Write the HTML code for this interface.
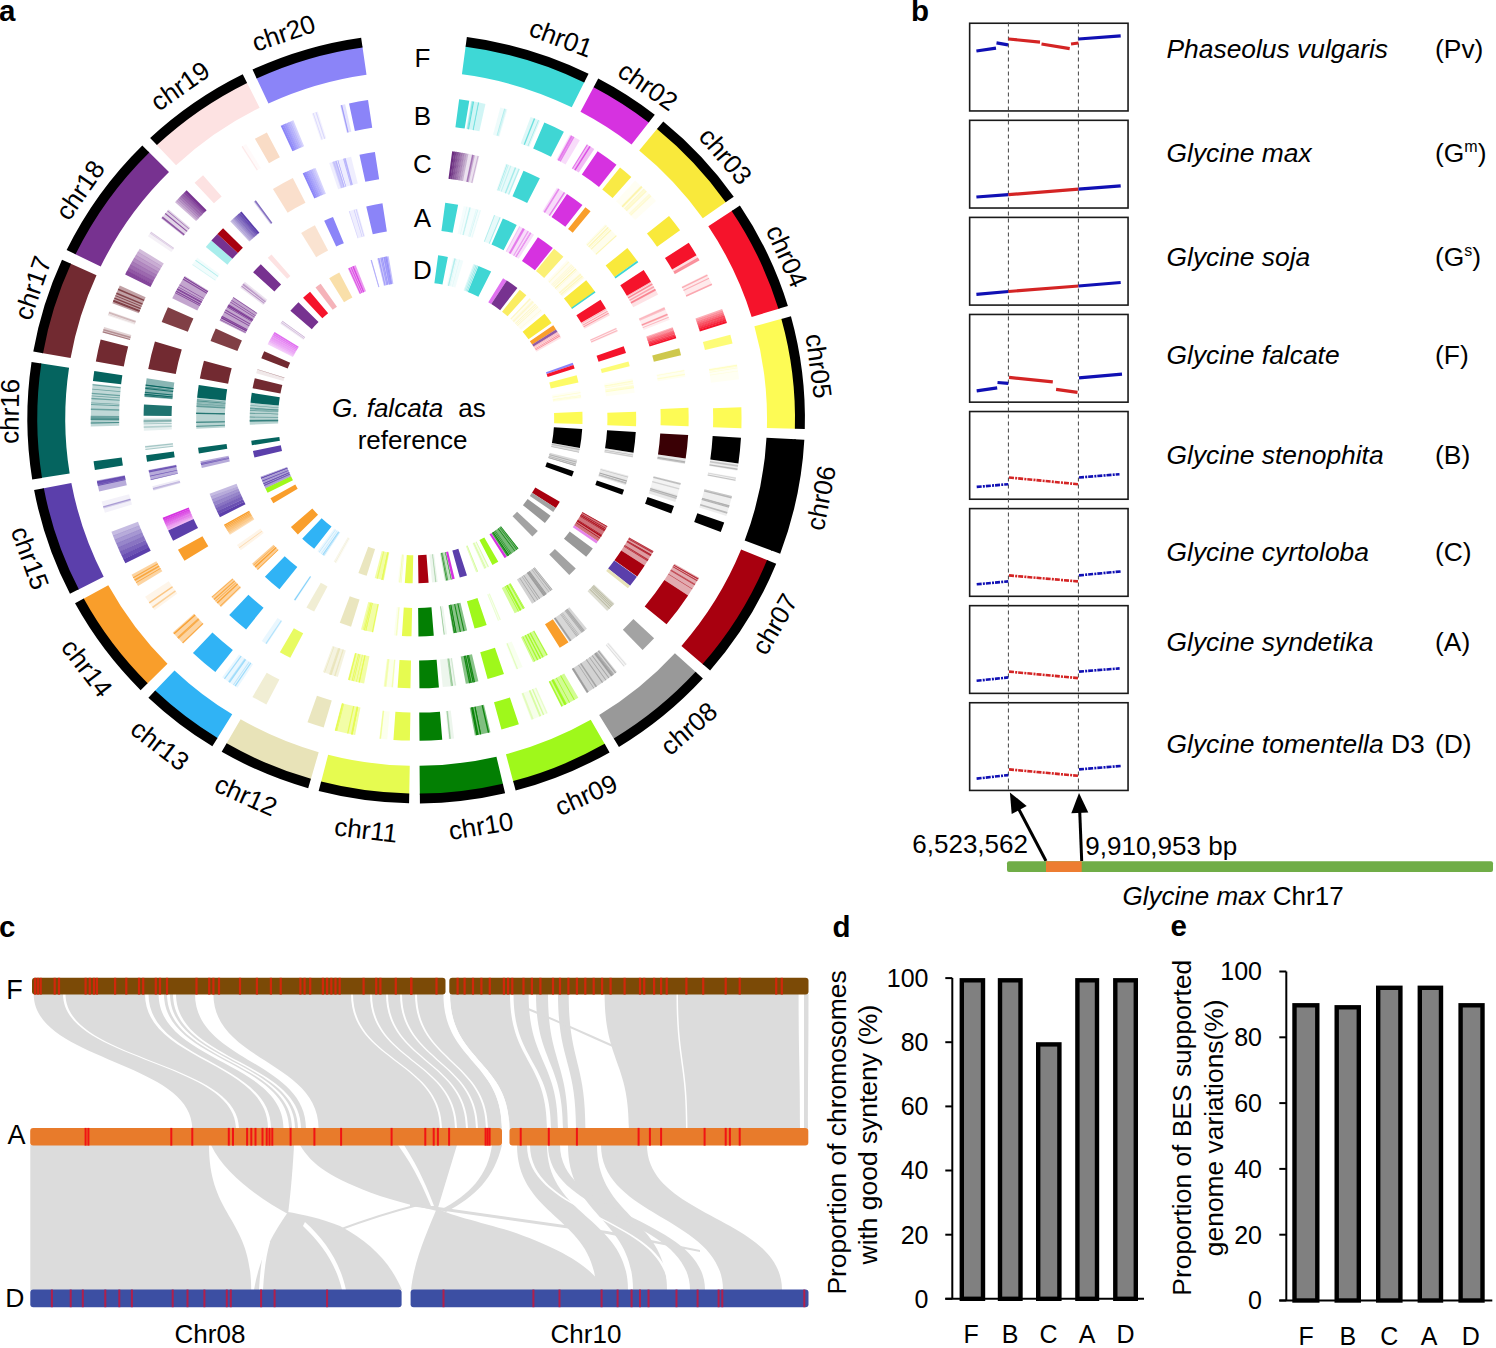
<!DOCTYPE html><html><head><meta charset="utf-8"><style>
html,body{margin:0;padding:0;background:#fff;width:1496px;height:1348px;overflow:hidden}
svg{display:block} text{font-family:"Liberation Sans",sans-serif;fill:#000}
</style></head><body>
<svg width="1496" height="1348" viewBox="0 0 1496 1348">
<rect width="1496" height="1348" fill="#fff"/>
<text x="-1" y="21" font-size="29.5" font-weight="bold">a</text>
<text x="911" y="21.4" font-size="29.5" font-weight="bold">b</text>
<text x="-1" y="936.5" font-size="29.5" font-weight="bold">c</text>
<text x="832.5" y="936.6" font-size="29.5" font-weight="bold">d</text>
<text x="1170.5" y="935.9" font-size="29.5" font-weight="bold">e</text>
<g transform="translate(416.13,418.6) scale(1.00465,0.99432)">
<path d="M49.40,-375.25A378.49,378.49 0 0 1 167.87,-339.22L154.91,-313.03A349.27,349.27 0 0 0 45.59,-346.28Z" fill="#3ed8d6"/>
<path d="M50.51,-383.69A387.00,387.00 0 0 1 171.65,-346.85L167.27,-338.01A377.13,377.13 0 0 0 49.23,-373.91Z" fill="#000"/>
<path d="M177.28,-334.40A378.49,378.49 0 0 1 232.34,-298.78L214.41,-275.71A349.27,349.27 0 0 0 163.59,-308.58Z" fill="#d632e0"/>
<path d="M181.27,-341.92A387.00,387.00 0 0 1 237.57,-305.50L231.51,-297.71A377.13,377.13 0 0 0 176.65,-333.20Z" fill="#000"/>
<path d="M240.59,-292.18A378.49,378.49 0 0 1 309.20,-218.28L285.33,-201.43A349.27,349.27 0 0 0 222.02,-269.62Z" fill="#f9e93b"/>
<path d="M246.01,-298.75A387.00,387.00 0 0 1 316.16,-223.19L308.10,-217.50A377.13,377.13 0 0 0 239.73,-291.13Z" fill="#000"/>
<path d="M315.18,-209.56A378.49,378.49 0 0 1 361.91,-110.78L333.97,-102.23A349.27,349.27 0 0 0 290.84,-193.38Z" fill="#f5132b"/>
<path d="M322.27,-214.28A387.00,387.00 0 0 1 370.05,-113.28L360.61,-110.39A377.13,377.13 0 0 0 314.05,-208.81Z" fill="#000"/>
<path d="M364.86,-100.64A378.49,378.49 0 0 1 378.35,10.30L349.14,9.51A349.27,349.27 0 0 0 336.69,-92.87Z" fill="#fdfb55"/>
<path d="M373.07,-102.90A387.00,387.00 0 0 1 386.86,10.54L376.99,10.27A377.13,377.13 0 0 0 363.56,-100.28Z" fill="#000"/>
<path d="M377.91,20.86A378.49,378.49 0 0 1 354.38,132.92L327.02,122.66A349.27,349.27 0 0 0 348.74,19.25Z" fill="#000000"/>
<path d="M386.41,21.33A387.00,387.00 0 0 1 362.35,135.91L353.11,132.44A377.13,377.13 0 0 0 376.56,20.79Z" fill="#000"/>
<path d="M350.53,142.76A378.49,378.49 0 0 1 286.17,247.71L264.07,228.59A349.27,349.27 0 0 0 323.47,131.74Z" fill="#a8000f"/>
<path d="M358.41,145.97A387.00,387.00 0 0 1 292.60,253.28L285.14,246.82A377.13,377.13 0 0 0 349.27,142.25Z" fill="#000"/>
<path d="M279.14,255.60A378.49,378.49 0 0 1 197.42,322.92L182.18,297.99A349.27,349.27 0 0 0 257.59,235.87Z" fill="#999999"/>
<path d="M285.42,261.35A387.00,387.00 0 0 1 201.86,330.18L196.71,321.76A377.13,377.13 0 0 0 278.14,254.69Z" fill="#000"/>
<path d="M188.33,328.31A378.49,378.49 0 0 1 96.87,365.88L89.40,337.63A349.27,349.27 0 0 0 173.79,302.96Z" fill="#9ff81b"/>
<path d="M192.56,335.69A387.00,387.00 0 0 1 99.05,374.11L96.53,364.57A377.13,377.13 0 0 0 187.65,327.13Z" fill="#000"/>
<path d="M86.62,368.44A378.49,378.49 0 0 1 3.70,378.47L3.41,349.25A349.27,349.27 0 0 0 79.93,340.00Z" fill="#037f03"/>
<path d="M88.57,376.73A387.00,387.00 0 0 1 3.78,386.98L3.69,377.11A377.13,377.13 0 0 0 86.31,367.12Z" fill="#000"/>
<path d="M-6.87,378.42A378.49,378.49 0 0 1 -94.89,366.40L-87.57,338.11A349.27,349.27 0 0 0 -6.34,349.21Z" fill="#e6fb50"/>
<path d="M-7.02,386.94A387.00,387.00 0 0 1 -97.03,374.64L-94.55,365.09A377.13,377.13 0 0 0 -6.85,377.07Z" fill="#000"/>
<path d="M-105.09,363.60A378.49,378.49 0 0 1 -189.30,327.75L-174.69,302.44A349.27,349.27 0 0 0 -96.97,335.54Z" fill="#e8e3b8"/>
<path d="M-107.45,371.78A387.00,387.00 0 0 1 -193.56,335.12L-188.62,326.57A377.13,377.13 0 0 0 -104.71,362.30Z" fill="#000"/>
<path d="M-198.38,322.33A378.49,378.49 0 0 1 -260.63,274.45L-240.51,253.27A349.27,349.27 0 0 0 -183.06,297.45Z" fill="#30b3f5"/>
<path d="M-202.84,329.58A387.00,387.00 0 0 1 -266.49,280.63L-259.70,273.47A377.13,377.13 0 0 0 -197.67,321.18Z" fill="#000"/>
<path d="M-268.19,267.07A378.49,378.49 0 0 1 -332.05,181.64L-306.42,167.62A349.27,349.27 0 0 0 -247.49,246.45Z" fill="#f99e2b"/>
<path d="M-274.22,273.08A387.00,387.00 0 0 1 -339.52,185.73L-330.86,180.99A377.13,377.13 0 0 0 -267.23,266.11Z" fill="#000"/>
<path d="M-336.99,172.30A378.49,378.49 0 0 1 -371.91,70.27L-343.19,64.85A349.27,349.27 0 0 0 -310.98,159.00Z" fill="#5b3fab"/>
<path d="M-344.57,176.18A387.00,387.00 0 0 1 -380.27,71.85L-370.57,70.02A377.13,377.13 0 0 0 -335.79,171.68Z" fill="#000"/>
<path d="M-373.72,59.86A378.49,378.49 0 0 1 -374.39,-55.55L-345.48,-51.26A349.27,349.27 0 0 0 -344.87,55.24Z" fill="#05645f"/>
<path d="M-382.13,61.21A387.00,387.00 0 0 1 -382.81,-56.80L-373.05,-55.35A377.13,377.13 0 0 0 -372.38,59.65Z" fill="#000"/>
<path d="M-372.69,-65.98A378.49,378.49 0 0 1 -344.74,-156.23L-318.12,-144.17A349.27,349.27 0 0 0 -343.92,-60.89Z" fill="#722a31"/>
<path d="M-381.07,-67.47A387.00,387.00 0 0 1 -352.49,-159.75L-343.50,-155.67A377.13,377.13 0 0 0 -371.36,-65.75Z" fill="#000"/>
<path d="M-340.24,-165.80A378.49,378.49 0 0 1 -266.55,-268.70L-245.98,-247.96A349.27,349.27 0 0 0 -313.97,-153.00Z" fill="#773290"/>
<path d="M-347.89,-169.53A387.00,387.00 0 0 1 -272.55,-274.75L-265.60,-267.74A377.13,377.13 0 0 0 -339.02,-165.21Z" fill="#000"/>
<path d="M-258.95,-276.04A378.49,378.49 0 0 1 -168.82,-338.75L-155.79,-312.60A349.27,349.27 0 0 0 -238.96,-254.73Z" fill="#fde2e2"/>
<path d="M-264.77,-282.25A387.00,387.00 0 0 1 -172.62,-346.37L-168.22,-337.54A377.13,377.13 0 0 0 -258.02,-275.05Z" fill="#000"/>
<path d="M-159.30,-343.33A378.49,378.49 0 0 1 -53.53,-374.68L-49.39,-345.76A349.27,349.27 0 0 0 -147.00,-316.83Z" fill="#8b84f8"/>
<path d="M-162.88,-351.05A387.00,387.00 0 0 1 -54.73,-383.11L-53.33,-373.34A377.13,377.13 0 0 0 -158.73,-342.10Z" fill="#000"/>
<path d="M42.84,-321.07A323.92,323.92 0 0 1 52.90,-319.57L48.29,-291.70A295.67,295.67 0 0 0 39.10,-293.07Z" fill="#3fd6d4" fill-opacity="1"/>
<path d="M54.58,-319.29A323.92,323.92 0 0 1 69.00,-316.48L62.99,-288.88A295.67,295.67 0 0 0 49.82,-291.44Z" fill="#3fd6d4" fill-opacity="0.24"/>
<path d="M56.60,-318.94A323.92,323.92 0 0 1 57.68,-318.74L52.65,-290.94A295.67,295.67 0 0 0 51.66,-291.12Z" fill="#3fd6d4" fill-opacity="0.78"/>
<path d="M61.92,-317.95A323.92,323.92 0 0 1 62.68,-317.80L57.21,-290.08A295.67,295.67 0 0 0 56.52,-290.22Z" fill="#3fd6d4" fill-opacity="0.62"/>
<path d="M61.54,-318.02A323.92,323.92 0 0 1 62.28,-317.88L56.85,-290.15A295.67,295.67 0 0 0 56.17,-290.28Z" fill="#3fd6d4" fill-opacity="0.44"/>
<path d="M55.50,-319.13A323.92,323.92 0 0 1 56.73,-318.91L51.78,-291.10A295.67,295.67 0 0 0 50.66,-291.30Z" fill="#3fd6d4" fill-opacity="0.47"/>
<path d="M83.84,-312.88A323.92,323.92 0 0 1 90.91,-310.90L82.98,-283.78A295.67,295.67 0 0 0 76.52,-285.59Z" fill="#3fd6d4" fill-opacity="0.09"/>
<path d="M88.71,-311.53A323.92,323.92 0 0 1 89.90,-311.19L82.06,-284.05A295.67,295.67 0 0 0 80.98,-284.36Z" fill="#3fd6d4" fill-opacity="0.17"/>
<path d="M87.70,-311.82A323.92,323.92 0 0 1 88.63,-311.56L80.90,-284.39A295.67,295.67 0 0 0 80.05,-284.63Z" fill="#3fd6d4" fill-opacity="0.34"/>
<path d="M113.97,-303.21A323.92,323.92 0 0 1 123.44,-299.48L112.67,-273.36A295.67,295.67 0 0 0 104.03,-276.76Z" fill="#3fd6d4" fill-opacity="0.17"/>
<path d="M117.21,-301.97A323.92,323.92 0 0 1 118.54,-301.45L108.20,-275.16A295.67,295.67 0 0 0 106.99,-275.63Z" fill="#3fd6d4" fill-opacity="0.69"/>
<path d="M121.52,-300.26A323.92,323.92 0 0 1 122.20,-299.98L111.54,-273.82A295.67,295.67 0 0 0 110.92,-274.07Z" fill="#3fd6d4" fill-opacity="0.42"/>
<path d="M127.61,-297.73A323.92,323.92 0 0 1 147.06,-288.61L134.23,-263.44A295.67,295.67 0 0 0 116.48,-271.76Z" fill="#3fd6d4" fill-opacity="1"/>
<path d="M153.07,-285.47A323.92,323.92 0 0 1 162.94,-279.96L148.73,-255.54A295.67,295.67 0 0 0 139.72,-260.57Z" fill="#d632e0" fill-opacity="0.17"/>
<path d="M154.15,-284.89A323.92,323.92 0 0 1 154.91,-284.47L141.40,-259.66A295.67,295.67 0 0 0 140.71,-260.04Z" fill="#d632e0" fill-opacity="0.42"/>
<path d="M154.59,-284.65A323.92,323.92 0 0 1 156.12,-283.82L142.50,-259.06A295.67,295.67 0 0 0 141.11,-259.82Z" fill="#d632e0" fill-opacity="0.53"/>
<path d="M156.27,-283.73A323.92,323.92 0 0 1 157.59,-283.00L143.85,-258.32A295.67,295.67 0 0 0 142.64,-258.98Z" fill="#d632e0" fill-opacity="0.52"/>
<path d="M169.73,-275.89A323.92,323.92 0 0 1 177.37,-271.04L161.90,-247.40A295.67,295.67 0 0 0 154.93,-251.83Z" fill="#d632e0" fill-opacity="0.32"/>
<path d="M170.15,-275.63A323.92,323.92 0 0 1 170.80,-275.23L155.90,-251.23A295.67,295.67 0 0 0 155.31,-251.59Z" fill="#d632e0" fill-opacity="0.69"/>
<path d="M172.45,-274.20A323.92,323.92 0 0 1 173.77,-273.37L158.61,-249.52A295.67,295.67 0 0 0 157.41,-250.29Z" fill="#d632e0" fill-opacity="0.77"/>
<path d="M180.66,-268.86A323.92,323.92 0 0 1 199.42,-255.25L182.03,-232.99A295.67,295.67 0 0 0 164.91,-245.41Z" fill="#d632e0" fill-opacity="1"/>
<path d="M202.97,-252.44A323.92,323.92 0 0 1 214.21,-242.98L195.53,-221.78A295.67,295.67 0 0 0 185.27,-230.43Z" fill="#f9e93b" fill-opacity="0.95"/>
<path d="M218.00,-239.58A323.92,323.92 0 0 1 238.82,-218.84L217.99,-199.75A295.67,295.67 0 0 0 198.99,-218.69Z" fill="#f9e93b" fill-opacity="0.06"/>
<path d="M227.20,-230.87A323.92,323.92 0 0 1 228.23,-229.86L208.32,-209.81A295.67,295.67 0 0 0 207.39,-210.74Z" fill="#f9e93b" fill-opacity="0.15"/>
<path d="M231.92,-226.14A323.92,323.92 0 0 1 233.11,-224.91L212.78,-205.29A295.67,295.67 0 0 0 211.69,-206.41Z" fill="#f9e93b" fill-opacity="0.14"/>
<path d="M228.64,-229.45A323.92,323.92 0 0 1 229.65,-228.44L209.62,-208.52A295.67,295.67 0 0 0 208.70,-209.44Z" fill="#f9e93b" fill-opacity="0.23"/>
<path d="M223.85,-234.13A323.92,323.92 0 0 1 225.02,-233.00L205.40,-212.68A295.67,295.67 0 0 0 204.33,-213.71Z" fill="#f9e93b" fill-opacity="0.25"/>
<path d="M226.69,-231.38A323.92,323.92 0 0 1 227.28,-230.80L207.46,-210.67A295.67,295.67 0 0 0 206.91,-211.20Z" fill="#f9e93b" fill-opacity="0.22"/>
<path d="M228.11,-229.98A323.92,323.92 0 0 1 228.73,-229.36L208.78,-209.35A295.67,295.67 0 0 0 208.22,-209.92Z" fill="#f9e93b" fill-opacity="0.11"/>
<path d="M233.27,-224.74A323.92,323.92 0 0 1 234.34,-223.63L213.90,-204.12A295.67,295.67 0 0 0 212.92,-205.14Z" fill="#f9e93b" fill-opacity="0.19"/>
<path d="M224.32,-233.67A323.92,323.92 0 0 1 225.63,-232.41L205.95,-212.14A295.67,295.67 0 0 0 204.76,-213.29Z" fill="#f9e93b" fill-opacity="0.21"/>
<path d="M251.73,-203.85A323.92,323.92 0 0 1 262.72,-189.48L239.81,-172.95A295.67,295.67 0 0 0 229.78,-186.07Z" fill="#f9e93b" fill-opacity="1"/>
<path d="M271.35,-176.89A323.92,323.92 0 0 1 279.10,-164.40L254.76,-150.06A295.67,295.67 0 0 0 247.69,-161.46Z" fill="#f5132b" fill-opacity="1"/>
<path d="M279.10,-164.40A323.92,323.92 0 0 1 282.20,-159.01L257.59,-145.14A295.67,295.67 0 0 0 254.76,-150.06Z" fill="#f5132b" fill-opacity="0.14"/>
<path d="M280.49,-162.01A323.92,323.92 0 0 1 281.21,-160.75L256.69,-146.73A295.67,295.67 0 0 0 256.03,-147.88Z" fill="#f5132b" fill-opacity="0.39"/>
<path d="M281.21,-160.77A323.92,323.92 0 0 1 282.08,-159.23L257.48,-145.34A295.67,295.67 0 0 0 256.68,-146.75Z" fill="#f5132b" fill-opacity="0.39"/>
<path d="M289.38,-145.54A323.92,323.92 0 0 1 294.75,-134.33L269.05,-122.61A295.67,295.67 0 0 0 264.14,-132.85Z" fill="#f5132b" fill-opacity="0.09"/>
<path d="M289.68,-144.95A323.92,323.92 0 0 1 290.36,-143.57L265.04,-131.05A295.67,295.67 0 0 0 264.41,-132.31Z" fill="#f5132b" fill-opacity="0.29"/>
<path d="M294.09,-135.78A323.92,323.92 0 0 1 294.72,-134.40L269.02,-122.67A295.67,295.67 0 0 0 268.44,-123.94Z" fill="#f5132b" fill-opacity="0.31"/>
<path d="M291.33,-141.60A323.92,323.92 0 0 1 291.78,-140.66L266.34,-128.39A295.67,295.67 0 0 0 265.92,-129.25Z" fill="#f5132b" fill-opacity="0.28"/>
<path d="M304.58,-110.26A323.92,323.92 0 0 1 305.29,-108.26L278.67,-98.82A295.67,295.67 0 0 0 278.01,-100.64Z" fill="#f5132b" fill-opacity="0.35"/>
<path d="M305.20,-108.53A323.92,323.92 0 0 1 305.90,-106.53L279.22,-97.24A295.67,295.67 0 0 0 278.58,-99.06Z" fill="#f5132b" fill-opacity="0.44"/>
<path d="M305.81,-106.79A323.92,323.92 0 0 1 306.50,-104.79L279.77,-95.65A295.67,295.67 0 0 0 279.14,-97.48Z" fill="#f5132b" fill-opacity="0.54"/>
<path d="M306.41,-105.06A323.92,323.92 0 0 1 307.09,-103.05L280.31,-94.06A295.67,295.67 0 0 0 279.69,-95.89Z" fill="#f5132b" fill-opacity="0.63"/>
<path d="M307.00,-103.32A323.92,323.92 0 0 1 307.67,-101.31L280.84,-92.47A295.67,295.67 0 0 0 280.22,-94.31Z" fill="#f5132b" fill-opacity="0.72"/>
<path d="M307.58,-101.57A323.92,323.92 0 0 1 308.24,-99.56L281.36,-90.88A295.67,295.67 0 0 0 280.76,-92.72Z" fill="#f5132b" fill-opacity="0.81"/>
<path d="M308.15,-99.83A323.92,323.92 0 0 1 308.80,-97.81L281.87,-89.28A295.67,295.67 0 0 0 281.28,-91.12Z" fill="#f5132b" fill-opacity="0.91"/>
<path d="M308.71,-98.08A323.92,323.92 0 0 1 309.35,-96.06L282.37,-87.68A295.67,295.67 0 0 0 281.79,-89.52Z" fill="#f5132b" fill-opacity="1.00"/>
<path d="M312.73,-84.38A323.92,323.92 0 0 1 314.97,-75.62L287.50,-69.02A295.67,295.67 0 0 0 285.46,-77.02Z" fill="#fdfb55" fill-opacity="0.8"/>
<path d="M319.19,-55.13A323.92,323.92 0 0 1 321.50,-39.48L293.46,-36.03A295.67,295.67 0 0 0 291.35,-50.33Z" fill="#fdfb55" fill-opacity="0.07"/>
<path d="M320.31,-48.24A323.92,323.92 0 0 1 320.41,-47.54L292.47,-43.40A295.67,295.67 0 0 0 292.37,-44.03Z" fill="#fdfb55" fill-opacity="0.15"/>
<path d="M319.34,-54.26A323.92,323.92 0 0 1 319.48,-53.44L291.62,-48.78A295.67,295.67 0 0 0 291.49,-49.53Z" fill="#fdfb55" fill-opacity="0.24"/>
<path d="M319.80,-51.47A323.92,323.92 0 0 1 319.94,-50.64L292.03,-46.22A295.67,295.67 0 0 0 291.91,-46.99Z" fill="#fdfb55" fill-opacity="0.18"/>
<path d="M319.38,-54.02A323.92,323.92 0 0 1 319.68,-52.23L291.80,-47.68A295.67,295.67 0 0 0 291.53,-49.31Z" fill="#fdfb55" fill-opacity="0.19"/>
<path d="M323.72,-11.30A323.92,323.92 0 0 1 323.78,9.61L295.54,8.77A295.67,295.67 0 0 0 295.49,-10.32Z" fill="#fdfb55" fill-opacity="1"/>
<path d="M323.35,19.21A323.92,323.92 0 0 1 320.77,45.08L292.79,41.15A295.67,295.67 0 0 0 295.15,17.53Z" fill="#000000" fill-opacity="1"/>
<path d="M320.77,45.08A323.92,323.92 0 0 1 319.66,52.35L291.78,47.78A295.67,295.67 0 0 0 292.79,41.15Z" fill="#999999" fill-opacity="0.17"/>
<path d="M319.99,50.29A323.92,323.92 0 0 1 319.77,51.66L291.88,47.16A295.67,295.67 0 0 0 292.08,45.90Z" fill="#999999" fill-opacity="0.63"/>
<path d="M320.55,46.61A323.92,323.92 0 0 1 320.28,48.39L292.35,44.17A295.67,295.67 0 0 0 292.59,42.54Z" fill="#999999" fill-opacity="0.47"/>
<path d="M318.49,59.03A323.92,323.92 0 0 1 317.75,62.92L290.04,57.43A295.67,295.67 0 0 0 290.72,53.88Z" fill="#999999" fill-opacity="0.14"/>
<path d="M318.03,61.47A323.92,323.92 0 0 1 317.81,62.60L290.09,57.14A295.67,295.67 0 0 0 290.29,56.11Z" fill="#999999" fill-opacity="0.55"/>
<path d="M318.40,59.56A323.92,323.92 0 0 1 318.23,60.42L290.48,55.15A295.67,295.67 0 0 0 290.63,54.37Z" fill="#999999" fill-opacity="0.31"/>
<path d="M314.43,77.81A323.92,323.92 0 0 1 308.76,97.94L281.83,89.40A295.67,295.67 0 0 0 287.01,71.03Z" fill="#999999" fill-opacity="0.17"/>
<path d="M311.97,87.16A323.92,323.92 0 0 1 311.71,88.11L284.52,80.42A295.67,295.67 0 0 0 284.76,79.56Z" fill="#999999" fill-opacity="0.54"/>
<path d="M314.41,77.89A323.92,323.92 0 0 1 314.17,78.88L286.77,72.00A295.67,295.67 0 0 0 286.99,71.10Z" fill="#999999" fill-opacity="0.47"/>
<path d="M311.56,88.63A323.92,323.92 0 0 1 311.24,89.74L284.09,81.92A295.67,295.67 0 0 0 284.39,80.90Z" fill="#999999" fill-opacity="0.68"/>
<path d="M311.89,87.45A323.92,323.92 0 0 1 311.46,88.97L284.30,81.21A295.67,295.67 0 0 0 284.69,79.83Z" fill="#999999" fill-opacity="0.55"/>
<path d="M314.18,78.83A323.92,323.92 0 0 1 313.80,80.34L286.43,73.33A295.67,295.67 0 0 0 286.78,71.95Z" fill="#999999" fill-opacity="0.66"/>
<path d="M309.97,94.02A323.92,323.92 0 0 1 309.48,95.64L282.49,87.30A295.67,295.67 0 0 0 282.94,85.82Z" fill="#999999" fill-opacity="0.62"/>
<path d="M306.64,104.39A323.92,323.92 0 0 1 303.21,113.97L276.76,104.03A295.67,295.67 0 0 0 279.89,95.28Z" fill="#000000" fill-opacity="1"/>
<path d="M281.65,160.00A323.92,323.92 0 0 1 270.73,177.84L247.12,162.33A295.67,295.67 0 0 0 257.08,146.04Z" fill="#a8000f" fill-opacity="0.33"/>
<path d="M277.64,166.85A323.92,323.92 0 0 1 277.12,167.72L252.95,153.09A295.67,295.67 0 0 0 253.42,152.30Z" fill="#a8000f" fill-opacity="0.60"/>
<path d="M275.09,171.03A323.92,323.92 0 0 1 274.73,171.61L250.77,156.64A295.67,295.67 0 0 0 251.09,156.11Z" fill="#a8000f" fill-opacity="0.60"/>
<path d="M280.97,161.18A323.92,323.92 0 0 1 280.65,161.73L256.17,147.63A295.67,295.67 0 0 0 256.46,147.13Z" fill="#a8000f" fill-opacity="0.60"/>
<path d="M280.02,162.83A323.92,323.92 0 0 1 279.62,163.52L255.23,149.26A295.67,295.67 0 0 0 255.60,148.63Z" fill="#a8000f" fill-opacity="0.60"/>
<path d="M281.13,160.91A323.92,323.92 0 0 1 280.65,161.73L256.18,147.63A295.67,295.67 0 0 0 256.61,146.88Z" fill="#a8000f" fill-opacity="0.60"/>
<path d="M280.11,162.67A323.92,323.92 0 0 1 279.83,163.16L255.42,148.93A295.67,295.67 0 0 0 255.68,148.48Z" fill="#a8000f" fill-opacity="0.60"/>
<path d="M277.94,166.35A323.92,323.92 0 0 1 277.59,166.94L253.38,152.38A295.67,295.67 0 0 0 253.70,151.84Z" fill="#a8000f" fill-opacity="0.60"/>
<path d="M270.73,177.84A323.92,323.92 0 0 1 249.22,206.91L227.49,188.86A295.67,295.67 0 0 0 247.12,162.33Z" fill="#a8000f" fill-opacity="1"/>
<path d="M236.90,220.91A323.92,323.92 0 0 1 225.42,232.61L205.76,212.33A295.67,295.67 0 0 0 216.24,201.65Z" fill="#999999" fill-opacity="0.9"/>
<path d="M209.94,246.68A323.92,323.92 0 0 1 206.47,249.58L188.47,227.82A295.67,295.67 0 0 0 191.63,225.16Z" fill="#999999" fill-opacity="0.10"/>
<path d="M207.39,248.82A323.92,323.92 0 0 1 206.84,249.28L188.80,227.54A295.67,295.67 0 0 0 189.30,227.12Z" fill="#999999" fill-opacity="0.33"/>
<path d="M209.24,247.27A323.92,323.92 0 0 1 208.57,247.83L190.38,226.22A295.67,295.67 0 0 0 190.99,225.71Z" fill="#999999" fill-opacity="0.26"/>
<path d="M199.87,254.90A323.92,323.92 0 0 1 169.73,275.89L154.93,251.83A295.67,295.67 0 0 0 182.44,232.67Z" fill="#999999" fill-opacity="0.44"/>
<path d="M196.39,257.59A323.92,323.92 0 0 1 195.62,258.18L178.55,235.66A295.67,295.67 0 0 0 179.26,235.12Z" fill="#999999" fill-opacity="0.80"/>
<path d="M171.23,274.96A323.92,323.92 0 0 1 169.94,275.76L155.11,251.71A295.67,295.67 0 0 0 156.30,250.98Z" fill="#999999" fill-opacity="0.80"/>
<path d="M186.02,265.18A323.92,323.92 0 0 1 185.12,265.81L168.98,242.62A295.67,295.67 0 0 0 169.79,242.05Z" fill="#999999" fill-opacity="0.80"/>
<path d="M196.95,257.16A323.92,323.92 0 0 1 196.43,257.56L179.30,235.10A295.67,295.67 0 0 0 179.78,234.73Z" fill="#999999" fill-opacity="0.80"/>
<path d="M192.33,260.64A323.92,323.92 0 0 1 191.56,261.21L174.85,238.42A295.67,295.67 0 0 0 175.55,237.91Z" fill="#999999" fill-opacity="0.80"/>
<path d="M195.36,258.37A323.92,323.92 0 0 1 194.16,259.28L177.23,236.66A295.67,295.67 0 0 0 178.32,235.84Z" fill="#999999" fill-opacity="0.80"/>
<path d="M171.74,274.64A323.92,323.92 0 0 1 171.24,274.96L156.30,250.98A295.67,295.67 0 0 0 156.76,250.69Z" fill="#999999" fill-opacity="0.80"/>
<path d="M195.74,258.09A323.92,323.92 0 0 1 194.81,258.79L177.82,236.22A295.67,295.67 0 0 0 178.67,235.58Z" fill="#999999" fill-opacity="0.80"/>
<path d="M199.11,255.50A323.92,323.92 0 0 1 198.18,256.22L180.90,233.87A295.67,295.67 0 0 0 181.75,233.21Z" fill="#999999" fill-opacity="0.80"/>
<path d="M171.37,274.88A323.92,323.92 0 0 1 170.38,275.49L155.52,251.46A295.67,295.67 0 0 0 156.42,250.90Z" fill="#999999" fill-opacity="0.80"/>
<path d="M180.03,269.28A323.92,323.92 0 0 1 178.74,270.14L163.16,246.58A295.67,295.67 0 0 0 164.33,245.80Z" fill="#999999" fill-opacity="0.80"/>
<path d="M189.35,262.81A323.92,323.92 0 0 1 188.65,263.31L172.20,240.35A295.67,295.67 0 0 0 172.84,239.89Z" fill="#999999" fill-opacity="0.80"/>
<path d="M177.30,271.09A323.92,323.92 0 0 1 176.67,271.50L161.26,247.82A295.67,295.67 0 0 0 161.83,247.45Z" fill="#999999" fill-opacity="0.80"/>
<path d="M161.47,280.80A323.92,323.92 0 0 1 144.53,289.89L131.93,264.60A295.67,295.67 0 0 0 147.39,256.31Z" fill="#9ff81b" fill-opacity="0.47"/>
<path d="M149.13,287.55A323.92,323.92 0 0 1 148.09,288.08L135.17,262.96A295.67,295.67 0 0 0 136.12,262.47Z" fill="#9ff81b" fill-opacity="0.85"/>
<path d="M157.92,282.81A323.92,323.92 0 0 1 157.10,283.27L143.40,258.57A295.67,295.67 0 0 0 144.15,258.15Z" fill="#9ff81b" fill-opacity="0.85"/>
<path d="M146.10,289.10A323.92,323.92 0 0 1 144.77,289.77L132.14,264.49A295.67,295.67 0 0 0 133.35,263.89Z" fill="#9ff81b" fill-opacity="0.85"/>
<path d="M148.95,287.64A323.92,323.92 0 0 1 147.59,288.34L134.72,263.19A295.67,295.67 0 0 0 135.96,262.55Z" fill="#9ff81b" fill-opacity="0.85"/>
<path d="M149.97,287.11A323.92,323.92 0 0 1 148.64,287.80L135.68,262.70A295.67,295.67 0 0 0 136.89,262.07Z" fill="#9ff81b" fill-opacity="0.85"/>
<path d="M153.14,285.43A323.92,323.92 0 0 1 152.42,285.82L139.13,260.89A295.67,295.67 0 0 0 139.79,260.54Z" fill="#9ff81b" fill-opacity="0.85"/>
<path d="M131.23,296.14A323.92,323.92 0 0 1 114.50,303.01L104.51,276.58A295.67,295.67 0 0 0 119.79,270.32Z" fill="#9ff81b" fill-opacity="0.09"/>
<path d="M130.78,296.34A323.92,323.92 0 0 1 129.74,296.80L118.42,270.92A295.67,295.67 0 0 0 119.38,270.50Z" fill="#9ff81b" fill-opacity="0.16"/>
<path d="M127.18,297.91A323.92,323.92 0 0 1 126.22,298.31L115.21,272.30A295.67,295.67 0 0 0 116.09,271.92Z" fill="#9ff81b" fill-opacity="0.29"/>
<path d="M124.59,299.00A323.92,323.92 0 0 1 122.81,299.73L112.10,273.59A295.67,295.67 0 0 0 113.72,272.92Z" fill="#9ff81b" fill-opacity="0.34"/>
<path d="M117.01,302.05A323.92,323.92 0 0 1 115.18,302.75L105.13,276.35A295.67,295.67 0 0 0 106.80,275.70Z" fill="#9ff81b" fill-opacity="0.22"/>
<path d="M127.67,297.70A323.92,323.92 0 0 1 126.78,298.08L115.73,272.08A295.67,295.67 0 0 0 116.54,271.73Z" fill="#9ff81b" fill-opacity="0.19"/>
<path d="M102.24,307.36A323.92,323.92 0 0 1 84.93,312.59L77.52,285.32A295.67,295.67 0 0 0 93.33,280.55Z" fill="#9ff81b" fill-opacity="1"/>
<path d="M73.97,315.36A323.92,323.92 0 0 1 58.47,318.60L53.37,290.81A295.67,295.67 0 0 0 67.52,287.86Z" fill="#037f03" fill-opacity="0.50"/>
<path d="M64.80,317.37A323.92,323.92 0 0 1 64.02,317.53L58.44,289.84A295.67,295.67 0 0 0 59.15,289.69Z" fill="#037f03" fill-opacity="0.90"/>
<path d="M62.26,317.88A323.92,323.92 0 0 1 60.71,318.18L55.41,290.43A295.67,295.67 0 0 0 56.83,290.15Z" fill="#037f03" fill-opacity="0.90"/>
<path d="M64.58,317.42A323.92,323.92 0 0 1 63.49,317.64L57.95,289.93A295.67,295.67 0 0 0 58.94,289.73Z" fill="#037f03" fill-opacity="0.90"/>
<path d="M72.78,315.64A323.92,323.92 0 0 1 71.35,315.96L65.13,288.41A295.67,295.67 0 0 0 66.43,288.11Z" fill="#037f03" fill-opacity="0.90"/>
<path d="M61.05,318.11A323.92,323.92 0 0 1 59.76,318.36L54.55,290.59A295.67,295.67 0 0 0 55.73,290.37Z" fill="#037f03" fill-opacity="0.90"/>
<path d="M37.79,321.71A323.92,323.92 0 0 1 32.17,322.32L29.37,294.21A295.67,295.67 0 0 0 34.50,293.65Z" fill="#037f03" fill-opacity="0.07"/>
<path d="M34.84,322.04A323.92,323.92 0 0 1 33.16,322.22L30.26,294.12A295.67,295.67 0 0 0 31.80,293.95Z" fill="#037f03" fill-opacity="0.20"/>
<path d="M34.07,322.12A323.92,323.92 0 0 1 33.17,322.22L30.27,294.11A295.67,295.67 0 0 0 31.10,294.03Z" fill="#037f03" fill-opacity="0.17"/>
<path d="M25.98,322.88A323.92,323.92 0 0 1 3.39,323.90L3.10,295.65A295.67,295.67 0 0 0 23.71,294.72Z" fill="#037f03" fill-opacity="1"/>
<path d="M-6.22,323.86A323.92,323.92 0 0 1 -22.60,323.13L-20.62,294.95A295.67,295.67 0 0 0 -5.68,295.61Z" fill="#e6fb50" fill-opacity="1"/>
<path d="M-28.79,322.64A323.92,323.92 0 0 1 -36.67,321.84L-33.47,293.77A295.67,295.67 0 0 0 -26.28,294.50Z" fill="#e6fb50" fill-opacity="0.10"/>
<path d="M-34.78,322.05A323.92,323.92 0 0 1 -36.49,321.86L-33.31,293.79A295.67,295.67 0 0 0 -31.75,293.96Z" fill="#e6fb50" fill-opacity="0.28"/>
<path d="M-35.12,322.01A323.92,323.92 0 0 1 -36.31,321.88L-33.15,293.80A295.67,295.67 0 0 0 -32.06,293.92Z" fill="#e6fb50" fill-opacity="0.35"/>
<path d="M-60.70,318.18A323.92,323.92 0 0 1 -81.10,313.60L-74.03,286.25A295.67,295.67 0 0 0 -55.40,290.43Z" fill="#e6fb50" fill-opacity="0.50"/>
<path d="M-63.21,317.69A323.92,323.92 0 0 1 -63.95,317.54L-58.38,289.85A295.67,295.67 0 0 0 -57.70,289.98Z" fill="#e6fb50" fill-opacity="0.90"/>
<path d="M-78.53,314.26A323.92,323.92 0 0 1 -79.24,314.08L-72.33,286.68A295.67,295.67 0 0 0 -71.68,286.85Z" fill="#e6fb50" fill-opacity="0.90"/>
<path d="M-63.49,317.64A323.92,323.92 0 0 1 -64.93,317.34L-59.27,289.67A295.67,295.67 0 0 0 -57.95,289.93Z" fill="#e6fb50" fill-opacity="0.90"/>
<path d="M-79.28,314.07A323.92,323.92 0 0 1 -80.73,313.70L-73.69,286.34A295.67,295.67 0 0 0 -72.36,286.68Z" fill="#e6fb50" fill-opacity="0.90"/>
<path d="M-67.43,316.82A323.92,323.92 0 0 1 -68.71,316.55L-62.72,288.94A295.67,295.67 0 0 0 -61.55,289.19Z" fill="#e6fb50" fill-opacity="0.90"/>
<path d="M-63.23,317.69A323.92,323.92 0 0 1 -64.40,317.45L-58.78,289.77A295.67,295.67 0 0 0 -57.72,289.98Z" fill="#e6fb50" fill-opacity="0.90"/>
<path d="M-79.97,313.89A323.92,323.92 0 0 1 -80.53,313.75L-73.51,286.39A295.67,295.67 0 0 0 -72.99,286.52Z" fill="#e6fb50" fill-opacity="0.90"/>
<path d="M-92.00,310.58A323.92,323.92 0 0 1 -108.13,305.34L-98.70,278.71A295.67,295.67 0 0 0 -83.97,283.49Z" fill="#e8e3b8" fill-opacity="0.9"/>
<path d="M-149.07,287.58A323.92,323.92 0 0 1 -162.94,279.96L-148.73,255.54A295.67,295.67 0 0 0 -136.07,262.50Z" fill="#e8e3b8" fill-opacity="0.6"/>
<path d="M-177.84,270.73A323.92,323.92 0 0 1 -193.13,260.05L-176.28,237.37A295.67,295.67 0 0 0 -162.33,247.12Z" fill="#30b3f5" fill-opacity="0.10"/>
<path d="M-185.31,265.68A323.92,323.92 0 0 1 -186.56,264.80L-170.29,241.71A295.67,295.67 0 0 0 -169.15,242.50Z" fill="#30b3f5" fill-opacity="0.40"/>
<path d="M-190.33,262.11A323.92,323.92 0 0 1 -191.33,261.37L-174.64,238.58A295.67,295.67 0 0 0 -173.73,239.25Z" fill="#30b3f5" fill-opacity="0.38"/>
<path d="M-181.55,268.26A323.92,323.92 0 0 1 -182.34,267.73L-166.43,244.38A295.67,295.67 0 0 0 -165.71,244.86Z" fill="#30b3f5" fill-opacity="0.25"/>
<path d="M-186.41,264.91A323.92,323.92 0 0 1 -187.21,264.34L-170.89,241.28A295.67,295.67 0 0 0 -170.15,241.80Z" fill="#30b3f5" fill-opacity="0.24"/>
<path d="M-179.74,269.47A323.92,323.92 0 0 1 -180.76,268.79L-165.00,245.35A295.67,295.67 0 0 0 -164.07,245.97Z" fill="#30b3f5" fill-opacity="0.40"/>
<path d="M-199.87,254.90A323.92,323.92 0 0 1 -222.15,235.74L-202.77,215.18A295.67,295.67 0 0 0 -182.44,232.67Z" fill="#30b3f5" fill-opacity="1"/>
<path d="M-231.83,226.23A323.92,323.92 0 0 1 -242.23,215.06L-221.10,196.30A295.67,295.67 0 0 0 -211.61,206.50Z" fill="#f99e2b" fill-opacity="0.44"/>
<path d="M-236.35,221.50A323.92,323.92 0 0 1 -237.01,220.79L-216.34,201.53A295.67,295.67 0 0 0 -215.74,202.18Z" fill="#f99e2b" fill-opacity="0.80"/>
<path d="M-240.51,216.97A323.92,323.92 0 0 1 -241.33,216.06L-220.28,197.22A295.67,295.67 0 0 0 -219.54,198.05Z" fill="#f99e2b" fill-opacity="0.80"/>
<path d="M-240.75,216.71A323.92,323.92 0 0 1 -241.45,215.93L-220.39,197.10A295.67,295.67 0 0 0 -219.75,197.81Z" fill="#f99e2b" fill-opacity="0.80"/>
<path d="M-237.01,220.79A323.92,323.92 0 0 1 -237.78,219.96L-217.04,200.78A295.67,295.67 0 0 0 -216.34,201.53Z" fill="#f99e2b" fill-opacity="0.80"/>
<path d="M-232.01,226.04A323.92,323.92 0 0 1 -232.82,225.21L-212.51,205.57A295.67,295.67 0 0 0 -211.78,206.33Z" fill="#f99e2b" fill-opacity="0.80"/>
<path d="M-260.38,192.67A323.92,323.92 0 0 1 -269.80,179.25L-246.27,163.62A295.67,295.67 0 0 0 -237.67,175.87Z" fill="#f99e2b" fill-opacity="0.10"/>
<path d="M-262.02,190.44A323.92,323.92 0 0 1 -262.76,189.43L-239.84,172.90A295.67,295.67 0 0 0 -239.17,173.83Z" fill="#f99e2b" fill-opacity="0.18"/>
<path d="M-261.88,190.64A323.92,323.92 0 0 1 -262.89,189.24L-239.96,172.74A295.67,295.67 0 0 0 -239.04,174.01Z" fill="#f99e2b" fill-opacity="0.29"/>
<path d="M-265.19,186.00A323.92,323.92 0 0 1 -266.12,184.67L-242.91,168.57A295.67,295.67 0 0 0 -242.06,169.78Z" fill="#f99e2b" fill-opacity="0.26"/>
<path d="M-265.27,185.89A323.92,323.92 0 0 1 -266.04,184.79L-242.84,168.67A295.67,295.67 0 0 0 -242.13,169.68Z" fill="#f99e2b" fill-opacity="0.37"/>
<path d="M-276.78,168.28A323.92,323.92 0 0 1 -283.31,157.04L-258.60,143.34A295.67,295.67 0 0 0 -252.64,153.61Z" fill="#f99e2b" fill-opacity="0.44"/>
<path d="M-280.30,162.35A323.92,323.92 0 0 1 -280.64,161.75L-256.16,147.65A295.67,295.67 0 0 0 -255.85,148.19Z" fill="#f99e2b" fill-opacity="0.80"/>
<path d="M-278.51,165.40A323.92,323.92 0 0 1 -278.94,164.67L-254.61,150.31A295.67,295.67 0 0 0 -254.22,150.97Z" fill="#f99e2b" fill-opacity="0.80"/>
<path d="M-279.78,163.24A323.92,323.92 0 0 1 -280.50,161.99L-256.04,147.87A295.67,295.67 0 0 0 -255.38,149.00Z" fill="#f99e2b" fill-opacity="0.80"/>
<path d="M-281.33,160.55A323.92,323.92 0 0 1 -281.92,159.51L-257.33,145.60A295.67,295.67 0 0 0 -256.79,146.55Z" fill="#f99e2b" fill-opacity="0.80"/>
<path d="M-289.38,145.54A323.92,323.92 0 0 1 -291.41,141.42L-266.00,129.09A295.67,295.67 0 0 0 -264.14,132.85Z" fill="#5b3fab" fill-opacity="1.00"/>
<path d="M-291.29,141.68A323.92,323.92 0 0 1 -293.27,137.53L-267.69,125.54A295.67,295.67 0 0 0 -265.89,129.32Z" fill="#5b3fab" fill-opacity="0.91"/>
<path d="M-293.15,137.79A323.92,323.92 0 0 1 -295.08,133.62L-269.34,121.97A295.67,295.67 0 0 0 -267.58,125.77Z" fill="#5b3fab" fill-opacity="0.81"/>
<path d="M-294.96,133.88A323.92,323.92 0 0 1 -296.83,129.68L-270.94,118.37A295.67,295.67 0 0 0 -269.23,122.20Z" fill="#5b3fab" fill-opacity="0.72"/>
<path d="M-296.71,129.94A323.92,323.92 0 0 1 -298.53,125.72L-272.49,114.75A295.67,295.67 0 0 0 -270.84,118.61Z" fill="#5b3fab" fill-opacity="0.63"/>
<path d="M-298.42,125.98A323.92,323.92 0 0 1 -300.17,121.74L-273.99,111.12A295.67,295.67 0 0 0 -272.39,114.99Z" fill="#5b3fab" fill-opacity="0.54"/>
<path d="M-300.07,122.00A323.92,323.92 0 0 1 -301.77,117.73L-275.45,107.46A295.67,295.67 0 0 0 -273.90,111.36Z" fill="#5b3fab" fill-opacity="0.44"/>
<path d="M-301.66,117.99A323.92,323.92 0 0 1 -303.31,113.70L-276.85,103.79A295.67,295.67 0 0 0 -275.35,107.70Z" fill="#5b3fab" fill-opacity="0.35"/>
<path d="M-309.77,94.70A323.92,323.92 0 0 1 -313.03,83.29L-285.73,76.03A295.67,295.67 0 0 0 -282.75,86.44Z" fill="#5b3fab" fill-opacity="0.07"/>
<path d="M-311.03,90.45A323.92,323.92 0 0 1 -311.55,88.66L-284.38,80.93A295.67,295.67 0 0 0 -283.91,82.57Z" fill="#5b3fab" fill-opacity="0.22"/>
<path d="M-311.30,89.53A323.92,323.92 0 0 1 -311.67,88.25L-284.48,80.55A295.67,295.67 0 0 0 -284.15,81.72Z" fill="#5b3fab" fill-opacity="0.23"/>
<path d="M-311.37,89.28A323.92,323.92 0 0 1 -311.72,88.06L-284.53,80.38A295.67,295.67 0 0 0 -284.21,81.50Z" fill="#5b3fab" fill-opacity="0.20"/>
<path d="M-315.49,73.42A323.92,323.92 0 0 1 -317.86,62.36L-290.14,56.92A295.67,295.67 0 0 0 -287.97,67.01Z" fill="#5b3fab" fill-opacity="0.44"/>
<path d="M-316.95,66.81A323.92,323.92 0 0 1 -317.29,65.22L-289.61,59.53A295.67,295.67 0 0 0 -289.31,60.98Z" fill="#5b3fab" fill-opacity="0.80"/>
<path d="M-317.44,64.44A323.92,323.92 0 0 1 -317.75,62.91L-290.04,57.43A295.67,295.67 0 0 0 -289.76,58.82Z" fill="#5b3fab" fill-opacity="0.80"/>
<path d="M-316.76,67.71A323.92,323.92 0 0 1 -316.94,66.87L-289.30,61.04A295.67,295.67 0 0 0 -289.14,61.81Z" fill="#5b3fab" fill-opacity="0.80"/>
<path d="M-317.23,65.48A323.92,323.92 0 0 1 -317.56,63.88L-289.86,58.31A295.67,295.67 0 0 0 -289.56,59.77Z" fill="#5b3fab" fill-opacity="0.80"/>
<path d="M-319.75,51.79A323.92,323.92 0 0 1 -321.07,42.84L-293.07,39.10A295.67,295.67 0 0 0 -291.86,47.27Z" fill="#05645f" fill-opacity="1"/>
<path d="M-323.82,7.91A323.92,323.92 0 0 1 -322.02,-34.98L-293.94,-31.93A295.67,295.67 0 0 0 -295.58,7.22Z" fill="#05645f" fill-opacity="0.25"/>
<path d="M-323.91,2.78A323.92,323.92 0 0 1 -323.91,2.06L-295.66,1.88A295.67,295.67 0 0 0 -295.66,2.53Z" fill="#05645f" fill-opacity="0.45"/>
<path d="M-323.88,4.87A323.92,323.92 0 0 1 -323.90,3.81L-295.65,3.48A295.67,295.67 0 0 0 -295.63,4.45Z" fill="#05645f" fill-opacity="0.45"/>
<path d="M-323.88,4.83A323.92,323.92 0 0 1 -323.89,4.00L-295.65,3.65A295.67,295.67 0 0 0 -295.64,4.41Z" fill="#05645f" fill-opacity="0.45"/>
<path d="M-322.98,-24.71A323.92,323.92 0 0 1 -322.87,-26.03L-294.71,-23.76A295.67,295.67 0 0 0 -294.81,-22.55Z" fill="#05645f" fill-opacity="0.45"/>
<path d="M-323.92,1.52A323.92,323.92 0 0 1 -323.92,-0.06L-295.67,-0.05A295.67,295.67 0 0 0 -295.66,1.39Z" fill="#05645f" fill-opacity="0.45"/>
<path d="M-323.33,-19.53A323.92,323.92 0 0 1 -323.24,-20.91L-295.05,-19.08A295.67,295.67 0 0 0 -295.13,-17.83Z" fill="#05645f" fill-opacity="0.45"/>
<path d="M-322.59,-29.34A323.92,323.92 0 0 1 -322.52,-30.06L-294.39,-27.44A295.67,295.67 0 0 0 -294.45,-26.78Z" fill="#05645f" fill-opacity="0.45"/>
<path d="M-323.92,-1.16A323.92,323.92 0 0 1 -323.91,-2.81L-295.66,-2.57A295.67,295.67 0 0 0 -295.67,-1.05Z" fill="#05645f" fill-opacity="0.45"/>
<path d="M-323.81,-8.54A323.92,323.92 0 0 1 -323.76,-10.18L-295.52,-9.30A295.67,295.67 0 0 0 -295.57,-7.80Z" fill="#05645f" fill-opacity="0.45"/>
<path d="M-322.19,-33.45A323.92,323.92 0 0 1 -322.07,-34.56L-293.98,-31.55A295.67,295.67 0 0 0 -294.09,-30.53Z" fill="#05645f" fill-opacity="0.45"/>
<path d="M-323.92,1.22A323.92,323.92 0 0 1 -323.92,-0.29L-295.67,-0.26A295.67,295.67 0 0 0 -295.67,1.11Z" fill="#05645f" fill-opacity="0.45"/>
<path d="M-323.63,-13.69A323.92,323.92 0 0 1 -323.58,-14.74L-295.36,-13.46A295.67,295.67 0 0 0 -295.40,-12.50Z" fill="#05645f" fill-opacity="0.45"/>
<path d="M-323.92,-0.31A323.92,323.92 0 0 1 -323.92,-1.26L-295.67,-1.15A295.67,295.67 0 0 0 -295.67,-0.28Z" fill="#05645f" fill-opacity="0.45"/>
<path d="M-323.14,-22.43A323.92,323.92 0 0 1 -323.08,-23.35L-294.90,-21.31A295.67,295.67 0 0 0 -294.96,-20.47Z" fill="#05645f" fill-opacity="0.45"/>
<path d="M-323.55,-15.56A323.92,323.92 0 0 1 -323.52,-16.15L-295.30,-14.74A295.67,295.67 0 0 0 -295.33,-14.20Z" fill="#05645f" fill-opacity="0.45"/>
<path d="M-321.71,-37.79A323.92,323.92 0 0 1 -320.36,-47.88L-292.42,-43.70A295.67,295.67 0 0 0 -293.65,-34.50Z" fill="#05645f" fill-opacity="1"/>
<path d="M-318.80,-57.36A323.92,323.92 0 0 1 -314.02,-79.46L-286.63,-72.53A295.67,295.67 0 0 0 -291.00,-52.36Z" fill="#722a31" fill-opacity="1"/>
<path d="M-312.14,-86.56A323.92,323.92 0 0 1 -310.58,-92.00L-283.49,-83.97A295.67,295.67 0 0 0 -284.91,-79.01Z" fill="#722a31" fill-opacity="0.21"/>
<path d="M-312.12,-86.64A323.92,323.92 0 0 1 -311.78,-87.85L-284.59,-80.18A295.67,295.67 0 0 0 -284.90,-79.08Z" fill="#722a31" fill-opacity="0.52"/>
<path d="M-311.56,-88.62A323.92,323.92 0 0 1 -311.15,-90.05L-284.01,-82.20A295.67,295.67 0 0 0 -284.39,-80.89Z" fill="#722a31" fill-opacity="0.39"/>
<path d="M-307.00,-103.32A323.92,323.92 0 0 1 -305.34,-108.13L-278.71,-98.70A295.67,295.67 0 0 0 -280.22,-94.31Z" fill="#722a31" fill-opacity="0.07"/>
<path d="M-306.20,-105.65A323.92,323.92 0 0 1 -305.56,-107.50L-278.91,-98.13A295.67,295.67 0 0 0 -279.50,-96.44Z" fill="#722a31" fill-opacity="0.28"/>
<path d="M-306.64,-104.39A323.92,323.92 0 0 1 -306.37,-105.16L-279.65,-95.99A295.67,295.67 0 0 0 -279.89,-95.29Z" fill="#722a31" fill-opacity="0.13"/>
<path d="M-302.40,-116.08A323.92,323.92 0 0 1 -294.99,-133.81L-269.26,-122.14A295.67,295.67 0 0 0 -276.03,-105.96Z" fill="#722a31" fill-opacity="0.44"/>
<path d="M-300.65,-120.56A323.92,323.92 0 0 1 -300.11,-121.90L-273.93,-111.27A295.67,295.67 0 0 0 -274.43,-110.04Z" fill="#722a31" fill-opacity="0.80"/>
<path d="M-299.52,-123.34A323.92,323.92 0 0 1 -299.24,-124.00L-273.15,-113.19A295.67,295.67 0 0 0 -273.39,-112.59Z" fill="#722a31" fill-opacity="0.80"/>
<path d="M-296.93,-129.44A323.92,323.92 0 0 1 -296.29,-130.90L-270.45,-119.48A295.67,295.67 0 0 0 -271.04,-118.15Z" fill="#722a31" fill-opacity="0.80"/>
<path d="M-301.41,-118.64A323.92,323.92 0 0 1 -301.10,-119.44L-274.83,-109.02A295.67,295.67 0 0 0 -275.12,-108.29Z" fill="#722a31" fill-opacity="0.80"/>
<path d="M-298.66,-125.41A323.92,323.92 0 0 1 -298.03,-126.89L-272.04,-115.82A295.67,295.67 0 0 0 -272.61,-114.47Z" fill="#722a31" fill-opacity="0.80"/>
<path d="M-301.83,-117.57A323.92,323.92 0 0 1 -301.33,-118.84L-275.05,-108.47A295.67,295.67 0 0 0 -275.50,-107.32Z" fill="#722a31" fill-opacity="0.80"/>
<path d="M-289.63,-145.04A323.92,323.92 0 0 1 -287.84,-148.57L-262.74,-135.61A295.67,295.67 0 0 0 -264.37,-132.39Z" fill="#773290" fill-opacity="0.90"/>
<path d="M-287.97,-148.31A323.92,323.92 0 0 1 -286.14,-151.82L-261.18,-138.58A295.67,295.67 0 0 0 -262.85,-135.38Z" fill="#773290" fill-opacity="0.82"/>
<path d="M-286.27,-151.57A323.92,323.92 0 0 1 -284.40,-155.06L-259.59,-141.53A295.67,295.67 0 0 0 -261.30,-138.35Z" fill="#773290" fill-opacity="0.73"/>
<path d="M-284.53,-154.81A323.92,323.92 0 0 1 -282.62,-158.27L-257.97,-144.47A295.67,295.67 0 0 0 -259.71,-141.31Z" fill="#773290" fill-opacity="0.65"/>
<path d="M-282.76,-158.03A323.92,323.92 0 0 1 -280.80,-161.47L-256.31,-147.39A295.67,295.67 0 0 0 -258.10,-144.24Z" fill="#773290" fill-opacity="0.57"/>
<path d="M-280.95,-161.22A323.92,323.92 0 0 1 -278.95,-164.64L-254.63,-150.29A295.67,295.67 0 0 0 -256.44,-147.16Z" fill="#773290" fill-opacity="0.48"/>
<path d="M-279.10,-164.40A323.92,323.92 0 0 1 -277.07,-167.80L-252.90,-153.16A295.67,295.67 0 0 0 -254.76,-150.06Z" fill="#773290" fill-opacity="0.40"/>
<path d="M-277.22,-167.56A323.92,323.92 0 0 1 -275.15,-170.93L-251.15,-156.02A295.67,295.67 0 0 0 -253.04,-152.94Z" fill="#773290" fill-opacity="0.32"/>
<path d="M-266.95,-183.47A323.92,323.92 0 0 1 -263.71,-188.10L-240.71,-171.70A295.67,295.67 0 0 0 -243.67,-167.47Z" fill="#773290" fill-opacity="0.07"/>
<path d="M-265.03,-186.24A323.92,323.92 0 0 1 -264.59,-186.85L-241.52,-170.56A295.67,295.67 0 0 0 -241.91,-170.00Z" fill="#773290" fill-opacity="0.19"/>
<path d="M-264.33,-187.23A323.92,323.92 0 0 1 -263.88,-187.86L-240.87,-171.47A295.67,295.67 0 0 0 -241.28,-170.90Z" fill="#773290" fill-opacity="0.22"/>
<path d="M-253.85,-201.20A323.92,323.92 0 0 1 -246.31,-210.37L-224.83,-192.02A295.67,295.67 0 0 0 -231.71,-183.65Z" fill="#773290" fill-opacity="0.21"/>
<path d="M-253.32,-201.87A323.92,323.92 0 0 1 -252.25,-203.21L-230.25,-185.49A295.67,295.67 0 0 0 -231.23,-184.26Z" fill="#773290" fill-opacity="0.77"/>
<path d="M-247.79,-208.62A323.92,323.92 0 0 1 -247.30,-209.21L-225.73,-190.96A295.67,295.67 0 0 0 -226.18,-190.43Z" fill="#773290" fill-opacity="0.58"/>
<path d="M-250.12,-205.83A323.92,323.92 0 0 1 -249.40,-206.69L-227.65,-188.66A295.67,295.67 0 0 0 -228.30,-187.88Z" fill="#773290" fill-opacity="0.80"/>
<path d="M-239.96,-217.58A323.92,323.92 0 0 1 -238.39,-219.31L-217.60,-200.18A295.67,295.67 0 0 0 -219.03,-198.61Z" fill="#773290" fill-opacity="0.35"/>
<path d="M-238.58,-219.10A323.92,323.92 0 0 1 -237.00,-220.81L-216.33,-201.55A295.67,295.67 0 0 0 -217.77,-199.99Z" fill="#773290" fill-opacity="0.44"/>
<path d="M-237.19,-220.60A323.92,323.92 0 0 1 -235.59,-222.30L-215.05,-202.92A295.67,295.67 0 0 0 -216.50,-201.36Z" fill="#773290" fill-opacity="0.54"/>
<path d="M-235.79,-222.10A323.92,323.92 0 0 1 -234.18,-223.79L-213.76,-204.27A295.67,295.67 0 0 0 -215.22,-202.73Z" fill="#773290" fill-opacity="0.63"/>
<path d="M-234.38,-223.59A323.92,323.92 0 0 1 -232.76,-225.27L-212.46,-205.62A295.67,295.67 0 0 0 -213.94,-204.09Z" fill="#773290" fill-opacity="0.72"/>
<path d="M-232.96,-225.06A323.92,323.92 0 0 1 -231.33,-226.74L-211.16,-206.96A295.67,295.67 0 0 0 -212.64,-205.43Z" fill="#773290" fill-opacity="0.81"/>
<path d="M-231.53,-226.53A323.92,323.92 0 0 1 -229.89,-228.19L-209.84,-208.29A295.67,295.67 0 0 0 -211.34,-206.78Z" fill="#773290" fill-opacity="0.91"/>
<path d="M-230.09,-227.99A323.92,323.92 0 0 1 -228.44,-229.64L-208.52,-209.62A295.67,295.67 0 0 0 -210.02,-208.11Z" fill="#773290" fill-opacity="1.00"/>
<path d="M-220.50,-237.28A323.92,323.92 0 0 1 -212.08,-244.84L-193.59,-223.48A295.67,295.67 0 0 0 -201.27,-216.59Z" fill="#fde2e2" fill-opacity="1"/>
<path d="M-174.04,-273.19A323.92,323.92 0 0 1 -169.25,-276.19L-154.49,-252.10A295.67,295.67 0 0 0 -158.86,-249.36Z" fill="#fde2e2" fill-opacity="0.17"/>
<path d="M-173.54,-273.51A323.92,323.92 0 0 1 -172.67,-274.06L-157.61,-250.16A295.67,295.67 0 0 0 -158.40,-249.66Z" fill="#fde2e2" fill-opacity="0.51"/>
<path d="M-173.61,-273.46A323.92,323.92 0 0 1 -172.78,-273.99L-157.71,-250.10A295.67,295.67 0 0 0 -158.47,-249.61Z" fill="#fde2e2" fill-opacity="0.36"/>
<path d="M-160.49,-281.37A323.92,323.92 0 0 1 -148.57,-287.84L-135.61,-262.74A295.67,295.67 0 0 0 -146.49,-256.83Z" fill="#f9dcc6" fill-opacity="1"/>
<path d="M-134.84,-294.52A323.92,323.92 0 0 1 -133.04,-295.34L-121.44,-269.58A295.67,295.67 0 0 0 -123.08,-268.83Z" fill="#8b84f8" fill-opacity="1.00"/>
<path d="M-133.30,-295.22A323.92,323.92 0 0 1 -131.49,-296.03L-120.02,-270.21A295.67,295.67 0 0 0 -121.67,-269.47Z" fill="#8b84f8" fill-opacity="0.91"/>
<path d="M-131.75,-295.91A323.92,323.92 0 0 1 -129.94,-296.71L-118.61,-270.84A295.67,295.67 0 0 0 -120.26,-270.11Z" fill="#8b84f8" fill-opacity="0.81"/>
<path d="M-130.20,-296.60A323.92,323.92 0 0 1 -128.38,-297.39L-117.19,-271.45A295.67,295.67 0 0 0 -118.84,-270.73Z" fill="#8b84f8" fill-opacity="0.72"/>
<path d="M-128.64,-297.28A323.92,323.92 0 0 1 -126.83,-298.06L-115.76,-272.06A295.67,295.67 0 0 0 -117.42,-271.35Z" fill="#8b84f8" fill-opacity="0.63"/>
<path d="M-127.09,-297.95A323.92,323.92 0 0 1 -125.26,-298.72L-114.34,-272.67A295.67,295.67 0 0 0 -116.00,-271.96Z" fill="#8b84f8" fill-opacity="0.54"/>
<path d="M-125.52,-298.61A323.92,323.92 0 0 1 -123.70,-299.37L-112.91,-273.26A295.67,295.67 0 0 0 -114.58,-272.57Z" fill="#8b84f8" fill-opacity="0.44"/>
<path d="M-123.96,-299.26A323.92,323.92 0 0 1 -122.13,-300.01L-111.48,-273.85A295.67,295.67 0 0 0 -113.15,-273.16Z" fill="#8b84f8" fill-opacity="0.35"/>
<path d="M-103.85,-306.82A323.92,323.92 0 0 1 -97.94,-308.76L-89.40,-281.83A295.67,295.67 0 0 0 -94.80,-280.06Z" fill="#8b84f8" fill-opacity="0.10"/>
<path d="M-102.81,-307.17A323.92,323.92 0 0 1 -102.10,-307.41L-93.20,-280.60A295.67,295.67 0 0 0 -93.84,-280.38Z" fill="#8b84f8" fill-opacity="0.25"/>
<path d="M-100.14,-308.05A323.92,323.92 0 0 1 -99.12,-308.38L-90.48,-281.48A295.67,295.67 0 0 0 -91.41,-281.18Z" fill="#8b84f8" fill-opacity="0.25"/>
<path d="M-75.62,-314.97A323.92,323.92 0 0 1 -70.66,-316.12L-64.50,-288.55A295.67,295.67 0 0 0 -69.02,-287.50Z" fill="#8b84f8" fill-opacity="0.24"/>
<path d="M-74.97,-315.12A323.92,323.92 0 0 1 -73.67,-315.43L-67.25,-287.92A295.67,295.67 0 0 0 -68.43,-287.64Z" fill="#8b84f8" fill-opacity="0.61"/>
<path d="M-74.55,-315.22A323.92,323.92 0 0 1 -73.87,-315.38L-67.42,-287.88A295.67,295.67 0 0 0 -68.05,-287.73Z" fill="#8b84f8" fill-opacity="0.43"/>
<path d="M-66.79,-316.96A323.92,323.92 0 0 1 -47.88,-320.36L-43.70,-292.42A295.67,295.67 0 0 0 -60.97,-289.31Z" fill="#8b84f8" fill-opacity="1"/>
<path d="M35.88,-268.90A271.29,271.29 0 0 1 38.11,-268.60L34.19,-241.01A243.42,243.42 0 0 0 32.19,-241.28Z" fill="#6b2d80" fill-opacity="1.00"/>
<path d="M37.87,-268.63A271.29,271.29 0 0 1 40.10,-268.31L35.98,-240.75A243.42,243.42 0 0 0 33.98,-241.04Z" fill="#6b2d80" fill-opacity="0.91"/>
<path d="M39.86,-268.34A271.29,271.29 0 0 1 42.09,-268.00L37.76,-240.48A243.42,243.42 0 0 0 35.77,-240.78Z" fill="#6b2d80" fill-opacity="0.81"/>
<path d="M41.85,-268.04A271.29,271.29 0 0 1 44.07,-267.68L39.55,-240.19A243.42,243.42 0 0 0 37.56,-240.51Z" fill="#6b2d80" fill-opacity="0.72"/>
<path d="M43.84,-267.72A271.29,271.29 0 0 1 46.06,-267.35L41.33,-239.89A243.42,243.42 0 0 0 39.34,-240.22Z" fill="#6b2d80" fill-opacity="0.63"/>
<path d="M45.83,-267.39A271.29,271.29 0 0 1 48.04,-267.00L43.11,-239.58A243.42,243.42 0 0 0 41.12,-239.92Z" fill="#6b2d80" fill-opacity="0.54"/>
<path d="M47.81,-267.04A271.29,271.29 0 0 1 50.02,-266.64L44.88,-239.25A243.42,243.42 0 0 0 42.90,-239.61Z" fill="#6b2d80" fill-opacity="0.44"/>
<path d="M49.79,-266.68A271.29,271.29 0 0 1 52.00,-266.26L46.66,-238.91A243.42,243.42 0 0 0 44.67,-239.29Z" fill="#6b2d80" fill-opacity="0.35"/>
<path d="M51.76,-266.30A271.29,271.29 0 0 1 62.87,-263.90L56.41,-236.80A243.42,243.42 0 0 0 46.45,-238.95Z" fill="#773290" fill-opacity="0.14"/>
<path d="M57.16,-265.20A271.29,271.29 0 0 1 58.50,-264.91L52.49,-237.70A243.42,243.42 0 0 0 51.29,-237.96Z" fill="#773290" fill-opacity="0.30"/>
<path d="M61.16,-264.30A271.29,271.29 0 0 1 62.22,-264.06L55.83,-236.93A243.42,243.42 0 0 0 54.88,-237.16Z" fill="#773290" fill-opacity="0.27"/>
<path d="M55.96,-265.45A271.29,271.29 0 0 1 57.39,-265.15L51.49,-237.91A243.42,243.42 0 0 0 50.21,-238.19Z" fill="#773290" fill-opacity="0.40"/>
<path d="M55.57,-265.53A271.29,271.29 0 0 1 57.02,-265.23L51.16,-237.99A243.42,243.42 0 0 0 49.87,-238.26Z" fill="#773290" fill-opacity="0.40"/>
<path d="M89.22,-256.20A271.29,271.29 0 0 1 103.38,-250.82L92.76,-225.06A243.42,243.42 0 0 0 80.05,-229.88Z" fill="#3fd6d4" fill-opacity="0.12"/>
<path d="M101.94,-251.41A271.29,271.29 0 0 1 103.15,-250.91L92.56,-225.14A243.42,243.42 0 0 0 91.47,-225.59Z" fill="#3fd6d4" fill-opacity="0.31"/>
<path d="M98.29,-252.86A271.29,271.29 0 0 1 99.66,-252.32L89.42,-226.40A243.42,243.42 0 0 0 88.19,-226.89Z" fill="#3fd6d4" fill-opacity="0.39"/>
<path d="M93.84,-254.54A271.29,271.29 0 0 1 94.79,-254.19L85.05,-228.08A243.42,243.42 0 0 0 84.21,-228.39Z" fill="#3fd6d4" fill-opacity="0.23"/>
<path d="M90.18,-255.86A271.29,271.29 0 0 1 90.85,-255.62L81.52,-229.37A243.42,243.42 0 0 0 80.92,-229.58Z" fill="#3fd6d4" fill-opacity="0.42"/>
<path d="M91.42,-255.42A271.29,271.29 0 0 1 92.22,-255.13L82.74,-228.93A243.42,243.42 0 0 0 82.03,-229.19Z" fill="#3fd6d4" fill-opacity="0.23"/>
<path d="M106.87,-249.35A271.29,271.29 0 0 1 123.16,-241.72L110.51,-216.89A243.42,243.42 0 0 0 95.89,-223.74Z" fill="#3fd6d4" fill-opacity="1"/>
<path d="M140.13,-232.29A271.29,271.29 0 0 1 149.34,-226.48L134.00,-203.22A243.42,243.42 0 0 0 125.74,-208.44Z" fill="#d632e0" fill-opacity="0.17"/>
<path d="M147.08,-227.96A271.29,271.29 0 0 1 148.32,-227.15L133.09,-203.82A243.42,243.42 0 0 0 131.97,-204.55Z" fill="#d632e0" fill-opacity="0.57"/>
<path d="M142.20,-231.03A271.29,271.29 0 0 1 142.94,-230.57L128.26,-206.89A243.42,243.42 0 0 0 127.59,-207.30Z" fill="#d632e0" fill-opacity="0.42"/>
<path d="M141.45,-231.49A271.29,271.29 0 0 1 142.36,-230.93L127.74,-207.21A243.42,243.42 0 0 0 126.92,-207.71Z" fill="#d632e0" fill-opacity="0.48"/>
<path d="M150.13,-225.96A271.29,271.29 0 0 1 165.52,-214.94L148.52,-192.86A243.42,243.42 0 0 0 134.71,-202.75Z" fill="#d632e0" fill-opacity="1"/>
<path d="M168.51,-212.61A271.29,271.29 0 0 1 173.65,-208.43L155.82,-187.02A243.42,243.42 0 0 0 151.20,-190.77Z" fill="#f99e2b" fill-opacity="1"/>
<path d="M188.11,-195.48A271.29,271.29 0 0 1 200.01,-183.28L179.47,-164.45A243.42,243.42 0 0 0 168.79,-175.40Z" fill="#f9e93b" fill-opacity="0.09"/>
<path d="M199.02,-184.36A271.29,271.29 0 0 1 199.60,-183.73L179.09,-164.86A243.42,243.42 0 0 0 178.57,-165.43Z" fill="#f9e93b" fill-opacity="0.34"/>
<path d="M190.89,-192.76A271.29,271.29 0 0 1 191.71,-191.94L172.02,-172.23A243.42,243.42 0 0 0 171.28,-172.97Z" fill="#f9e93b" fill-opacity="0.34"/>
<path d="M192.22,-191.44A271.29,271.29 0 0 1 192.85,-190.80L173.05,-171.20A243.42,243.42 0 0 0 172.47,-171.78Z" fill="#f9e93b" fill-opacity="0.15"/>
<path d="M193.53,-190.11A271.29,271.29 0 0 1 194.22,-189.41L174.27,-169.96A243.42,243.42 0 0 0 173.65,-170.59Z" fill="#f9e93b" fill-opacity="0.25"/>
<path d="M193.94,-189.70A271.29,271.29 0 0 1 194.49,-189.13L174.51,-169.71A243.42,243.42 0 0 0 174.02,-170.21Z" fill="#f9e93b" fill-opacity="0.15"/>
<path d="M189.16,-194.47A271.29,271.29 0 0 1 189.77,-193.87L170.28,-173.96A243.42,243.42 0 0 0 169.73,-174.49Z" fill="#f9e93b" fill-opacity="0.23"/>
<path d="M210.23,-171.46A271.29,271.29 0 0 1 220.03,-158.69L197.43,-142.39A243.42,243.42 0 0 0 188.64,-153.85Z" fill="#f9e93b" fill-opacity="1"/>
<path d="M220.03,-158.69A271.29,271.29 0 0 1 221.13,-157.15L198.42,-141.01A243.42,243.42 0 0 0 197.43,-142.39Z" fill="#3fd6d4" fill-opacity="1"/>
<path d="M226.48,-149.34A271.29,271.29 0 0 1 233.75,-137.69L209.74,-123.55A243.42,243.42 0 0 0 203.22,-134.00Z" fill="#f5132b" fill-opacity="1"/>
<path d="M233.75,-137.69A271.29,271.29 0 0 1 240.85,-124.85L216.11,-112.02A243.42,243.42 0 0 0 209.74,-123.55Z" fill="#f5132b" fill-opacity="0.12"/>
<path d="M233.91,-137.42A271.29,271.29 0 0 1 234.22,-136.89L210.16,-122.83A243.42,243.42 0 0 0 209.88,-123.30Z" fill="#f5132b" fill-opacity="0.30"/>
<path d="M237.76,-130.64A271.29,271.29 0 0 1 238.16,-129.92L213.70,-116.57A243.42,243.42 0 0 0 213.34,-117.22Z" fill="#f5132b" fill-opacity="0.36"/>
<path d="M238.06,-130.09A271.29,271.29 0 0 1 238.72,-128.87L214.20,-115.63A243.42,243.42 0 0 0 213.61,-116.73Z" fill="#f5132b" fill-opacity="0.41"/>
<path d="M236.31,-133.25A271.29,271.29 0 0 1 237.05,-131.92L212.70,-118.37A243.42,243.42 0 0 0 212.04,-119.56Z" fill="#f5132b" fill-opacity="0.30"/>
<path d="M234.73,-136.01A271.29,271.29 0 0 1 235.55,-134.58L211.36,-120.76A243.42,243.42 0 0 0 210.62,-122.04Z" fill="#f5132b" fill-opacity="0.41"/>
<path d="M246.86,-112.50A271.29,271.29 0 0 1 252.41,-99.43L226.49,-89.21A243.42,243.42 0 0 0 221.51,-100.95Z" fill="#f5132b" fill-opacity="0.07"/>
<path d="M247.10,-111.99A271.29,271.29 0 0 1 247.62,-110.83L222.18,-99.45A243.42,243.42 0 0 0 221.72,-100.48Z" fill="#f5132b" fill-opacity="0.25"/>
<path d="M250.05,-105.22A271.29,271.29 0 0 1 250.64,-103.80L224.90,-93.14A243.42,243.42 0 0 0 224.37,-94.42Z" fill="#f5132b" fill-opacity="0.24"/>
<path d="M247.59,-110.88A271.29,271.29 0 0 1 248.18,-109.55L222.69,-98.30A243.42,243.42 0 0 0 222.16,-99.49Z" fill="#f5132b" fill-opacity="0.20"/>
<path d="M251.19,-102.47A271.29,271.29 0 0 1 251.61,-101.43L225.77,-91.02A243.42,243.42 0 0 0 225.39,-91.94Z" fill="#f5132b" fill-opacity="0.25"/>
<path d="M249.85,-105.69A271.29,271.29 0 0 1 250.42,-104.34L224.70,-93.62A243.42,243.42 0 0 0 224.19,-94.83Z" fill="#f5132b" fill-opacity="0.26"/>
<path d="M255.25,-91.90A271.29,271.29 0 0 1 255.81,-90.33L229.53,-81.06A243.42,243.42 0 0 0 229.03,-82.46Z" fill="#f5132b" fill-opacity="0.35"/>
<path d="M255.73,-90.56A271.29,271.29 0 0 1 256.27,-88.99L229.95,-79.85A243.42,243.42 0 0 0 229.46,-81.26Z" fill="#f5132b" fill-opacity="0.44"/>
<path d="M256.20,-89.22A271.29,271.29 0 0 1 256.74,-87.65L230.37,-78.65A243.42,243.42 0 0 0 229.88,-80.05Z" fill="#f5132b" fill-opacity="0.54"/>
<path d="M256.66,-87.87A271.29,271.29 0 0 1 257.19,-86.31L230.78,-77.44A243.42,243.42 0 0 0 230.30,-78.85Z" fill="#f5132b" fill-opacity="0.63"/>
<path d="M257.12,-86.53A271.29,271.29 0 0 1 257.64,-84.96L231.18,-76.23A243.42,243.42 0 0 0 230.71,-77.64Z" fill="#f5132b" fill-opacity="0.72"/>
<path d="M257.57,-85.18A271.29,271.29 0 0 1 258.08,-83.61L231.57,-75.02A243.42,243.42 0 0 0 231.11,-76.43Z" fill="#f5132b" fill-opacity="0.81"/>
<path d="M258.01,-83.83A271.29,271.29 0 0 1 258.52,-82.25L231.96,-73.81A243.42,243.42 0 0 0 231.51,-75.22Z" fill="#f5132b" fill-opacity="0.91"/>
<path d="M258.44,-82.48A271.29,271.29 0 0 1 258.94,-80.90L232.35,-72.59A243.42,243.42 0 0 0 231.90,-74.01Z" fill="#f5132b" fill-opacity="1.00"/>
<path d="M261.92,-70.67A271.29,271.29 0 0 1 263.68,-63.79L236.60,-57.24A243.42,243.42 0 0 0 235.02,-63.41Z" fill="#c9c23a" fill-opacity="0.9"/>
<path d="M266.74,-49.44A271.29,271.29 0 0 1 268.02,-41.97L240.49,-37.66A243.42,243.42 0 0 0 239.35,-44.36Z" fill="#fdfb55" fill-opacity="0.09"/>
<path d="M267.50,-45.16A271.29,271.29 0 0 1 267.72,-43.87L240.22,-39.36A243.42,243.42 0 0 0 240.03,-40.52Z" fill="#fdfb55" fill-opacity="0.20"/>
<path d="M266.91,-48.53A271.29,271.29 0 0 1 267.02,-47.93L239.59,-43.01A243.42,243.42 0 0 0 239.50,-43.54Z" fill="#fdfb55" fill-opacity="0.22"/>
<path d="M271.07,-10.89A271.29,271.29 0 0 1 271.18,7.57L243.33,6.80A243.42,243.42 0 0 0 243.23,-9.77Z" fill="#fdfb55" fill-opacity="1"/>
<path d="M270.78,16.56A271.29,271.29 0 0 1 268.31,40.10L240.75,35.98A243.42,243.42 0 0 0 242.97,14.86Z" fill="#3a0005" fill-opacity="1"/>
<path d="M268.31,40.10A271.29,271.29 0 0 1 267.41,45.71L239.94,41.01A243.42,243.42 0 0 0 240.75,35.98Z" fill="#999999" fill-opacity="0.21"/>
<path d="M267.66,44.23A271.29,271.29 0 0 1 267.55,44.90L240.07,40.29A243.42,243.42 0 0 0 240.17,39.68Z" fill="#999999" fill-opacity="0.63"/>
<path d="M267.88,42.84A271.29,271.29 0 0 1 267.68,44.08L240.19,39.55A243.42,243.42 0 0 0 240.37,38.44Z" fill="#999999" fill-opacity="0.69"/>
<path d="M263.46,64.71A271.29,271.29 0 0 1 260.25,76.60L233.52,68.73A243.42,243.42 0 0 0 236.40,58.06Z" fill="#999999" fill-opacity="0.12"/>
<path d="M263.45,64.75A271.29,271.29 0 0 1 263.18,65.82L236.15,59.06A243.42,243.42 0 0 0 236.39,58.10Z" fill="#999999" fill-opacity="0.43"/>
<path d="M262.09,70.03A271.29,271.29 0 0 1 261.73,71.37L234.85,64.04A243.42,243.42 0 0 0 235.17,62.84Z" fill="#999999" fill-opacity="0.36"/>
<path d="M263.28,65.42A271.29,271.29 0 0 1 262.97,66.67L235.96,59.82A243.42,243.42 0 0 0 236.24,58.70Z" fill="#999999" fill-opacity="0.42"/>
<path d="M263.25,65.54A271.29,271.29 0 0 1 263.05,66.36L236.03,59.54A243.42,243.42 0 0 0 236.21,58.81Z" fill="#999999" fill-opacity="0.28"/>
<path d="M260.25,76.60A271.29,271.29 0 0 1 258.01,83.83L231.51,75.22A243.42,243.42 0 0 0 233.52,68.73Z" fill="#999999" fill-opacity="0.21"/>
<path d="M259.89,77.82A271.29,271.29 0 0 1 259.49,79.12L232.84,71.00A243.42,243.42 0 0 0 233.19,69.83Z" fill="#999999" fill-opacity="0.72"/>
<path d="M259.41,79.41A271.29,271.29 0 0 1 258.92,80.97L232.33,72.65A243.42,243.42 0 0 0 232.76,71.25Z" fill="#999999" fill-opacity="0.54"/>
<path d="M256.66,87.87A271.29,271.29 0 0 1 253.94,95.45L227.86,85.65A243.42,243.42 0 0 0 230.30,78.85Z" fill="#000000" fill-opacity="1"/>
<path d="M236.35,133.18A271.29,271.29 0 0 1 227.52,147.75L204.15,132.58A243.42,243.42 0 0 0 212.07,119.50Z" fill="#a8000f" fill-opacity="0.39"/>
<path d="M230.75,142.66A271.29,271.29 0 0 1 230.26,143.45L206.61,128.72A243.42,243.42 0 0 0 207.05,128.01Z" fill="#a8000f" fill-opacity="0.70"/>
<path d="M231.40,141.60A271.29,271.29 0 0 1 230.77,142.63L207.07,127.98A243.42,243.42 0 0 0 207.63,127.06Z" fill="#a8000f" fill-opacity="0.70"/>
<path d="M235.74,134.25A271.29,271.29 0 0 1 235.20,135.19L211.04,121.31A243.42,243.42 0 0 0 211.53,120.46Z" fill="#a8000f" fill-opacity="0.70"/>
<path d="M234.27,136.80A271.29,271.29 0 0 1 233.96,137.32L209.93,123.22A243.42,243.42 0 0 0 210.21,122.75Z" fill="#a8000f" fill-opacity="0.70"/>
<path d="M233.94,137.36A271.29,271.29 0 0 1 233.34,138.38L209.38,124.16A243.42,243.42 0 0 0 209.91,123.25Z" fill="#a8000f" fill-opacity="0.70"/>
<path d="M236.25,133.35A271.29,271.29 0 0 1 235.75,134.23L211.54,120.44A243.42,243.42 0 0 0 211.99,119.65Z" fill="#a8000f" fill-opacity="0.70"/>
<path d="M234.14,137.02A271.29,271.29 0 0 1 233.87,137.48L209.85,123.36A243.42,243.42 0 0 0 210.09,122.95Z" fill="#a8000f" fill-opacity="0.70"/>
<path d="M227.52,147.75A271.29,271.29 0 0 1 220.03,158.69L197.43,142.39A243.42,243.42 0 0 0 204.15,132.58Z" fill="#a8000f" fill-opacity="1"/>
<path d="M219.75,159.08A271.29,271.29 0 0 1 212.90,168.14L191.03,150.87A243.42,243.42 0 0 0 197.18,142.74Z" fill="#5b3fab" fill-opacity="1"/>
<path d="M212.90,168.14A271.29,271.29 0 0 1 210.83,170.73L189.18,153.19A243.42,243.42 0 0 0 191.03,150.87Z" fill="#e8e3b8" fill-opacity="1"/>
<path d="M197.44,186.05A271.29,271.29 0 0 1 190.15,193.50L170.62,173.62A243.42,243.42 0 0 0 177.16,166.94Z" fill="#b4b49a" fill-opacity="0.44"/>
<path d="M192.96,190.69A271.29,271.29 0 0 1 192.18,191.48L172.44,171.81A243.42,243.42 0 0 0 173.14,171.10Z" fill="#b4b49a" fill-opacity="0.80"/>
<path d="M195.57,188.01A271.29,271.29 0 0 1 194.80,188.81L174.79,169.42A243.42,243.42 0 0 0 175.48,168.70Z" fill="#b4b49a" fill-opacity="0.80"/>
<path d="M194.40,189.23A271.29,271.29 0 0 1 193.72,189.91L173.83,170.41A243.42,243.42 0 0 0 174.43,169.79Z" fill="#b4b49a" fill-opacity="0.80"/>
<path d="M196.66,186.87A271.29,271.29 0 0 1 196.03,187.53L175.90,168.27A243.42,243.42 0 0 0 176.46,167.68Z" fill="#b4b49a" fill-opacity="0.80"/>
<path d="M169.99,211.42A271.29,271.29 0 0 1 152.49,224.38L136.82,201.33A243.42,243.42 0 0 0 152.53,189.71Z" fill="#999999" fill-opacity="0.39"/>
<path d="M166.79,213.95A271.29,271.29 0 0 1 165.75,214.76L148.73,192.71A243.42,243.42 0 0 0 149.66,191.98Z" fill="#999999" fill-opacity="0.70"/>
<path d="M154.71,222.85A271.29,271.29 0 0 1 153.56,223.64L137.79,200.67A243.42,243.42 0 0 0 138.82,199.96Z" fill="#999999" fill-opacity="0.70"/>
<path d="M162.27,217.41A271.29,271.29 0 0 1 161.87,217.70L145.25,195.34A243.42,243.42 0 0 0 145.60,195.08Z" fill="#999999" fill-opacity="0.70"/>
<path d="M154.06,223.30A271.29,271.29 0 0 1 153.03,224.01L137.31,201.00A243.42,243.42 0 0 0 138.23,200.36Z" fill="#999999" fill-opacity="0.70"/>
<path d="M165.58,214.89A271.29,271.29 0 0 1 164.87,215.44L147.93,193.31A243.42,243.42 0 0 0 148.57,192.82Z" fill="#999999" fill-opacity="0.70"/>
<path d="M153.99,223.35A271.29,271.29 0 0 1 153.43,223.73L137.68,200.75A243.42,243.42 0 0 0 138.17,200.41Z" fill="#999999" fill-opacity="0.70"/>
<path d="M160.25,218.90A271.29,271.29 0 0 1 159.71,219.29L143.31,196.77A243.42,243.42 0 0 0 143.79,196.41Z" fill="#999999" fill-opacity="0.70"/>
<path d="M161.20,218.20A271.29,271.29 0 0 1 160.71,218.56L144.21,196.11A243.42,243.42 0 0 0 144.65,195.79Z" fill="#999999" fill-opacity="0.70"/>
<path d="M167.87,213.11A271.29,271.29 0 0 1 166.79,213.96L149.66,191.98A243.42,243.42 0 0 0 150.63,191.22Z" fill="#999999" fill-opacity="0.70"/>
<path d="M151.70,224.91A271.29,271.29 0 0 1 142.96,230.56L128.27,206.88A243.42,243.42 0 0 0 136.12,201.81Z" fill="#f99e2b" fill-opacity="1"/>
<path d="M131.11,237.50A271.29,271.29 0 0 1 116.36,245.06L104.41,219.89A243.42,243.42 0 0 0 117.64,213.11Z" fill="#9ff81b" fill-opacity="0.47"/>
<path d="M124.23,241.17A271.29,271.29 0 0 1 123.12,241.74L110.47,216.91A243.42,243.42 0 0 0 111.47,216.40Z" fill="#9ff81b" fill-opacity="0.85"/>
<path d="M121.61,242.50A271.29,271.29 0 0 1 120.44,243.09L108.07,218.12A243.42,243.42 0 0 0 109.12,217.59Z" fill="#9ff81b" fill-opacity="0.85"/>
<path d="M118.45,244.06A271.29,271.29 0 0 1 117.83,244.36L105.73,219.26A243.42,243.42 0 0 0 106.29,218.99Z" fill="#9ff81b" fill-opacity="0.85"/>
<path d="M130.77,237.69A271.29,271.29 0 0 1 129.95,238.14L116.60,213.68A243.42,243.42 0 0 0 117.34,213.28Z" fill="#9ff81b" fill-opacity="0.85"/>
<path d="M124.13,241.23A271.29,271.29 0 0 1 123.70,241.44L111.00,216.64A243.42,243.42 0 0 0 111.38,216.45Z" fill="#9ff81b" fill-opacity="0.85"/>
<path d="M126.95,239.75A271.29,271.29 0 0 1 126.15,240.17L113.19,215.50A243.42,243.42 0 0 0 113.91,215.13Z" fill="#9ff81b" fill-opacity="0.85"/>
<path d="M126.27,240.11A271.29,271.29 0 0 1 125.74,240.39L112.82,215.70A243.42,243.42 0 0 0 113.30,215.45Z" fill="#9ff81b" fill-opacity="0.85"/>
<path d="M106.00,249.72A271.29,271.29 0 0 1 99.43,252.41L89.21,226.49A243.42,243.42 0 0 0 95.11,224.07Z" fill="#9ff81b" fill-opacity="0.07"/>
<path d="M101.19,251.71A271.29,271.29 0 0 1 100.35,252.05L90.04,226.16A243.42,243.42 0 0 0 90.80,225.85Z" fill="#9ff81b" fill-opacity="0.12"/>
<path d="M101.57,251.56A271.29,271.29 0 0 1 100.28,252.07L89.98,226.18A243.42,243.42 0 0 0 91.14,225.72Z" fill="#9ff81b" fill-opacity="0.14"/>
<path d="M87.43,256.81A271.29,271.29 0 0 1 71.13,261.80L63.82,234.91A243.42,243.42 0 0 0 78.45,230.44Z" fill="#9ff81b" fill-opacity="1"/>
<path d="M61.95,264.12A271.29,271.29 0 0 1 49.44,266.74L44.36,239.35A243.42,243.42 0 0 0 55.59,236.99Z" fill="#037f03" fill-opacity="0.47"/>
<path d="M53.98,265.86A271.29,271.29 0 0 1 52.66,266.13L47.25,238.79A243.42,243.42 0 0 0 48.44,238.55Z" fill="#037f03" fill-opacity="0.85"/>
<path d="M58.71,264.86A271.29,271.29 0 0 1 57.41,265.14L51.52,237.91A243.42,243.42 0 0 0 52.68,237.65Z" fill="#037f03" fill-opacity="0.85"/>
<path d="M57.37,265.15A271.29,271.29 0 0 1 56.56,265.33L50.75,238.07A243.42,243.42 0 0 0 51.47,237.92Z" fill="#037f03" fill-opacity="0.85"/>
<path d="M55.41,265.57A271.29,271.29 0 0 1 54.02,265.85L48.47,238.55A243.42,243.42 0 0 0 49.72,238.29Z" fill="#037f03" fill-opacity="0.85"/>
<path d="M56.95,265.24A271.29,271.29 0 0 1 56.15,265.41L50.39,238.15A243.42,243.42 0 0 0 51.10,238.00Z" fill="#037f03" fill-opacity="0.85"/>
<path d="M40.10,268.31A271.29,271.29 0 0 1 26.47,269.99L23.75,242.26A243.42,243.42 0 0 0 35.98,240.75Z" fill="#037f03" fill-opacity="0.07"/>
<path d="M39.48,268.40A271.29,271.29 0 0 1 38.63,268.52L34.66,240.94A243.42,243.42 0 0 0 35.43,240.83Z" fill="#037f03" fill-opacity="0.14"/>
<path d="M36.63,268.80A271.29,271.29 0 0 1 35.17,269.00L31.56,241.37A243.42,243.42 0 0 0 32.87,241.19Z" fill="#037f03" fill-opacity="0.27"/>
<path d="M36.71,268.79A271.29,271.29 0 0 1 35.88,268.90L32.19,241.29A243.42,243.42 0 0 0 32.94,241.18Z" fill="#037f03" fill-opacity="0.20"/>
<path d="M35.31,268.98A271.29,271.29 0 0 1 34.54,269.08L30.99,241.44A243.42,243.42 0 0 0 31.68,241.35Z" fill="#037f03" fill-opacity="0.27"/>
<path d="M22.70,270.34A271.29,271.29 0 0 1 3.31,271.27L2.97,243.40A243.42,243.42 0 0 0 20.37,242.57Z" fill="#037f03" fill-opacity="1"/>
<path d="M-5.68,271.23A271.29,271.29 0 0 1 -18.45,270.66L-16.56,242.86A243.42,243.42 0 0 0 -5.10,243.37Z" fill="#e6fb50" fill-opacity="1"/>
<path d="M-22.70,270.34A271.29,271.29 0 0 1 -32.59,269.32L-29.24,241.66A243.42,243.42 0 0 0 -20.37,242.57Z" fill="#e6fb50" fill-opacity="0.10"/>
<path d="M-29.50,269.68A271.29,271.29 0 0 1 -31.02,269.51L-27.83,241.83A243.42,243.42 0 0 0 -26.47,241.98Z" fill="#e6fb50" fill-opacity="0.33"/>
<path d="M-30.55,269.56A271.29,271.29 0 0 1 -32.10,269.38L-28.80,241.71A243.42,243.42 0 0 0 -27.41,241.88Z" fill="#e6fb50" fill-opacity="0.31"/>
<path d="M-23.12,270.30A271.29,271.29 0 0 1 -24.47,270.18L-21.96,242.43A243.42,243.42 0 0 0 -20.75,242.54Z" fill="#e6fb50" fill-opacity="0.36"/>
<path d="M-51.76,266.30A271.29,271.29 0 0 1 -67.92,262.65L-60.95,235.67A243.42,243.42 0 0 0 -46.45,238.95Z" fill="#e6fb50" fill-opacity="0.50"/>
<path d="M-63.29,263.80A271.29,271.29 0 0 1 -64.17,263.59L-57.57,236.52A243.42,243.42 0 0 0 -56.79,236.71Z" fill="#e6fb50" fill-opacity="0.90"/>
<path d="M-56.11,265.42A271.29,271.29 0 0 1 -57.17,265.20L-51.30,237.96A243.42,243.42 0 0 0 -50.35,238.16Z" fill="#e6fb50" fill-opacity="0.90"/>
<path d="M-66.28,263.07A271.29,271.29 0 0 1 -66.79,262.94L-59.93,235.93A243.42,243.42 0 0 0 -59.47,236.05Z" fill="#e6fb50" fill-opacity="0.90"/>
<path d="M-59.15,264.76A271.29,271.29 0 0 1 -59.73,264.63L-53.59,237.45A243.42,243.42 0 0 0 -53.07,237.57Z" fill="#e6fb50" fill-opacity="0.90"/>
<path d="M-56.37,265.37A271.29,271.29 0 0 1 -57.15,265.20L-51.28,237.96A243.42,243.42 0 0 0 -50.58,238.11Z" fill="#e6fb50" fill-opacity="0.90"/>
<path d="M-66.43,263.03A271.29,271.29 0 0 1 -67.57,262.74L-60.63,235.75A243.42,243.42 0 0 0 -59.61,236.01Z" fill="#e6fb50" fill-opacity="0.90"/>
<path d="M-61.93,264.12A271.29,271.29 0 0 1 -62.63,263.96L-56.20,236.85A243.42,243.42 0 0 0 -55.57,237.00Z" fill="#e6fb50" fill-opacity="0.90"/>
<path d="M-77.96,259.84A271.29,271.29 0 0 1 -92.79,254.93L-83.26,228.74A243.42,243.42 0 0 0 -69.95,233.16Z" fill="#e8e3b8" fill-opacity="0.44"/>
<path d="M-85.86,257.34A271.29,271.29 0 0 1 -86.57,257.10L-77.68,230.69A243.42,243.42 0 0 0 -77.04,230.91Z" fill="#e8e3b8" fill-opacity="0.80"/>
<path d="M-80.32,259.12A271.29,271.29 0 0 1 -81.13,258.87L-72.80,232.28A243.42,243.42 0 0 0 -72.07,232.51Z" fill="#e8e3b8" fill-opacity="0.80"/>
<path d="M-80.94,258.93A271.29,271.29 0 0 1 -81.54,258.74L-73.16,232.17A243.42,243.42 0 0 0 -72.63,232.34Z" fill="#e8e3b8" fill-opacity="0.80"/>
<path d="M-84.73,257.71A271.29,271.29 0 0 1 -86.00,257.30L-77.17,230.87A243.42,243.42 0 0 0 -76.03,231.24Z" fill="#e8e3b8" fill-opacity="0.80"/>
<path d="M-90.83,255.63A271.29,271.29 0 0 1 -91.47,255.40L-82.07,229.17A243.42,243.42 0 0 0 -81.50,229.38Z" fill="#e8e3b8" fill-opacity="0.80"/>
<path d="M-84.06,257.94A271.29,271.29 0 0 1 -85.40,257.49L-76.63,231.05A243.42,243.42 0 0 0 -75.42,231.44Z" fill="#e8e3b8" fill-opacity="0.80"/>
<path d="M-125.27,240.63A271.29,271.29 0 0 1 -135.64,234.94L-121.71,210.81A243.42,243.42 0 0 0 -112.40,215.92Z" fill="#e6fb50" fill-opacity="0.9"/>
<path d="M-148.55,227.00A271.29,271.29 0 0 1 -153.66,223.57L-137.88,200.61A243.42,243.42 0 0 0 -133.29,203.69Z" fill="#30b3f5" fill-opacity="0.10"/>
<path d="M-149.42,226.43A271.29,271.29 0 0 1 -150.02,226.03L-134.61,202.82A243.42,243.42 0 0 0 -134.07,203.17Z" fill="#30b3f5" fill-opacity="0.20"/>
<path d="M-148.94,226.74A271.29,271.29 0 0 1 -149.73,226.23L-134.35,202.99A243.42,243.42 0 0 0 -133.65,203.45Z" fill="#30b3f5" fill-opacity="0.24"/>
<path d="M-169.25,212.02A271.29,271.29 0 0 1 -186.05,197.44L-166.94,177.16A243.42,243.42 0 0 0 -151.87,190.24Z" fill="#30b3f5" fill-opacity="1"/>
<path d="M-194.16,189.47A271.29,271.29 0 0 1 -203.81,179.05L-182.87,160.66A243.42,243.42 0 0 0 -174.22,170.01Z" fill="#f99e2b" fill-opacity="0.44"/>
<path d="M-199.44,183.90A271.29,271.29 0 0 1 -199.93,183.37L-179.40,164.54A243.42,243.42 0 0 0 -178.96,165.01Z" fill="#f99e2b" fill-opacity="0.80"/>
<path d="M-200.78,182.44A271.29,271.29 0 0 1 -201.66,181.46L-180.95,162.82A243.42,243.42 0 0 0 -180.16,163.70Z" fill="#f99e2b" fill-opacity="0.80"/>
<path d="M-197.97,185.48A271.29,271.29 0 0 1 -198.56,184.85L-178.17,165.86A243.42,243.42 0 0 0 -177.64,166.43Z" fill="#f99e2b" fill-opacity="0.80"/>
<path d="M-197.61,185.87A271.29,271.29 0 0 1 -198.27,185.16L-177.91,166.14A243.42,243.42 0 0 0 -177.31,166.78Z" fill="#f99e2b" fill-opacity="0.80"/>
<path d="M-194.74,188.87A271.29,271.29 0 0 1 -195.29,188.30L-175.23,168.96A243.42,243.42 0 0 0 -174.74,169.48Z" fill="#f99e2b" fill-opacity="0.80"/>
<path d="M-203.03,179.93A271.29,271.29 0 0 1 -203.52,179.38L-182.62,160.95A243.42,243.42 0 0 0 -182.18,161.45Z" fill="#f99e2b" fill-opacity="0.80"/>
<path d="M-230.56,142.96A271.29,271.29 0 0 1 -237.04,131.94L-212.70,118.39A243.42,243.42 0 0 0 -206.88,128.27Z" fill="#f99e2b" fill-opacity="1"/>
<path d="M-241.93,122.74A271.29,271.29 0 0 1 -246.86,112.50L-221.51,100.95A243.42,243.42 0 0 0 -217.08,110.13Z" fill="#5b3fab" fill-opacity="1"/>
<path d="M-246.86,112.50A271.29,271.29 0 0 1 -247.66,110.72L-222.23,99.35A243.42,243.42 0 0 0 -221.51,100.95Z" fill="#d632e0" fill-opacity="0.35"/>
<path d="M-247.57,110.94A271.29,271.29 0 0 1 -248.36,109.15L-222.85,97.94A243.42,243.42 0 0 0 -222.14,99.54Z" fill="#d632e0" fill-opacity="0.44"/>
<path d="M-248.26,109.37A271.29,271.29 0 0 1 -249.05,107.58L-223.47,96.53A243.42,243.42 0 0 0 -222.77,98.14Z" fill="#d632e0" fill-opacity="0.54"/>
<path d="M-248.95,107.80A271.29,271.29 0 0 1 -249.72,106.00L-224.07,95.11A243.42,243.42 0 0 0 -223.38,96.72Z" fill="#d632e0" fill-opacity="0.63"/>
<path d="M-249.63,106.22A271.29,271.29 0 0 1 -250.39,104.42L-224.67,93.69A243.42,243.42 0 0 0 -223.99,95.31Z" fill="#d632e0" fill-opacity="0.72"/>
<path d="M-250.30,104.64A271.29,271.29 0 0 1 -251.04,102.83L-225.26,92.27A243.42,243.42 0 0 0 -224.59,93.89Z" fill="#d632e0" fill-opacity="0.81"/>
<path d="M-250.95,103.05A271.29,271.29 0 0 1 -251.69,101.24L-225.84,90.84A243.42,243.42 0 0 0 -225.18,92.47Z" fill="#d632e0" fill-opacity="0.91"/>
<path d="M-251.60,101.46A271.29,271.29 0 0 1 -252.32,99.65L-226.41,89.41A243.42,243.42 0 0 0 -225.76,91.04Z" fill="#d632e0" fill-opacity="1.00"/>
<path d="M-261.42,72.50A271.29,271.29 0 0 1 -262.65,67.92L-235.67,60.95A243.42,243.42 0 0 0 -234.57,65.05Z" fill="#5b3fab" fill-opacity="0.10"/>
<path d="M-261.96,70.54A271.29,271.29 0 0 1 -262.14,69.86L-235.21,62.68A243.42,243.42 0 0 0 -235.05,63.30Z" fill="#5b3fab" fill-opacity="0.33"/>
<path d="M-261.61,71.83A271.29,271.29 0 0 1 -262.00,70.37L-235.09,63.14A243.42,243.42 0 0 0 -234.74,64.45Z" fill="#5b3fab" fill-opacity="0.25"/>
<path d="M-264.12,61.95A271.29,271.29 0 0 1 -266.30,51.76L-238.95,46.45A243.42,243.42 0 0 0 -236.99,55.59Z" fill="#5b3fab" fill-opacity="0.44"/>
<path d="M-264.98,58.16A271.29,271.29 0 0 1 -265.13,57.47L-237.90,51.57A243.42,243.42 0 0 0 -237.76,52.19Z" fill="#5b3fab" fill-opacity="0.80"/>
<path d="M-266.04,53.07A271.29,271.29 0 0 1 -266.22,52.19L-238.88,46.83A243.42,243.42 0 0 0 -238.72,47.62Z" fill="#5b3fab" fill-opacity="0.80"/>
<path d="M-265.83,54.16A271.29,271.29 0 0 1 -266.08,52.90L-238.75,47.47A243.42,243.42 0 0 0 -238.52,48.59Z" fill="#5b3fab" fill-opacity="0.80"/>
<path d="M-264.19,61.64A271.29,271.29 0 0 1 -264.30,61.16L-237.16,54.87A243.42,243.42 0 0 0 -237.06,55.31Z" fill="#5b3fab" fill-opacity="0.80"/>
<path d="M-267.80,43.37A271.29,271.29 0 0 1 -268.78,36.82L-241.17,33.04A243.42,243.42 0 0 0 -240.29,38.92Z" fill="#05645f" fill-opacity="1"/>
<path d="M-269.43,31.65A271.29,271.29 0 0 1 -269.90,27.42L-242.18,24.60A243.42,243.42 0 0 0 -241.76,28.40Z" fill="#05645f" fill-opacity="0.10"/>
<path d="M-269.73,29.05A271.29,271.29 0 0 1 -269.87,27.72L-242.15,24.87A243.42,243.42 0 0 0 -242.02,26.07Z" fill="#05645f" fill-opacity="0.29"/>
<path d="M-269.43,31.65A271.29,271.29 0 0 1 -269.57,30.45L-241.88,27.32A243.42,243.42 0 0 0 -241.76,28.40Z" fill="#05645f" fill-opacity="0.27"/>
<path d="M-271.01,12.31A271.29,271.29 0 0 1 -271.29,-0.95L-243.42,-0.85A243.42,243.42 0 0 0 -243.17,11.04Z" fill="#05645f" fill-opacity="0.10"/>
<path d="M-271.27,2.67A271.29,271.29 0 0 1 -271.28,1.09L-243.42,0.98A243.42,243.42 0 0 0 -243.41,2.39Z" fill="#05645f" fill-opacity="0.39"/>
<path d="M-271.12,9.42A271.29,271.29 0 0 1 -271.18,7.79L-243.32,6.99A243.42,243.42 0 0 0 -243.28,8.45Z" fill="#05645f" fill-opacity="0.21"/>
<path d="M-271.23,5.77A271.29,271.29 0 0 1 -271.24,5.03L-243.38,4.52A243.42,243.42 0 0 0 -243.37,5.18Z" fill="#05645f" fill-opacity="0.34"/>
<path d="M-271.26,3.89A271.29,271.29 0 0 1 -271.28,2.30L-243.41,2.06A243.42,243.42 0 0 0 -243.40,3.49Z" fill="#05645f" fill-opacity="0.34"/>
<path d="M-271.27,-2.84A271.29,271.29 0 0 1 -270.92,-14.20L-243.09,-12.74A243.42,243.42 0 0 0 -243.41,-2.55Z" fill="#05645f" fill-opacity="0.9"/>
<path d="M-270.41,-21.76A271.29,271.29 0 0 1 -268.24,-40.57L-240.69,-36.40A243.42,243.42 0 0 0 -242.64,-19.52Z" fill="#05645f" fill-opacity="0.47"/>
<path d="M-269.64,-29.83A271.29,271.29 0 0 1 -269.51,-31.02L-241.83,-27.84A243.42,243.42 0 0 0 -241.95,-26.77Z" fill="#05645f" fill-opacity="0.85"/>
<path d="M-270.36,-22.46A271.29,271.29 0 0 1 -270.27,-23.46L-242.51,-21.05A243.42,243.42 0 0 0 -242.59,-20.16Z" fill="#05645f" fill-opacity="0.85"/>
<path d="M-270.05,-25.86A271.29,271.29 0 0 1 -269.93,-27.07L-242.21,-24.29A243.42,243.42 0 0 0 -242.31,-23.21Z" fill="#05645f" fill-opacity="0.85"/>
<path d="M-269.27,-33.06A271.29,271.29 0 0 1 -269.10,-34.39L-241.46,-30.86A243.42,243.42 0 0 0 -241.61,-29.66Z" fill="#05645f" fill-opacity="0.85"/>
<path d="M-270.22,-24.07A271.29,271.29 0 0 1 -270.15,-24.83L-242.40,-22.28A243.42,243.42 0 0 0 -242.46,-21.60Z" fill="#05645f" fill-opacity="0.85"/>
<path d="M-269.24,-33.29A271.29,271.29 0 0 1 -269.15,-34.00L-241.50,-30.51A243.42,243.42 0 0 0 -241.58,-29.87Z" fill="#05645f" fill-opacity="0.85"/>
<path d="M-270.25,-23.75A271.29,271.29 0 0 1 -270.14,-24.88L-242.40,-22.32A243.42,243.42 0 0 0 -242.49,-21.31Z" fill="#05645f" fill-opacity="0.85"/>
<path d="M-269.47,-31.36A271.29,271.29 0 0 1 -269.41,-31.90L-241.73,-28.62A243.42,243.42 0 0 0 -241.79,-28.14Z" fill="#05645f" fill-opacity="0.85"/>
<path d="M-266.66,-49.90A271.29,271.29 0 0 1 -259.98,-77.50L-233.28,-69.54A243.42,243.42 0 0 0 -239.27,-44.78Z" fill="#722a31" fill-opacity="1"/>
<path d="M-253.27,-97.22A271.29,271.29 0 0 1 -247.06,-112.07L-221.68,-100.56A243.42,243.42 0 0 0 -227.25,-87.24Z" fill="#722a31" fill-opacity="0.9"/>
<path d="M-242.78,-121.05A271.29,271.29 0 0 1 -230.31,-143.36L-206.66,-128.63A243.42,243.42 0 0 0 -217.85,-108.61Z" fill="#773290" fill-opacity="0.44"/>
<path d="M-238.39,-129.50A271.29,271.29 0 0 1 -237.89,-130.40L-213.46,-117.00A243.42,243.42 0 0 0 -213.90,-116.19Z" fill="#773290" fill-opacity="0.80"/>
<path d="M-235.75,-134.24A271.29,271.29 0 0 1 -235.41,-134.84L-211.23,-120.99A243.42,243.42 0 0 0 -211.53,-120.45Z" fill="#773290" fill-opacity="0.80"/>
<path d="M-239.32,-127.77A271.29,271.29 0 0 1 -239.09,-128.19L-214.53,-115.03A243.42,243.42 0 0 0 -214.74,-114.65Z" fill="#773290" fill-opacity="0.80"/>
<path d="M-231.32,-141.72A271.29,271.29 0 0 1 -230.85,-142.50L-207.14,-127.86A243.42,243.42 0 0 0 -207.57,-127.17Z" fill="#773290" fill-opacity="0.80"/>
<path d="M-232.37,-140.01A271.29,271.29 0 0 1 -231.81,-140.93L-208.00,-126.46A243.42,243.42 0 0 0 -208.50,-125.63Z" fill="#773290" fill-opacity="0.80"/>
<path d="M-240.15,-126.20A271.29,271.29 0 0 1 -239.72,-127.01L-215.10,-113.97A243.42,243.42 0 0 0 -215.48,-113.24Z" fill="#773290" fill-opacity="0.80"/>
<path d="M-231.20,-141.92A271.29,271.29 0 0 1 -230.83,-142.53L-207.12,-127.89A243.42,243.42 0 0 0 -207.45,-127.35Z" fill="#773290" fill-opacity="0.80"/>
<path d="M-239.34,-127.72A271.29,271.29 0 0 1 -238.80,-128.73L-214.27,-115.50A243.42,243.42 0 0 0 -214.76,-114.60Z" fill="#773290" fill-opacity="0.80"/>
<path d="M-236.95,-132.10A271.29,271.29 0 0 1 -236.71,-132.53L-212.40,-118.92A243.42,243.42 0 0 0 -212.62,-118.53Z" fill="#773290" fill-opacity="0.80"/>
<path d="M-238.03,-130.15A271.29,271.29 0 0 1 -237.49,-131.13L-213.10,-117.66A243.42,243.42 0 0 0 -213.58,-116.78Z" fill="#773290" fill-opacity="0.80"/>
<path d="M-223.04,-154.44A271.29,271.29 0 0 1 -217.79,-161.75L-195.42,-145.13A243.42,243.42 0 0 0 -200.13,-138.58Z" fill="#3fd6d4" fill-opacity="0.07"/>
<path d="M-219.90,-158.88A271.29,271.29 0 0 1 -219.40,-159.56L-196.86,-143.18A243.42,243.42 0 0 0 -197.31,-142.56Z" fill="#3fd6d4" fill-opacity="0.27"/>
<path d="M-222.88,-154.67A271.29,271.29 0 0 1 -222.41,-155.34L-199.57,-139.38A243.42,243.42 0 0 0 -199.99,-138.78Z" fill="#3fd6d4" fill-opacity="0.17"/>
<path d="M-219.90,-158.88A271.29,271.29 0 0 1 -219.29,-159.71L-196.77,-143.31A243.42,243.42 0 0 0 -197.31,-142.56Z" fill="#3fd6d4" fill-opacity="0.15"/>
<path d="M-209.33,-172.56A271.29,271.29 0 0 1 -203.81,-179.05L-182.87,-160.66A243.42,243.42 0 0 0 -187.83,-154.84Z" fill="#3fd6d4" fill-opacity="0.45"/>
<path d="M-203.81,-179.05A271.29,271.29 0 0 1 -197.76,-185.71L-177.45,-166.63A243.42,243.42 0 0 0 -182.87,-160.66Z" fill="#773290" fill-opacity="1"/>
<path d="M-197.76,-185.71A271.29,271.29 0 0 1 -192.16,-191.49L-172.43,-171.83A243.42,243.42 0 0 0 -177.45,-166.63Z" fill="#a8000f" fill-opacity="1"/>
<path d="M-185.02,-198.41A271.29,271.29 0 0 1 -183.50,-199.81L-164.65,-179.29A243.42,243.42 0 0 0 -166.01,-178.03Z" fill="#5b3fab" fill-opacity="0.35"/>
<path d="M-183.67,-199.65A271.29,271.29 0 0 1 -182.14,-201.05L-163.43,-180.40A243.42,243.42 0 0 0 -164.81,-179.15Z" fill="#5b3fab" fill-opacity="0.44"/>
<path d="M-182.32,-200.89A271.29,271.29 0 0 1 -180.78,-202.28L-162.21,-181.50A243.42,243.42 0 0 0 -163.59,-180.26Z" fill="#5b3fab" fill-opacity="0.54"/>
<path d="M-180.95,-202.12A271.29,271.29 0 0 1 -179.41,-203.50L-160.98,-182.59A243.42,243.42 0 0 0 -162.37,-181.36Z" fill="#5b3fab" fill-opacity="0.63"/>
<path d="M-179.58,-203.34A271.29,271.29 0 0 1 -178.02,-204.70L-159.74,-183.68A243.42,243.42 0 0 0 -161.14,-182.45Z" fill="#5b3fab" fill-opacity="0.72"/>
<path d="M-178.20,-204.55A271.29,271.29 0 0 1 -176.64,-205.90L-158.49,-184.75A243.42,243.42 0 0 0 -159.90,-183.54Z" fill="#5b3fab" fill-opacity="0.81"/>
<path d="M-176.82,-205.75A271.29,271.29 0 0 1 -175.24,-207.09L-157.24,-185.82A243.42,243.42 0 0 0 -158.66,-184.62Z" fill="#5b3fab" fill-opacity="0.91"/>
<path d="M-175.42,-206.94A271.29,271.29 0 0 1 -173.84,-208.27L-155.98,-186.88A243.42,243.42 0 0 0 -157.40,-185.69Z" fill="#5b3fab" fill-opacity="1.00"/>
<path d="M-161.75,-217.79A271.29,271.29 0 0 1 -159.46,-219.48L-143.08,-196.93A243.42,243.42 0 0 0 -145.13,-195.42Z" fill="#5b3fab" fill-opacity="0.21"/>
<path d="M-160.91,-218.41A271.29,271.29 0 0 1 -159.75,-219.26L-143.35,-196.74A243.42,243.42 0 0 0 -144.39,-195.98Z" fill="#5b3fab" fill-opacity="0.60"/>
<path d="M-160.15,-218.97A271.29,271.29 0 0 1 -159.51,-219.44L-143.13,-196.90A243.42,243.42 0 0 0 -143.70,-196.48Z" fill="#5b3fab" fill-opacity="0.51"/>
<path d="M-142.55,-230.81A271.29,271.29 0 0 1 -122.74,-241.93L-110.13,-217.08A243.42,243.42 0 0 0 -127.91,-207.11Z" fill="#f9dcc6" fill-opacity="0.9"/>
<path d="M-112.93,-246.66A271.29,271.29 0 0 1 -111.15,-247.47L-99.74,-222.05A243.42,243.42 0 0 0 -101.33,-221.33Z" fill="#8b84f8" fill-opacity="1.00"/>
<path d="M-111.37,-247.37A271.29,271.29 0 0 1 -109.58,-248.17L-98.33,-222.68A243.42,243.42 0 0 0 -99.93,-221.97Z" fill="#8b84f8" fill-opacity="0.91"/>
<path d="M-109.80,-248.07A271.29,271.29 0 0 1 -108.01,-248.86L-96.92,-223.30A243.42,243.42 0 0 0 -98.52,-222.59Z" fill="#8b84f8" fill-opacity="0.81"/>
<path d="M-108.23,-248.76A271.29,271.29 0 0 1 -106.44,-249.54L-95.50,-223.91A243.42,243.42 0 0 0 -97.11,-223.21Z" fill="#8b84f8" fill-opacity="0.72"/>
<path d="M-106.65,-249.44A271.29,271.29 0 0 1 -104.86,-250.20L-94.09,-224.51A243.42,243.42 0 0 0 -95.70,-223.82Z" fill="#8b84f8" fill-opacity="0.63"/>
<path d="M-105.07,-250.11A271.29,271.29 0 0 1 -103.27,-250.86L-92.66,-225.10A243.42,243.42 0 0 0 -94.28,-224.42Z" fill="#8b84f8" fill-opacity="0.54"/>
<path d="M-103.49,-250.77A271.29,271.29 0 0 1 -101.68,-251.51L-91.24,-225.68A243.42,243.42 0 0 0 -92.86,-225.02Z" fill="#8b84f8" fill-opacity="0.44"/>
<path d="M-101.90,-251.42A271.29,271.29 0 0 1 -100.09,-252.15L-89.81,-226.25A243.42,243.42 0 0 0 -91.43,-225.60Z" fill="#8b84f8" fill-opacity="0.35"/>
<path d="M-86.53,-257.12A271.29,271.29 0 0 1 -64.71,-263.46L-58.06,-236.40A243.42,243.42 0 0 0 -77.64,-230.71Z" fill="#8b84f8" fill-opacity="0.14"/>
<path d="M-81.86,-258.64A271.29,271.29 0 0 1 -80.47,-259.08L-72.20,-232.47A243.42,243.42 0 0 0 -73.46,-232.08Z" fill="#8b84f8" fill-opacity="0.31"/>
<path d="M-80.54,-259.05A271.29,271.29 0 0 1 -79.21,-259.47L-71.07,-232.82A243.42,243.42 0 0 0 -72.27,-232.45Z" fill="#8b84f8" fill-opacity="0.54"/>
<path d="M-82.68,-258.38A271.29,271.29 0 0 1 -81.63,-258.72L-73.24,-232.14A243.42,243.42 0 0 0 -74.19,-231.84Z" fill="#8b84f8" fill-opacity="0.31"/>
<path d="M-72.73,-261.36A271.29,271.29 0 0 1 -71.74,-261.63L-64.37,-234.76A243.42,243.42 0 0 0 -65.26,-234.51Z" fill="#8b84f8" fill-opacity="0.54"/>
<path d="M-78.28,-259.75A271.29,271.29 0 0 1 -77.59,-259.96L-69.62,-233.26A243.42,243.42 0 0 0 -70.24,-233.07Z" fill="#8b84f8" fill-opacity="0.31"/>
<path d="M-83.69,-258.06A271.29,271.29 0 0 1 -82.14,-258.55L-73.70,-232.00A243.42,243.42 0 0 0 -75.09,-231.55Z" fill="#8b84f8" fill-opacity="0.26"/>
<path d="M-78.25,-259.76A271.29,271.29 0 0 1 -77.64,-259.94L-69.67,-233.24A243.42,243.42 0 0 0 -70.21,-233.08Z" fill="#8b84f8" fill-opacity="0.53"/>
<path d="M-71.68,-261.65A271.29,271.29 0 0 1 -70.20,-262.05L-62.99,-235.13A243.42,243.42 0 0 0 -64.31,-234.77Z" fill="#8b84f8" fill-opacity="0.56"/>
<path d="M-56.40,-265.36A271.29,271.29 0 0 1 -41.04,-268.17L-36.82,-240.62A243.42,243.42 0 0 0 -50.61,-238.10Z" fill="#8b84f8" fill-opacity="1"/>
<path d="M28.97,-217.12A219.04,219.04 0 0 1 41.80,-215.02L36.33,-186.91A190.40,190.40 0 0 0 25.18,-188.73Z" fill="#3fd6d4" fill-opacity="1"/>
<path d="M47.41,-213.85A219.04,219.04 0 0 1 64.77,-209.25L56.30,-181.89A190.40,190.40 0 0 0 41.21,-185.89Z" fill="#3fd6d4" fill-opacity="0.05"/>
<path d="M52.76,-212.59A219.04,219.04 0 0 1 54.00,-212.28L46.94,-184.53A190.40,190.40 0 0 0 45.86,-184.80Z" fill="#3fd6d4" fill-opacity="0.11"/>
<path d="M59.48,-210.81A219.04,219.04 0 0 1 60.72,-210.46L52.78,-182.94A190.40,190.40 0 0 0 51.71,-183.25Z" fill="#3fd6d4" fill-opacity="0.09"/>
<path d="M53.64,-212.37A219.04,219.04 0 0 1 54.66,-212.11L47.51,-184.38A190.40,190.40 0 0 0 46.63,-184.61Z" fill="#3fd6d4" fill-opacity="0.13"/>
<path d="M50.25,-213.20A219.04,219.04 0 0 1 50.98,-213.03L44.32,-185.18A190.40,190.40 0 0 0 43.68,-185.33Z" fill="#3fd6d4" fill-opacity="0.09"/>
<path d="M53.31,-212.45A219.04,219.04 0 0 1 54.00,-212.28L46.94,-184.53A190.40,190.40 0 0 0 46.34,-184.68Z" fill="#3fd6d4" fill-opacity="0.20"/>
<path d="M63.64,-209.59A219.04,219.04 0 0 1 64.18,-209.43L55.79,-182.05A190.40,190.40 0 0 0 55.32,-182.19Z" fill="#3fd6d4" fill-opacity="0.11"/>
<path d="M61.09,-210.35A219.04,219.04 0 0 1 61.84,-210.13L53.75,-182.66A190.40,190.40 0 0 0 53.11,-182.85Z" fill="#3fd6d4" fill-opacity="0.19"/>
<path d="M77.43,-204.90A219.04,219.04 0 0 1 84.53,-202.07L73.48,-175.65A190.40,190.40 0 0 0 67.30,-178.11Z" fill="#3fd6d4" fill-opacity="0.12"/>
<path d="M77.74,-204.78A219.04,219.04 0 0 1 78.52,-204.48L68.26,-177.75A190.40,190.40 0 0 0 67.58,-178.01Z" fill="#3fd6d4" fill-opacity="0.34"/>
<path d="M83.29,-202.59A219.04,219.04 0 0 1 84.02,-202.29L73.04,-175.84A190.40,190.40 0 0 0 72.40,-176.10Z" fill="#3fd6d4" fill-opacity="0.26"/>
<path d="M83.16,-202.64A219.04,219.04 0 0 1 83.88,-202.35L72.91,-175.89A190.40,190.40 0 0 0 72.28,-176.15Z" fill="#3fd6d4" fill-opacity="0.22"/>
<path d="M86.29,-201.33A219.04,219.04 0 0 1 100.12,-194.82L87.03,-169.35A190.40,190.40 0 0 0 75.01,-175.01Z" fill="#3fd6d4" fill-opacity="1"/>
<path d="M102.50,-193.58A219.04,219.04 0 0 1 117.37,-184.94L102.02,-160.76A190.40,190.40 0 0 0 89.10,-168.27Z" fill="#d632e0" fill-opacity="0.16"/>
<path d="M114.05,-187.01A219.04,219.04 0 0 1 114.75,-186.58L99.75,-162.18A190.40,190.40 0 0 0 99.14,-162.56Z" fill="#d632e0" fill-opacity="0.55"/>
<path d="M103.01,-193.31A219.04,219.04 0 0 1 103.45,-193.08L89.92,-167.83A190.40,190.40 0 0 0 89.54,-168.04Z" fill="#d632e0" fill-opacity="0.29"/>
<path d="M106.10,-191.63A219.04,219.04 0 0 1 107.21,-191.01L93.19,-166.04A190.40,190.40 0 0 0 92.23,-166.58Z" fill="#d632e0" fill-opacity="0.54"/>
<path d="M107.25,-190.99A219.04,219.04 0 0 1 108.33,-190.38L94.17,-165.49A190.40,190.40 0 0 0 93.22,-166.02Z" fill="#d632e0" fill-opacity="0.37"/>
<path d="M111.06,-188.80A219.04,219.04 0 0 1 112.18,-188.14L97.51,-163.54A190.40,190.40 0 0 0 96.54,-164.11Z" fill="#d632e0" fill-opacity="0.36"/>
<path d="M106.98,-191.14A219.04,219.04 0 0 1 107.92,-190.61L93.81,-165.69A190.40,190.40 0 0 0 92.99,-166.15Z" fill="#d632e0" fill-opacity="0.37"/>
<path d="M113.50,-187.34A219.04,219.04 0 0 1 113.89,-187.10L99.00,-162.64A190.40,190.40 0 0 0 98.66,-162.85Z" fill="#d632e0" fill-opacity="0.60"/>
<path d="M121.22,-182.44A219.04,219.04 0 0 1 136.06,-171.66L118.27,-149.22A190.40,190.40 0 0 0 105.37,-158.59Z" fill="#d632e0" fill-opacity="1"/>
<path d="M137.25,-170.71A219.04,219.04 0 0 1 146.57,-162.78L127.41,-141.50A190.40,190.40 0 0 0 119.31,-148.39Z" fill="#f9e93b" fill-opacity="0.7"/>
<path d="M150.22,-159.41A219.04,219.04 0 0 1 167.80,-140.80L145.86,-122.39A190.40,190.40 0 0 0 130.58,-138.57Z" fill="#f9e93b" fill-opacity="0.07"/>
<path d="M166.24,-142.64A219.04,219.04 0 0 1 166.90,-141.86L145.07,-123.32A190.40,190.40 0 0 0 144.50,-123.99Z" fill="#f9e93b" fill-opacity="0.12"/>
<path d="M158.63,-151.05A219.04,219.04 0 0 1 159.08,-150.57L138.29,-130.88A190.40,190.40 0 0 0 137.89,-131.30Z" fill="#f9e93b" fill-opacity="0.27"/>
<path d="M156.92,-152.82A219.04,219.04 0 0 1 157.83,-151.89L137.19,-132.03A190.40,190.40 0 0 0 136.41,-132.84Z" fill="#f9e93b" fill-opacity="0.16"/>
<path d="M158.88,-150.78A219.04,219.04 0 0 1 159.46,-150.18L138.61,-130.54A190.40,190.40 0 0 0 138.11,-131.07Z" fill="#f9e93b" fill-opacity="0.27"/>
<path d="M164.17,-145.01A219.04,219.04 0 0 1 164.58,-144.54L143.06,-125.64A190.40,190.40 0 0 0 142.71,-126.05Z" fill="#f9e93b" fill-opacity="0.24"/>
<path d="M163.39,-145.89A219.04,219.04 0 0 1 164.17,-145.00L142.71,-126.05A190.40,190.40 0 0 0 142.03,-126.81Z" fill="#f9e93b" fill-opacity="0.22"/>
<path d="M155.91,-153.86A219.04,219.04 0 0 1 156.43,-153.33L135.98,-133.28A190.40,190.40 0 0 0 135.52,-133.74Z" fill="#f9e93b" fill-opacity="0.18"/>
<path d="M151.62,-158.08A219.04,219.04 0 0 1 152.45,-157.28L132.52,-136.72A190.40,190.40 0 0 0 131.80,-137.41Z" fill="#f9e93b" fill-opacity="0.15"/>
<path d="M154.57,-155.20A219.04,219.04 0 0 1 155.37,-154.41L135.05,-134.22A190.40,190.40 0 0 0 134.36,-134.91Z" fill="#f9e93b" fill-opacity="0.13"/>
<path d="M160.02,-149.58A219.04,219.04 0 0 1 160.35,-149.22L139.39,-129.71A190.40,190.40 0 0 0 139.10,-130.02Z" fill="#f9e93b" fill-opacity="0.17"/>
<path d="M165.10,-143.95A219.04,219.04 0 0 1 165.96,-142.95L144.26,-124.26A190.40,190.40 0 0 0 143.51,-125.13Z" fill="#f9e93b" fill-opacity="0.28"/>
<path d="M169.26,-139.03A219.04,219.04 0 0 1 178.10,-127.51L154.82,-110.84A190.40,190.40 0 0 0 147.13,-120.86Z" fill="#f9e93b" fill-opacity="1"/>
<path d="M177.66,-128.13A219.04,219.04 0 0 1 178.55,-126.89L155.20,-110.30A190.40,190.40 0 0 0 154.43,-111.38Z" fill="#3fd6d4" fill-opacity="1"/>
<path d="M183.50,-119.62A219.04,219.04 0 0 1 188.93,-110.84L164.23,-96.35A190.40,190.40 0 0 0 159.50,-103.98Z" fill="#f5132b" fill-opacity="1"/>
<path d="M188.93,-110.84A219.04,219.04 0 0 1 192.86,-103.85L167.65,-90.27A190.40,190.40 0 0 0 164.23,-96.35Z" fill="#f5132b" fill-opacity="0.14"/>
<path d="M189.24,-110.31A219.04,219.04 0 0 1 189.59,-109.71L164.80,-95.37A190.40,190.40 0 0 0 164.50,-95.89Z" fill="#f5132b" fill-opacity="0.27"/>
<path d="M191.44,-106.45A219.04,219.04 0 0 1 191.87,-105.66L166.79,-91.85A190.40,190.40 0 0 0 166.41,-92.53Z" fill="#f5132b" fill-opacity="0.38"/>
<path d="M190.46,-108.18A219.04,219.04 0 0 1 190.79,-107.61L165.84,-93.54A190.40,190.40 0 0 0 165.56,-94.04Z" fill="#f5132b" fill-opacity="0.44"/>
<path d="M199.00,-91.53A219.04,219.04 0 0 1 200.87,-87.34L174.61,-75.92A190.40,190.40 0 0 0 172.98,-79.56Z" fill="#f5132b" fill-opacity="0.07"/>
<path d="M200.09,-89.12A219.04,219.04 0 0 1 200.52,-88.16L174.30,-76.63A190.40,190.40 0 0 0 173.93,-77.47Z" fill="#f5132b" fill-opacity="0.26"/>
<path d="M199.18,-91.14A219.04,219.04 0 0 1 199.61,-90.19L173.51,-78.40A190.40,190.40 0 0 0 173.14,-79.22Z" fill="#f5132b" fill-opacity="0.25"/>
<path d="M206.61,-72.76A219.04,219.04 0 0 1 208.90,-65.87L181.59,-57.26A190.40,190.40 0 0 0 179.59,-63.24Z" fill="#f5132b" fill-opacity="1"/>
<path d="M211.38,-57.43A219.04,219.04 0 0 1 212.63,-52.62L184.83,-45.74A190.40,190.40 0 0 0 183.74,-49.92Z" fill="#fdfb55" fill-opacity="0.8"/>
<path d="M215.30,-40.29A219.04,219.04 0 0 1 217.50,-25.94L189.06,-22.54A190.40,190.40 0 0 0 187.15,-35.03Z" fill="#fdfb55" fill-opacity="0.07"/>
<path d="M216.61,-32.57A219.04,219.04 0 0 1 216.71,-31.86L188.38,-27.70A190.40,190.40 0 0 0 188.29,-28.31Z" fill="#fdfb55" fill-opacity="0.18"/>
<path d="M215.78,-37.66A219.04,219.04 0 0 1 215.97,-36.57L187.73,-31.79A190.40,190.40 0 0 0 187.57,-32.74Z" fill="#fdfb55" fill-opacity="0.16"/>
<path d="M215.68,-38.20A219.04,219.04 0 0 1 215.80,-37.54L187.59,-32.63A190.40,190.40 0 0 0 187.49,-33.21Z" fill="#fdfb55" fill-opacity="0.26"/>
<path d="M216.07,-35.94A219.04,219.04 0 0 1 216.23,-34.98L187.96,-30.41A190.40,190.40 0 0 0 187.82,-31.24Z" fill="#fdfb55" fill-opacity="0.18"/>
<path d="M216.43,-33.69A219.04,219.04 0 0 1 216.64,-32.38L188.31,-28.15A190.40,190.40 0 0 0 188.14,-29.29Z" fill="#fdfb55" fill-opacity="0.16"/>
<path d="M216.74,-31.69A219.04,219.04 0 0 1 216.90,-30.53L188.55,-26.54A190.40,190.40 0 0 0 188.40,-27.54Z" fill="#fdfb55" fill-opacity="0.28"/>
<path d="M218.93,-6.88A219.04,219.04 0 0 1 218.91,7.64L190.29,6.65A190.40,190.40 0 0 0 190.31,-5.98Z" fill="#fdfb55" fill-opacity="1"/>
<path d="M218.63,13.37A219.04,219.04 0 0 1 216.35,34.27L188.06,29.79A190.40,190.40 0 0 0 190.05,11.62Z" fill="#000000" fill-opacity="1"/>
<path d="M216.35,34.27A219.04,219.04 0 0 1 215.51,39.17L187.34,34.04A190.40,190.40 0 0 0 188.06,29.79Z" fill="#999999" fill-opacity="0.21"/>
<path d="M216.01,36.34A219.04,219.04 0 0 1 215.92,36.88L187.69,32.06A190.40,190.40 0 0 0 187.77,31.59Z" fill="#999999" fill-opacity="0.75"/>
<path d="M215.78,37.67A219.04,219.04 0 0 1 215.57,38.85L187.39,33.77A190.40,190.40 0 0 0 187.57,32.74Z" fill="#999999" fill-opacity="0.38"/>
<path d="M211.38,57.43A219.04,219.04 0 0 1 208.56,66.96L181.29,58.21A190.40,190.40 0 0 0 183.74,49.92Z" fill="#999999" fill-opacity="0.21"/>
<path d="M211.09,58.49A219.04,219.04 0 0 1 210.90,59.18L183.32,51.44A190.40,190.40 0 0 0 183.49,50.84Z" fill="#999999" fill-opacity="0.45"/>
<path d="M210.00,62.27A219.04,219.04 0 0 1 209.63,63.53L182.22,55.22A190.40,190.40 0 0 0 182.55,54.13Z" fill="#999999" fill-opacity="0.81"/>
<path d="M209.16,65.04A219.04,219.04 0 0 1 208.93,65.79L181.61,57.19A190.40,190.40 0 0 0 181.82,56.54Z" fill="#999999" fill-opacity="0.58"/>
<path d="M209.38,64.34A219.04,219.04 0 0 1 209.18,65.00L181.83,56.50A190.40,190.40 0 0 0 182.00,55.93Z" fill="#999999" fill-opacity="0.81"/>
<path d="M206.98,71.67A219.04,219.04 0 0 1 205.17,76.71L178.35,66.68A190.40,190.40 0 0 0 179.92,62.30Z" fill="#000000" fill-opacity="1"/>
<path d="M190.46,108.19A219.04,219.04 0 0 1 180.95,123.44L157.29,107.30A190.40,190.40 0 0 0 165.56,94.05Z" fill="#a8000f" fill-opacity="0.55"/>
<path d="M185.09,117.14A219.04,219.04 0 0 1 184.84,117.53L160.67,102.17A190.40,190.40 0 0 0 160.89,101.83Z" fill="#a8000f" fill-opacity="1.00"/>
<path d="M188.59,111.42A219.04,219.04 0 0 1 188.15,112.15L163.55,97.49A190.40,190.40 0 0 0 163.93,96.85Z" fill="#a8000f" fill-opacity="1.00"/>
<path d="M189.24,110.31A219.04,219.04 0 0 1 188.90,110.89L164.20,96.39A190.40,190.40 0 0 0 164.49,95.89Z" fill="#a8000f" fill-opacity="1.00"/>
<path d="M188.22,112.03A219.04,219.04 0 0 1 187.95,112.50L163.37,97.79A190.40,190.40 0 0 0 163.61,97.39Z" fill="#a8000f" fill-opacity="1.00"/>
<path d="M184.70,117.75A219.04,219.04 0 0 1 184.24,118.46L160.16,102.97A190.40,190.40 0 0 0 160.55,102.36Z" fill="#a8000f" fill-opacity="1.00"/>
<path d="M190.36,108.37A219.04,219.04 0 0 1 190.09,108.83L165.24,94.60A190.40,190.40 0 0 0 165.47,94.20Z" fill="#a8000f" fill-opacity="1.00"/>
<path d="M184.38,118.26A219.04,219.04 0 0 1 184.03,118.79L159.97,103.26A190.40,190.40 0 0 0 160.27,102.80Z" fill="#a8000f" fill-opacity="1.00"/>
<path d="M187.71,112.90A219.04,219.04 0 0 1 187.44,113.34L162.93,98.53A190.40,190.40 0 0 0 163.17,98.14Z" fill="#a8000f" fill-opacity="1.00"/>
<path d="M183.23,120.02A219.04,219.04 0 0 1 182.94,120.47L159.02,104.72A190.40,190.40 0 0 0 159.28,104.33Z" fill="#a8000f" fill-opacity="1.00"/>
<path d="M180.95,123.44A219.04,219.04 0 0 1 179.43,125.64L155.97,109.21A190.40,190.40 0 0 0 157.29,107.30Z" fill="#d632e0" fill-opacity="0.6"/>
<path d="M175.85,130.60A219.04,219.04 0 0 1 169.26,139.03L147.13,120.86A190.40,190.40 0 0 0 152.86,113.52Z" fill="#999999" fill-opacity="1"/>
<path d="M158.89,150.78A219.04,219.04 0 0 1 152.43,157.30L132.50,136.73A190.40,190.40 0 0 0 138.11,131.07Z" fill="#999999" fill-opacity="0.9"/>
<path d="M135.76,171.90A219.04,219.04 0 0 1 115.43,186.16L100.33,161.82A190.40,190.40 0 0 0 118.01,149.42Z" fill="#999999" fill-opacity="0.44"/>
<path d="M134.56,172.84A219.04,219.04 0 0 1 133.93,173.33L116.42,150.67A190.40,190.40 0 0 0 116.97,150.24Z" fill="#999999" fill-opacity="0.80"/>
<path d="M128.06,177.71A219.04,219.04 0 0 1 127.69,177.97L110.99,154.71A190.40,190.40 0 0 0 111.32,154.47Z" fill="#999999" fill-opacity="0.80"/>
<path d="M123.37,180.99A219.04,219.04 0 0 1 122.71,181.45L106.66,157.72A190.40,190.40 0 0 0 107.24,157.33Z" fill="#999999" fill-opacity="0.80"/>
<path d="M132.60,174.35A219.04,219.04 0 0 1 132.24,174.62L114.95,151.79A190.40,190.40 0 0 0 115.26,151.55Z" fill="#999999" fill-opacity="0.80"/>
<path d="M127.93,177.80A219.04,219.04 0 0 1 127.18,178.34L110.56,155.02A190.40,190.40 0 0 0 111.20,154.56Z" fill="#999999" fill-opacity="0.80"/>
<path d="M129.83,176.42A219.04,219.04 0 0 1 129.34,176.78L112.43,153.66A190.40,190.40 0 0 0 112.85,153.36Z" fill="#999999" fill-opacity="0.80"/>
<path d="M129.86,176.40A219.04,219.04 0 0 1 128.97,177.05L112.10,153.90A190.40,190.40 0 0 0 112.88,153.33Z" fill="#999999" fill-opacity="0.80"/>
<path d="M128.92,177.09A219.04,219.04 0 0 1 128.26,177.56L111.49,154.35A190.40,190.40 0 0 0 112.06,153.93Z" fill="#999999" fill-opacity="0.80"/>
<path d="M118.79,184.03A219.04,219.04 0 0 1 118.20,184.41L102.75,160.30A190.40,190.40 0 0 0 103.26,159.97Z" fill="#999999" fill-opacity="0.80"/>
<path d="M128.89,177.11A219.04,219.04 0 0 1 127.96,177.78L111.23,154.54A190.40,190.40 0 0 0 112.04,153.95Z" fill="#999999" fill-opacity="0.80"/>
<path d="M121.44,182.30A219.04,219.04 0 0 1 120.99,182.59L105.17,158.72A190.40,190.40 0 0 0 105.56,158.46Z" fill="#999999" fill-opacity="0.80"/>
<path d="M135.65,171.99A219.04,219.04 0 0 1 135.22,172.32L117.54,149.79A190.40,190.40 0 0 0 117.91,149.50Z" fill="#999999" fill-opacity="0.80"/>
<path d="M127.71,177.96A219.04,219.04 0 0 1 126.84,178.58L110.25,155.23A190.40,190.40 0 0 0 111.01,154.69Z" fill="#999999" fill-opacity="0.80"/>
<path d="M108.19,190.46A219.04,219.04 0 0 1 98.08,195.86L85.26,170.25A190.40,190.40 0 0 0 94.05,165.56Z" fill="#9ff81b" fill-opacity="0.47"/>
<path d="M104.48,192.52A219.04,219.04 0 0 1 103.59,193.00L90.05,167.77A190.40,190.40 0 0 0 90.82,167.35Z" fill="#9ff81b" fill-opacity="0.85"/>
<path d="M104.00,192.78A219.04,219.04 0 0 1 103.06,193.28L89.59,168.01A190.40,190.40 0 0 0 90.40,167.58Z" fill="#9ff81b" fill-opacity="0.85"/>
<path d="M108.05,190.54A219.04,219.04 0 0 1 107.61,190.79L93.54,165.84A190.40,190.40 0 0 0 93.93,165.63Z" fill="#9ff81b" fill-opacity="0.85"/>
<path d="M102.20,193.74A219.04,219.04 0 0 1 101.49,194.11L88.22,168.73A190.40,190.40 0 0 0 88.84,168.41Z" fill="#9ff81b" fill-opacity="0.85"/>
<path d="M107.39,190.91A219.04,219.04 0 0 1 106.45,191.44L92.53,166.41A190.40,190.40 0 0 0 93.35,165.95Z" fill="#9ff81b" fill-opacity="0.85"/>
<path d="M104.76,192.37A219.04,219.04 0 0 1 104.00,192.78L90.40,167.57A190.40,190.40 0 0 0 91.06,167.22Z" fill="#9ff81b" fill-opacity="0.85"/>
<path d="M84.53,202.07A219.04,219.04 0 0 1 81.35,203.38L70.71,176.79A190.40,190.40 0 0 0 73.48,175.65Z" fill="#9ff81b" fill-opacity="0.07"/>
<path d="M84.19,202.22A219.04,219.04 0 0 1 83.35,202.56L72.46,176.08A190.40,190.40 0 0 0 73.18,175.78Z" fill="#9ff81b" fill-opacity="0.17"/>
<path d="M82.37,202.96A219.04,219.04 0 0 1 81.52,203.31L70.86,176.73A190.40,190.40 0 0 0 71.60,176.43Z" fill="#9ff81b" fill-opacity="0.14"/>
<path d="M70.23,207.48A219.04,219.04 0 0 1 58.17,211.18L50.56,183.57A190.40,190.40 0 0 0 61.05,180.35Z" fill="#9ff81b" fill-opacity="1"/>
<path d="M50.76,213.08A219.04,219.04 0 0 1 36.91,215.91L32.08,187.68A190.40,190.40 0 0 0 44.13,185.22Z" fill="#037f03" fill-opacity="0.47"/>
<path d="M40.22,215.32A219.04,219.04 0 0 1 39.48,215.45L34.32,187.29A190.40,190.40 0 0 0 34.97,187.17Z" fill="#037f03" fill-opacity="0.85"/>
<path d="M48.26,213.66A219.04,219.04 0 0 1 47.16,213.90L41.00,185.94A190.40,190.40 0 0 0 41.95,185.73Z" fill="#037f03" fill-opacity="0.85"/>
<path d="M38.14,215.70A219.04,219.04 0 0 1 37.67,215.78L32.75,187.57A190.40,190.40 0 0 0 33.16,187.49Z" fill="#037f03" fill-opacity="0.85"/>
<path d="M44.63,214.45A219.04,219.04 0 0 1 43.52,214.67L37.83,186.61A190.40,190.40 0 0 0 38.79,186.41Z" fill="#037f03" fill-opacity="0.85"/>
<path d="M38.32,215.66A219.04,219.04 0 0 1 37.90,215.74L32.95,187.53A190.40,190.40 0 0 0 33.31,187.47Z" fill="#037f03" fill-opacity="0.85"/>
<path d="M38.85,215.57A219.04,219.04 0 0 1 38.18,215.69L33.19,187.49A190.40,190.40 0 0 0 33.77,187.39Z" fill="#037f03" fill-opacity="0.85"/>
<path d="M40.04,215.35A219.04,219.04 0 0 1 39.20,215.51L34.08,187.33A190.40,190.40 0 0 0 34.81,187.20Z" fill="#037f03" fill-opacity="0.85"/>
<path d="M30.86,216.86A219.04,219.04 0 0 1 27.07,217.36L23.53,188.94A190.40,190.40 0 0 0 26.83,188.50Z" fill="#037f03" fill-opacity="0.07"/>
<path d="M28.35,217.20A219.04,219.04 0 0 1 27.76,217.28L24.13,188.87A190.40,190.40 0 0 0 24.65,188.80Z" fill="#037f03" fill-opacity="0.16"/>
<path d="M28.34,217.20A219.04,219.04 0 0 1 27.53,217.30L23.93,188.89A190.40,190.40 0 0 0 24.64,188.80Z" fill="#037f03" fill-opacity="0.25"/>
<path d="M17.57,218.34A219.04,219.04 0 0 1 2.29,219.03L1.99,190.39A190.40,190.40 0 0 0 15.27,189.79Z" fill="#037f03" fill-opacity="1"/>
<path d="M-4.59,218.99A219.04,219.04 0 0 1 -14.14,218.59L-12.29,190.01A190.40,190.40 0 0 0 -3.99,190.36Z" fill="#e6fb50" fill-opacity="1"/>
<path d="M-18.33,218.27A219.04,219.04 0 0 1 -22.14,217.92L-19.24,189.43A190.40,190.40 0 0 0 -15.93,189.74Z" fill="#e6fb50" fill-opacity="0.10"/>
<path d="M-19.03,218.21A219.04,219.04 0 0 1 -19.64,218.16L-17.07,189.64A190.40,190.40 0 0 0 -16.54,189.68Z" fill="#e6fb50" fill-opacity="0.28"/>
<path d="M-19.44,218.18A219.04,219.04 0 0 1 -20.35,218.09L-17.69,189.58A190.40,190.40 0 0 0 -16.90,189.65Z" fill="#e6fb50" fill-opacity="0.21"/>
<path d="M-42.55,214.87A219.04,219.04 0 0 1 -54.84,212.06L-47.67,184.34A190.40,190.40 0 0 0 -36.98,186.78Z" fill="#e6fb50" fill-opacity="0.50"/>
<path d="M-51.07,213.00A219.04,219.04 0 0 1 -51.63,212.87L-44.88,185.04A190.40,190.40 0 0 0 -44.40,185.16Z" fill="#e6fb50" fill-opacity="0.90"/>
<path d="M-43.01,214.78A219.04,219.04 0 0 1 -44.06,214.57L-38.30,186.51A190.40,190.40 0 0 0 -37.39,186.70Z" fill="#e6fb50" fill-opacity="0.90"/>
<path d="M-51.28,212.96A219.04,219.04 0 0 1 -52.07,212.76L-45.26,184.95A190.40,190.40 0 0 0 -44.57,185.11Z" fill="#e6fb50" fill-opacity="0.90"/>
<path d="M-52.53,212.65A219.04,219.04 0 0 1 -52.93,212.55L-46.01,184.76A190.40,190.40 0 0 0 -45.66,184.85Z" fill="#e6fb50" fill-opacity="0.90"/>
<path d="M-49.66,213.34A219.04,219.04 0 0 1 -50.12,213.23L-43.57,185.35A190.40,190.40 0 0 0 -43.17,185.45Z" fill="#e6fb50" fill-opacity="0.90"/>
<path d="M-49.79,213.31A219.04,219.04 0 0 1 -50.57,213.13L-43.96,185.26A190.40,190.40 0 0 0 -43.28,185.42Z" fill="#e6fb50" fill-opacity="0.90"/>
<path d="M-64.77,209.25A219.04,219.04 0 0 1 -75.99,205.44L-66.06,178.58A190.40,190.40 0 0 0 -56.30,181.89Z" fill="#e8e3b8" fill-opacity="0.9"/>
<path d="M-101.48,194.12A219.04,219.04 0 0 1 -109.19,189.89L-94.91,165.06A190.40,190.40 0 0 0 -88.21,168.74Z" fill="#e8e3b8" fill-opacity="0.6"/>
<path d="M-119.94,183.29A219.04,219.04 0 0 1 -121.85,182.02L-105.92,158.22A190.40,190.40 0 0 0 -104.26,159.32Z" fill="#30b3f5" fill-opacity="0.14"/>
<path d="M-120.49,182.93A219.04,219.04 0 0 1 -121.10,182.52L-105.26,158.66A190.40,190.40 0 0 0 -104.74,159.01Z" fill="#30b3f5" fill-opacity="0.43"/>
<path d="M-120.74,182.76A219.04,219.04 0 0 1 -121.44,182.30L-105.56,158.46A190.40,190.40 0 0 0 -104.96,158.86Z" fill="#30b3f5" fill-opacity="0.38"/>
<path d="M-136.06,171.66A219.04,219.04 0 0 1 -150.50,159.15L-130.82,138.34A190.40,190.40 0 0 0 -118.27,149.22Z" fill="#30b3f5" fill-opacity="1"/>
<path d="M-157.57,152.16A219.04,219.04 0 0 1 -163.29,146.00L-141.94,126.91A190.40,190.40 0 0 0 -136.97,132.27Z" fill="#f99e2b" fill-opacity="0.50"/>
<path d="M-157.69,152.03A219.04,219.04 0 0 1 -158.19,151.51L-137.51,131.70A190.40,190.40 0 0 0 -137.07,132.15Z" fill="#f99e2b" fill-opacity="0.90"/>
<path d="M-160.11,149.48A219.04,219.04 0 0 1 -160.69,148.85L-139.69,129.39A190.40,190.40 0 0 0 -139.18,129.93Z" fill="#f99e2b" fill-opacity="0.90"/>
<path d="M-161.67,147.79A219.04,219.04 0 0 1 -162.05,147.38L-140.86,128.11A190.40,190.40 0 0 0 -140.53,128.47Z" fill="#f99e2b" fill-opacity="0.90"/>
<path d="M-159.91,149.69A219.04,219.04 0 0 1 -160.58,148.98L-139.59,129.50A190.40,190.40 0 0 0 -139.01,130.12Z" fill="#f99e2b" fill-opacity="0.90"/>
<path d="M-174.47,132.43A219.04,219.04 0 0 1 -178.33,127.20L-155.01,110.57A190.40,190.40 0 0 0 -151.66,115.12Z" fill="#f99e2b" fill-opacity="0.10"/>
<path d="M-176.14,130.20A219.04,219.04 0 0 1 -176.51,129.71L-153.43,112.75A190.40,190.40 0 0 0 -153.11,113.18Z" fill="#f99e2b" fill-opacity="0.21"/>
<path d="M-176.00,130.39A219.04,219.04 0 0 1 -176.34,129.93L-153.29,112.94A190.40,190.40 0 0 0 -152.99,113.34Z" fill="#f99e2b" fill-opacity="0.20"/>
<path d="M-185.35,116.72A219.04,219.04 0 0 1 -186.21,115.34L-161.87,100.26A190.40,190.40 0 0 0 -161.12,101.46Z" fill="#f99e2b" fill-opacity="0.35"/>
<path d="M-186.11,115.51A219.04,219.04 0 0 1 -186.96,114.12L-162.52,99.20A190.40,190.40 0 0 0 -161.78,100.41Z" fill="#f99e2b" fill-opacity="0.44"/>
<path d="M-186.86,114.29A219.04,219.04 0 0 1 -187.71,112.90L-163.17,98.14A190.40,190.40 0 0 0 -162.43,99.34Z" fill="#f99e2b" fill-opacity="0.54"/>
<path d="M-187.61,113.06A219.04,219.04 0 0 1 -188.44,111.67L-163.80,97.07A190.40,190.40 0 0 0 -163.08,98.28Z" fill="#f99e2b" fill-opacity="0.63"/>
<path d="M-188.34,111.83A219.04,219.04 0 0 1 -189.17,110.43L-164.44,95.99A190.40,190.40 0 0 0 -163.72,97.21Z" fill="#f99e2b" fill-opacity="0.72"/>
<path d="M-189.07,110.60A219.04,219.04 0 0 1 -189.89,109.19L-165.06,94.91A190.40,190.40 0 0 0 -164.35,96.14Z" fill="#f99e2b" fill-opacity="0.81"/>
<path d="M-189.79,109.36A219.04,219.04 0 0 1 -190.60,107.94L-165.68,93.83A190.40,190.40 0 0 0 -164.98,95.06Z" fill="#f99e2b" fill-opacity="0.91"/>
<path d="M-190.50,108.11A219.04,219.04 0 0 1 -191.30,106.69L-166.29,92.75A190.40,190.40 0 0 0 -165.60,93.98Z" fill="#f99e2b" fill-opacity="1.00"/>
<path d="M-195.34,99.10A219.04,219.04 0 0 1 -196.85,96.06L-171.12,83.50A190.40,190.40 0 0 0 -169.80,86.15Z" fill="#5b3fab" fill-opacity="1.00"/>
<path d="M-196.77,96.24A219.04,219.04 0 0 1 -198.24,93.18L-172.32,80.99A190.40,190.40 0 0 0 -171.04,83.65Z" fill="#5b3fab" fill-opacity="0.91"/>
<path d="M-198.15,93.35A219.04,219.04 0 0 1 -199.58,90.27L-173.48,78.47A190.40,190.40 0 0 0 -172.25,81.15Z" fill="#5b3fab" fill-opacity="0.81"/>
<path d="M-199.50,90.44A219.04,219.04 0 0 1 -200.87,87.34L-174.61,75.92A190.40,190.40 0 0 0 -173.41,78.62Z" fill="#5b3fab" fill-opacity="0.72"/>
<path d="M-200.80,87.52A219.04,219.04 0 0 1 -202.13,84.40L-175.70,73.36A190.40,190.40 0 0 0 -174.55,76.08Z" fill="#5b3fab" fill-opacity="0.63"/>
<path d="M-202.06,84.57A219.04,219.04 0 0 1 -203.34,81.43L-176.76,70.79A190.40,190.40 0 0 0 -175.64,73.52Z" fill="#5b3fab" fill-opacity="0.54"/>
<path d="M-203.27,81.61A219.04,219.04 0 0 1 -204.51,78.45L-177.77,68.20A190.40,190.40 0 0 0 -176.69,70.94Z" fill="#5b3fab" fill-opacity="0.44"/>
<path d="M-204.44,78.63A219.04,219.04 0 0 1 -205.64,75.46L-178.75,65.59A190.40,190.40 0 0 0 -177.71,68.35Z" fill="#5b3fab" fill-opacity="0.35"/>
<path d="M-213.34,49.65A219.04,219.04 0 0 1 -214.80,42.92L-186.71,37.31A190.40,190.40 0 0 0 -185.45,43.16Z" fill="#5b3fab" fill-opacity="0.44"/>
<path d="M-214.03,46.58A219.04,219.04 0 0 1 -214.18,45.88L-186.18,39.88A190.40,190.40 0 0 0 -186.05,40.49Z" fill="#5b3fab" fill-opacity="0.80"/>
<path d="M-214.24,45.63A219.04,219.04 0 0 1 -214.32,45.22L-186.30,39.31A190.40,190.40 0 0 0 -186.23,39.66Z" fill="#5b3fab" fill-opacity="0.80"/>
<path d="M-214.36,45.04A219.04,219.04 0 0 1 -214.45,44.60L-186.42,38.77A190.40,190.40 0 0 0 -186.34,39.15Z" fill="#5b3fab" fill-opacity="0.80"/>
<path d="M-216.22,35.02A219.04,219.04 0 0 1 -217.07,29.35L-188.69,25.51A190.40,190.40 0 0 0 -187.95,30.44Z" fill="#05645f" fill-opacity="1"/>
<path d="M-218.80,10.32A219.04,219.04 0 0 1 -218.03,-20.99L-189.53,-18.25A190.40,190.40 0 0 0 -190.19,8.97Z" fill="#05645f" fill-opacity="0.28"/>
<path d="M-218.98,-5.21A219.04,219.04 0 0 1 -218.95,-6.19L-190.33,-5.38A190.40,190.40 0 0 0 -190.35,-4.53Z" fill="#05645f" fill-opacity="0.50"/>
<path d="M-218.98,-5.26A219.04,219.04 0 0 1 -218.97,-5.68L-190.34,-4.94A190.40,190.40 0 0 0 -190.35,-4.57Z" fill="#05645f" fill-opacity="0.50"/>
<path d="M-218.23,-18.82A219.04,219.04 0 0 1 -218.17,-19.49L-189.65,-16.94A190.40,190.40 0 0 0 -189.70,-16.36Z" fill="#05645f" fill-opacity="0.50"/>
<path d="M-218.45,-16.11A219.04,219.04 0 0 1 -218.41,-16.60L-189.86,-14.43A190.40,190.40 0 0 0 -189.89,-14.01Z" fill="#05645f" fill-opacity="0.50"/>
<path d="M-218.72,-11.78A219.04,219.04 0 0 1 -218.66,-12.93L-190.07,-11.24A190.40,190.40 0 0 0 -190.13,-10.24Z" fill="#05645f" fill-opacity="0.50"/>
<path d="M-219.00,4.44A219.04,219.04 0 0 1 -219.02,3.44L-190.38,2.99A190.40,190.40 0 0 0 -190.36,3.86Z" fill="#05645f" fill-opacity="0.50"/>
<path d="M-218.99,-4.54A219.04,219.04 0 0 1 -218.97,-5.67L-190.34,-4.93A190.40,190.40 0 0 0 -190.36,-3.95Z" fill="#05645f" fill-opacity="0.50"/>
<path d="M-218.35,-17.36A219.04,219.04 0 0 1 -218.26,-18.47L-189.73,-16.05A190.40,190.40 0 0 0 -189.81,-15.09Z" fill="#05645f" fill-opacity="0.50"/>
<path d="M-218.60,-13.98A219.04,219.04 0 0 1 -218.56,-14.49L-189.99,-12.60A190.40,190.40 0 0 0 -190.02,-12.15Z" fill="#05645f" fill-opacity="0.50"/>
<path d="M-218.88,8.34A219.04,219.04 0 0 1 -218.92,7.24L-190.30,6.30A190.40,190.40 0 0 0 -190.27,7.25Z" fill="#05645f" fill-opacity="0.50"/>
<path d="M-218.66,-12.88A219.04,219.04 0 0 1 -218.62,-13.53L-190.04,-11.76A190.40,190.40 0 0 0 -190.07,-11.20Z" fill="#05645f" fill-opacity="0.50"/>
<path d="M-218.36,-17.31A219.04,219.04 0 0 1 -218.32,-17.82L-189.77,-15.49A190.40,190.40 0 0 0 -189.81,-15.05Z" fill="#05645f" fill-opacity="0.50"/>
<path d="M-218.54,-14.75A219.04,219.04 0 0 1 -218.50,-15.34L-189.94,-13.34A190.40,190.40 0 0 0 -189.97,-12.82Z" fill="#05645f" fill-opacity="0.50"/>
<path d="M-218.98,-5.17A219.04,219.04 0 0 1 -218.97,-5.67L-190.34,-4.93A190.40,190.40 0 0 0 -190.35,-4.50Z" fill="#05645f" fill-opacity="0.50"/>
<path d="M-219.01,4.02A219.04,219.04 0 0 1 -219.02,2.93L-190.39,2.55A190.40,190.40 0 0 0 -190.37,3.49Z" fill="#05645f" fill-opacity="0.50"/>
<path d="M-218.98,-5.24A219.04,219.04 0 0 1 -218.96,-5.83L-190.34,-5.07A190.40,190.40 0 0 0 -190.35,-4.56Z" fill="#05645f" fill-opacity="0.50"/>
<path d="M-218.03,-20.99A219.04,219.04 0 0 1 -216.40,-33.89L-188.11,-29.46A190.40,190.40 0 0 0 -189.53,-18.25Z" fill="#05645f" fill-opacity="1"/>
<path d="M-215.30,-40.29A219.04,219.04 0 0 1 -211.18,-58.17L-183.57,-50.56A190.40,190.40 0 0 0 -187.15,-35.03Z" fill="#722a31" fill-opacity="1"/>
<path d="M-204.63,-78.14A219.04,219.04 0 0 1 -199.48,-90.49L-173.40,-78.66A190.40,190.40 0 0 0 -177.88,-67.92Z" fill="#722a31" fill-opacity="0.9"/>
<path d="M-195.69,-98.42A219.04,219.04 0 0 1 -181.81,-122.17L-158.04,-106.20A190.40,190.40 0 0 0 -170.10,-85.55Z" fill="#773290" fill-opacity="0.44"/>
<path d="M-195.24,-99.30A219.04,219.04 0 0 1 -194.95,-99.86L-169.47,-86.81A190.40,190.40 0 0 0 -169.71,-86.32Z" fill="#773290" fill-opacity="0.80"/>
<path d="M-193.69,-102.29A219.04,219.04 0 0 1 -193.45,-102.75L-168.16,-89.32A190.40,190.40 0 0 0 -168.37,-88.92Z" fill="#773290" fill-opacity="0.80"/>
<path d="M-186.97,-114.12A219.04,219.04 0 0 1 -186.39,-115.05L-162.02,-100.01A190.40,190.40 0 0 0 -162.52,-99.20Z" fill="#773290" fill-opacity="0.80"/>
<path d="M-193.64,-102.39A219.04,219.04 0 0 1 -193.14,-103.33L-167.89,-89.82A190.40,190.40 0 0 0 -168.32,-89.00Z" fill="#773290" fill-opacity="0.80"/>
<path d="M-194.29,-101.14A219.04,219.04 0 0 1 -193.84,-102.01L-168.50,-88.67A190.40,190.40 0 0 0 -168.89,-87.92Z" fill="#773290" fill-opacity="0.80"/>
<path d="M-187.46,-113.31A219.04,219.04 0 0 1 -187.05,-113.98L-162.59,-99.08A190.40,190.40 0 0 0 -162.95,-98.49Z" fill="#773290" fill-opacity="0.80"/>
<path d="M-184.05,-118.77A219.04,219.04 0 0 1 -183.69,-119.32L-159.67,-103.72A190.40,190.40 0 0 0 -159.98,-103.24Z" fill="#773290" fill-opacity="0.80"/>
<path d="M-188.24,-112.01A219.04,219.04 0 0 1 -187.82,-112.70L-163.27,-97.97A190.40,190.40 0 0 0 -163.63,-97.36Z" fill="#773290" fill-opacity="0.80"/>
<path d="M-194.43,-100.89A219.04,219.04 0 0 1 -193.94,-101.82L-168.58,-88.51A190.40,190.40 0 0 0 -169.01,-87.70Z" fill="#773290" fill-opacity="0.80"/>
<path d="M-187.66,-112.97A219.04,219.04 0 0 1 -187.07,-113.94L-162.61,-99.05A190.40,190.40 0 0 0 -163.13,-98.20Z" fill="#773290" fill-opacity="0.80"/>
<path d="M-185.15,-117.05A219.04,219.04 0 0 1 -184.78,-117.62L-160.62,-102.25A190.40,190.40 0 0 0 -160.94,-101.74Z" fill="#773290" fill-opacity="0.80"/>
<path d="M-182.28,-121.47A219.04,219.04 0 0 1 -181.95,-121.96L-158.16,-106.01A190.40,190.40 0 0 0 -158.44,-105.59Z" fill="#773290" fill-opacity="0.80"/>
<path d="M-191.18,-106.92A219.04,219.04 0 0 1 -190.77,-107.63L-165.83,-93.56A190.40,190.40 0 0 0 -166.18,-92.94Z" fill="#773290" fill-opacity="0.80"/>
<path d="M-190.13,-108.77A219.04,219.04 0 0 1 -189.65,-109.61L-164.85,-95.28A190.40,190.40 0 0 0 -165.27,-94.55Z" fill="#773290" fill-opacity="0.80"/>
<path d="M-175.16,-131.52A219.04,219.04 0 0 1 -170.47,-137.55L-148.18,-119.57A190.40,190.40 0 0 0 -152.26,-114.32Z" fill="#773290" fill-opacity="0.14"/>
<path d="M-171.98,-135.66A219.04,219.04 0 0 1 -171.59,-136.14L-149.16,-118.34A190.40,190.40 0 0 0 -149.49,-117.92Z" fill="#773290" fill-opacity="0.26"/>
<path d="M-174.17,-132.83A219.04,219.04 0 0 1 -173.46,-133.76L-150.78,-116.27A190.40,190.40 0 0 0 -151.40,-115.46Z" fill="#773290" fill-opacity="0.44"/>
<path d="M-172.92,-134.46A219.04,219.04 0 0 1 -172.10,-135.50L-149.60,-117.79A190.40,190.40 0 0 0 -150.31,-116.88Z" fill="#773290" fill-opacity="0.45"/>
<path d="M-162.27,-147.14A219.04,219.04 0 0 1 -154.62,-155.16L-134.40,-134.87A190.40,190.40 0 0 0 -141.05,-127.90Z" fill="#773290" fill-opacity="1"/>
<path d="M-147.70,-161.75A219.04,219.04 0 0 1 -143.99,-165.06L-125.17,-143.48A190.40,190.40 0 0 0 -128.39,-140.60Z" fill="#fde2e2" fill-opacity="1"/>
<path d="M-114.45,-186.76A219.04,219.04 0 0 1 -100.80,-194.47L-87.62,-169.04A190.40,190.40 0 0 0 -99.49,-162.35Z" fill="#f9dcc6" fill-opacity="0.8"/>
<path d="M-91.53,-199.00A219.04,219.04 0 0 1 -82.76,-202.80L-71.94,-176.29A190.40,190.40 0 0 0 -79.56,-172.98Z" fill="#8b84f8" fill-opacity="1"/>
<path d="M-66.96,-208.56A219.04,219.04 0 0 1 -58.54,-211.08L-50.88,-183.48A190.40,190.40 0 0 0 -58.21,-181.29Z" fill="#8b84f8" fill-opacity="0.14"/>
<path d="M-66.95,-208.56A219.04,219.04 0 0 1 -66.25,-208.78L-57.59,-181.49A190.40,190.40 0 0 0 -58.19,-181.29Z" fill="#8b84f8" fill-opacity="0.25"/>
<path d="M-62.13,-210.05A219.04,219.04 0 0 1 -61.57,-210.21L-53.52,-182.73A190.40,190.40 0 0 0 -54.01,-182.58Z" fill="#8b84f8" fill-opacity="0.38"/>
<path d="M-60.20,-210.61A219.04,219.04 0 0 1 -59.33,-210.85L-51.57,-183.29A190.40,190.40 0 0 0 -52.33,-183.07Z" fill="#8b84f8" fill-opacity="0.28"/>
<path d="M-49.65,-213.34A219.04,219.04 0 0 1 -33.51,-216.46L-29.13,-188.16A190.40,190.40 0 0 0 -43.16,-185.45Z" fill="#8b84f8" fill-opacity="1"/>
<path d="M21.91,-164.18A165.64,165.64 0 0 1 31.60,-162.59L26.21,-134.86A137.38,137.38 0 0 0 18.17,-136.18Z" fill="#3fd6d4" fill-opacity="1"/>
<path d="M36.70,-161.52A165.64,165.64 0 0 1 47.04,-158.82L39.02,-131.73A137.38,137.38 0 0 0 30.44,-133.97Z" fill="#3fd6d4" fill-opacity="0.07"/>
<path d="M43.16,-159.91A165.64,165.64 0 0 1 43.64,-159.78L36.20,-132.53A137.38,137.38 0 0 0 35.80,-132.64Z" fill="#3fd6d4" fill-opacity="0.12"/>
<path d="M40.27,-160.67A165.64,165.64 0 0 1 40.61,-160.58L33.68,-133.19A137.38,137.38 0 0 0 33.40,-133.26Z" fill="#3fd6d4" fill-opacity="0.14"/>
<path d="M38.90,-161.00A165.64,165.64 0 0 1 39.47,-160.86L32.74,-133.43A137.38,137.38 0 0 0 32.27,-133.54Z" fill="#3fd6d4" fill-opacity="0.21"/>
<path d="M38.68,-161.06A165.64,165.64 0 0 1 39.39,-160.88L32.67,-133.44A137.38,137.38 0 0 0 32.08,-133.59Z" fill="#3fd6d4" fill-opacity="0.22"/>
<path d="M38.01,-161.21A165.64,165.64 0 0 1 38.66,-161.06L32.06,-133.59A137.38,137.38 0 0 0 31.53,-133.72Z" fill="#3fd6d4" fill-opacity="0.27"/>
<path d="M38.18,-161.18A165.64,165.64 0 0 1 38.67,-161.06L32.08,-133.59A137.38,137.38 0 0 0 31.67,-133.69Z" fill="#3fd6d4" fill-opacity="0.14"/>
<path d="M56.92,-155.55A165.64,165.64 0 0 1 62.05,-153.58L51.47,-127.38A137.38,137.38 0 0 0 47.21,-129.02Z" fill="#3fd6d4" fill-opacity="0.17"/>
<path d="M60.77,-154.09A165.64,165.64 0 0 1 61.48,-153.80L51.00,-127.57A137.38,137.38 0 0 0 50.40,-127.81Z" fill="#3fd6d4" fill-opacity="0.61"/>
<path d="M58.13,-155.10A165.64,165.64 0 0 1 58.71,-154.88L48.69,-128.47A137.38,137.38 0 0 0 48.22,-128.65Z" fill="#3fd6d4" fill-opacity="0.30"/>
<path d="M59.41,-154.62A165.64,165.64 0 0 1 60.13,-154.34L49.87,-128.01A137.38,137.38 0 0 0 49.27,-128.24Z" fill="#3fd6d4" fill-opacity="0.44"/>
<path d="M62.05,-153.58A165.64,165.64 0 0 1 74.68,-147.84L61.94,-122.63A137.38,137.38 0 0 0 51.47,-127.38Z" fill="#3fd6d4" fill-opacity="1"/>
<path d="M86.54,-141.23A165.64,165.64 0 0 1 90.21,-138.91L74.83,-115.22A137.38,137.38 0 0 0 71.78,-117.14Z" fill="#e070f0" fill-opacity="1"/>
<path d="M90.21,-138.91A165.64,165.64 0 0 1 100.83,-131.41L83.63,-108.99A137.38,137.38 0 0 0 74.83,-115.22Z" fill="#773290" fill-opacity="1"/>
<path d="M103.11,-129.63A165.64,165.64 0 0 1 109.75,-124.05L91.03,-102.90A137.38,137.38 0 0 0 85.52,-107.52Z" fill="#f9e93b" fill-opacity="0.8"/>
<path d="M112.96,-121.14A165.64,165.64 0 0 1 125.95,-107.57L104.47,-89.22A137.38,137.38 0 0 0 93.70,-100.48Z" fill="#f9e93b" fill-opacity="0.07"/>
<path d="M118.68,-115.55A165.64,165.64 0 0 1 119.22,-114.99L98.88,-95.38A137.38,137.38 0 0 0 98.43,-95.84Z" fill="#f9e93b" fill-opacity="0.27"/>
<path d="M116.19,-118.05A165.64,165.64 0 0 1 116.78,-117.46L96.86,-97.43A137.38,137.38 0 0 0 96.37,-97.92Z" fill="#f9e93b" fill-opacity="0.26"/>
<path d="M119.92,-114.26A165.64,165.64 0 0 1 120.18,-113.98L99.68,-94.54A137.38,137.38 0 0 0 99.47,-94.77Z" fill="#f9e93b" fill-opacity="0.18"/>
<path d="M113.74,-120.41A165.64,165.64 0 0 1 114.11,-120.06L94.65,-99.58A137.38,137.38 0 0 0 94.34,-99.87Z" fill="#f9e93b" fill-opacity="0.24"/>
<path d="M120.17,-113.99A165.64,165.64 0 0 1 120.42,-113.73L99.88,-94.33A137.38,137.38 0 0 0 99.68,-94.55Z" fill="#f9e93b" fill-opacity="0.27"/>
<path d="M115.61,-118.61A165.64,165.64 0 0 1 115.93,-118.30L96.16,-98.13A137.38,137.38 0 0 0 95.89,-98.38Z" fill="#f9e93b" fill-opacity="0.22"/>
<path d="M121.17,-112.92A165.64,165.64 0 0 1 121.64,-112.42L100.89,-93.25A137.38,137.38 0 0 0 100.51,-93.66Z" fill="#f9e93b" fill-opacity="0.25"/>
<path d="M117.04,-117.20A165.64,165.64 0 0 1 117.37,-116.87L97.35,-96.94A137.38,137.38 0 0 0 97.08,-97.21Z" fill="#f9e93b" fill-opacity="0.17"/>
<path d="M124.37,-109.40A165.64,165.64 0 0 1 124.62,-109.11L103.36,-90.50A137.38,137.38 0 0 0 103.16,-90.74Z" fill="#f9e93b" fill-opacity="0.25"/>
<path d="M113.05,-121.06A165.64,165.64 0 0 1 113.65,-120.50L94.26,-99.95A137.38,137.38 0 0 0 93.77,-100.41Z" fill="#f9e93b" fill-opacity="0.26"/>
<path d="M127.81,-105.36A165.64,165.64 0 0 1 134.85,-96.19L111.85,-79.78A137.38,137.38 0 0 0 106.01,-87.39Z" fill="#f9e93b" fill-opacity="1"/>
<path d="M136.50,-93.82A165.64,165.64 0 0 1 139.23,-89.73L115.48,-74.42A137.38,137.38 0 0 0 113.22,-77.82Z" fill="#f99e2b" fill-opacity="1"/>
<path d="M139.23,-89.73A165.64,165.64 0 0 1 140.77,-87.28L116.76,-72.40A137.38,137.38 0 0 0 115.48,-74.42Z" fill="#773290" fill-opacity="0.8"/>
<path d="M140.77,-87.28A165.64,165.64 0 0 1 144.45,-81.06L119.81,-67.23A137.38,137.38 0 0 0 116.76,-72.40Z" fill="#f5132b" fill-opacity="0.12"/>
<path d="M142.32,-84.74A165.64,165.64 0 0 1 142.74,-84.02L118.40,-69.69A137.38,137.38 0 0 0 118.04,-70.29Z" fill="#f5132b" fill-opacity="0.42"/>
<path d="M141.55,-86.02A165.64,165.64 0 0 1 141.89,-85.46L117.69,-70.89A137.38,137.38 0 0 0 117.41,-71.34Z" fill="#f5132b" fill-opacity="0.24"/>
<path d="M140.91,-87.06A165.64,165.64 0 0 1 141.17,-86.63L117.09,-71.86A137.38,137.38 0 0 0 116.88,-72.21Z" fill="#f5132b" fill-opacity="0.30"/>
<path d="M143.06,-83.48A165.64,165.64 0 0 1 143.48,-82.75L119.01,-68.64A137.38,137.38 0 0 0 118.66,-69.24Z" fill="#f5132b" fill-opacity="0.45"/>
<path d="M155.84,-56.11A165.64,165.64 0 0 1 156.61,-53.93L129.90,-44.73A137.38,137.38 0 0 0 129.26,-46.54Z" fill="#8b84f8" fill-opacity="1"/>
<path d="M156.61,-53.93A165.64,165.64 0 0 1 157.80,-50.36L130.88,-41.77A137.38,137.38 0 0 0 129.90,-44.73Z" fill="#f5132b" fill-opacity="1"/>
<path d="M159.77,-43.71A165.64,165.64 0 0 1 161.58,-36.41L134.02,-30.20A137.38,137.38 0 0 0 132.52,-36.25Z" fill="#fdfb55" fill-opacity="0.9"/>
<path d="M163.17,-28.48A165.64,165.64 0 0 1 164.40,-20.19L136.36,-16.74A137.38,137.38 0 0 0 135.34,-23.62Z" fill="#fdfb55" fill-opacity="0.07"/>
<path d="M163.50,-26.49A165.64,165.64 0 0 1 163.63,-25.68L135.72,-21.30A137.38,137.38 0 0 0 135.62,-21.97Z" fill="#fdfb55" fill-opacity="0.21"/>
<path d="M164.11,-22.44A165.64,165.64 0 0 1 164.19,-21.81L136.19,-18.09A137.38,137.38 0 0 0 136.12,-18.61Z" fill="#fdfb55" fill-opacity="0.20"/>
<path d="M163.96,-23.49A165.64,165.64 0 0 1 164.03,-22.98L136.06,-19.06A137.38,137.38 0 0 0 136.00,-19.49Z" fill="#fdfb55" fill-opacity="0.27"/>
<path d="M164.22,-21.61A165.64,165.64 0 0 1 164.28,-21.13L136.26,-17.52A137.38,137.38 0 0 0 136.21,-17.93Z" fill="#fdfb55" fill-opacity="0.12"/>
<path d="M165.49,-6.94A165.64,165.64 0 0 1 165.54,5.49L137.31,4.56A137.38,137.38 0 0 0 137.26,-5.75Z" fill="#fdfb55" fill-opacity="1"/>
<path d="M165.31,10.40A165.64,165.64 0 0 1 162.97,29.62L135.17,24.56A137.38,137.38 0 0 0 137.11,8.63Z" fill="#000000" fill-opacity="1"/>
<path d="M162.97,29.62A165.64,165.64 0 0 1 162.02,34.44L134.38,28.56A137.38,137.38 0 0 0 135.17,24.56Z" fill="#999999" fill-opacity="0.33"/>
<path d="M162.77,30.66A165.64,165.64 0 0 1 162.69,31.09L134.94,25.78A137.38,137.38 0 0 0 135.01,25.43Z" fill="#999999" fill-opacity="0.60"/>
<path d="M162.21,33.51A165.64,165.64 0 0 1 162.06,34.21L134.42,28.38A137.38,137.38 0 0 0 134.54,27.79Z" fill="#999999" fill-opacity="0.60"/>
<path d="M162.72,30.96A165.64,165.64 0 0 1 162.58,31.67L134.85,26.27A137.38,137.38 0 0 0 134.96,25.68Z" fill="#999999" fill-opacity="0.60"/>
<path d="M160.36,41.47A165.64,165.64 0 0 1 158.57,47.87L131.52,39.71A137.38,137.38 0 0 0 133.01,34.40Z" fill="#999999" fill-opacity="0.39"/>
<path d="M159.87,43.33A165.64,165.64 0 0 1 159.66,44.10L132.43,36.58A137.38,137.38 0 0 0 132.60,35.94Z" fill="#999999" fill-opacity="0.70"/>
<path d="M158.85,46.91A165.64,165.64 0 0 1 158.73,47.32L131.66,39.25A137.38,137.38 0 0 0 131.76,38.91Z" fill="#999999" fill-opacity="0.70"/>
<path d="M159.27,45.48A165.64,165.64 0 0 1 159.09,46.11L131.95,38.24A137.38,137.38 0 0 0 132.10,37.72Z" fill="#999999" fill-opacity="0.70"/>
<path d="M158.80,47.11A165.64,165.64 0 0 1 158.60,47.75L131.55,39.61A137.38,137.38 0 0 0 131.71,39.07Z" fill="#999999" fill-opacity="0.70"/>
<path d="M156.98,52.83A165.64,165.64 0 0 1 155.05,58.28L128.60,48.34A137.38,137.38 0 0 0 130.21,43.82Z" fill="#000000" fill-opacity="1"/>
<path d="M143.01,83.57A165.64,165.64 0 0 1 139.07,89.97L115.35,74.62A137.38,137.38 0 0 0 118.62,69.31Z" fill="#a8000f" fill-opacity="1"/>
<path d="M139.07,89.97A165.64,165.64 0 0 1 136.50,93.82L113.22,77.82A137.38,137.38 0 0 0 115.35,74.62Z" fill="#999999" fill-opacity="0.9"/>
<path d="M133.83,97.59A165.64,165.64 0 0 1 128.18,104.91L106.31,87.02A137.38,137.38 0 0 0 111.01,80.95Z" fill="#999999" fill-opacity="1"/>
<path d="M121.14,112.96A165.64,165.64 0 0 1 115.68,118.54L95.95,98.33A137.38,137.38 0 0 0 100.48,93.70Z" fill="#999999" fill-opacity="0.9"/>
<path d="M101.98,130.52A165.64,165.64 0 0 1 90.21,138.91L74.83,115.22A137.38,137.38 0 0 0 84.58,108.26Z" fill="#037f03" fill-opacity="0.55"/>
<path d="M92.54,137.38A165.64,165.64 0 0 1 92.07,137.69L76.37,114.20A137.38,137.38 0 0 0 76.75,113.95Z" fill="#037f03" fill-opacity="1.00"/>
<path d="M92.43,137.45A165.64,165.64 0 0 1 91.85,137.84L76.18,114.33A137.38,137.38 0 0 0 76.66,114.01Z" fill="#037f03" fill-opacity="1.00"/>
<path d="M93.85,136.48A165.64,165.64 0 0 1 93.40,136.79L77.47,113.46A137.38,137.38 0 0 0 77.84,113.21Z" fill="#037f03" fill-opacity="1.00"/>
<path d="M98.59,133.10A165.64,165.64 0 0 1 98.09,133.47L81.36,110.70A137.38,137.38 0 0 0 81.77,110.40Z" fill="#037f03" fill-opacity="1.00"/>
<path d="M94.95,135.72A165.64,165.64 0 0 1 94.61,135.96L78.47,112.77A137.38,137.38 0 0 0 78.75,112.57Z" fill="#037f03" fill-opacity="1.00"/>
<path d="M91.54,138.04A165.64,165.64 0 0 1 91.27,138.22L75.70,114.65A137.38,137.38 0 0 0 75.93,114.50Z" fill="#037f03" fill-opacity="1.00"/>
<path d="M101.68,130.76A165.64,165.64 0 0 1 101.38,130.98L84.09,108.64A137.38,137.38 0 0 0 84.33,108.45Z" fill="#037f03" fill-opacity="1.00"/>
<path d="M91.34,138.17A165.64,165.64 0 0 1 91.05,138.37L75.52,114.77A137.38,137.38 0 0 0 75.76,114.61Z" fill="#037f03" fill-opacity="1.00"/>
<path d="M100.41,131.73A165.64,165.64 0 0 1 100.02,132.03L82.96,109.51A137.38,137.38 0 0 0 83.28,109.26Z" fill="#037f03" fill-opacity="1.00"/>
<path d="M101.51,130.88A165.64,165.64 0 0 1 101.27,131.07L84.00,108.72A137.38,137.38 0 0 0 84.20,108.56Z" fill="#037f03" fill-opacity="1.00"/>
<path d="M90.21,138.91A165.64,165.64 0 0 1 88.02,140.31L73.01,116.38A137.38,137.38 0 0 0 74.83,115.22Z" fill="#d632e0" fill-opacity="1"/>
<path d="M81.81,144.02A165.64,165.64 0 0 1 75.97,147.19L63.01,122.08A137.38,137.38 0 0 0 67.86,119.46Z" fill="#9ff81b" fill-opacity="1"/>
<path d="M72.61,148.87A165.64,165.64 0 0 1 67.37,151.32L55.88,125.51A137.38,137.38 0 0 0 60.23,123.48Z" fill="#9ff81b" fill-opacity="0.10"/>
<path d="M69.76,150.23A165.64,165.64 0 0 1 69.03,150.57L57.26,124.89A137.38,137.38 0 0 0 57.86,124.60Z" fill="#9ff81b" fill-opacity="0.35"/>
<path d="M72.32,149.01A165.64,165.64 0 0 1 71.56,149.38L59.36,123.90A137.38,137.38 0 0 0 59.98,123.60Z" fill="#9ff81b" fill-opacity="0.32"/>
<path d="M68.77,150.68A165.64,165.64 0 0 1 68.23,150.93L56.60,125.19A137.38,137.38 0 0 0 57.04,124.98Z" fill="#9ff81b" fill-opacity="0.38"/>
<path d="M61.78,153.68A165.64,165.64 0 0 1 59.63,154.53L49.46,128.17A137.38,137.38 0 0 0 51.24,127.47Z" fill="#9ff81b" fill-opacity="0.10"/>
<path d="M61.70,153.72A165.64,165.64 0 0 1 60.82,154.06L50.45,127.79A137.38,137.38 0 0 0 51.17,127.50Z" fill="#9ff81b" fill-opacity="0.39"/>
<path d="M60.59,154.16A165.64,165.64 0 0 1 59.70,154.50L49.52,128.15A137.38,137.38 0 0 0 50.25,127.86Z" fill="#9ff81b" fill-opacity="0.21"/>
<path d="M50.63,157.71A165.64,165.64 0 0 1 43.43,159.84L36.02,132.58A137.38,137.38 0 0 0 42.00,130.81Z" fill="#5b3fab" fill-opacity="1"/>
<path d="M38.39,161.13A165.64,165.64 0 0 1 35.85,161.71L29.74,134.13A137.38,137.38 0 0 0 31.84,133.64Z" fill="#d632e0" fill-opacity="1"/>
<path d="M35.85,161.71A165.64,165.64 0 0 1 28.76,163.12L23.86,135.30A137.38,137.38 0 0 0 29.74,134.13Z" fill="#037f03" fill-opacity="0.24"/>
<path d="M35.11,161.87A165.64,165.64 0 0 1 34.64,161.97L28.73,134.35A137.38,137.38 0 0 0 29.12,134.26Z" fill="#037f03" fill-opacity="0.44"/>
<path d="M30.83,162.74A165.64,165.64 0 0 1 29.93,162.91L24.83,135.12A137.38,137.38 0 0 0 25.57,134.98Z" fill="#037f03" fill-opacity="0.78"/>
<path d="M31.94,162.53A165.64,165.64 0 0 1 31.06,162.70L25.76,134.95A137.38,137.38 0 0 0 26.49,134.81Z" fill="#037f03" fill-opacity="0.58"/>
<path d="M35.20,161.85A165.64,165.64 0 0 1 34.79,161.94L28.86,134.32A137.38,137.38 0 0 0 29.20,134.25Z" fill="#037f03" fill-opacity="0.84"/>
<path d="M21.62,164.22A165.64,165.64 0 0 1 15.88,164.87L13.17,136.75A137.38,137.38 0 0 0 17.93,136.21Z" fill="#037f03" fill-opacity="0.07"/>
<path d="M19.94,164.43A165.64,165.64 0 0 1 19.46,164.49L16.14,136.43A137.38,137.38 0 0 0 16.54,136.39Z" fill="#037f03" fill-opacity="0.19"/>
<path d="M20.24,164.39A165.64,165.64 0 0 1 19.88,164.44L16.49,136.39A137.38,137.38 0 0 0 16.79,136.36Z" fill="#037f03" fill-opacity="0.17"/>
<path d="M19.81,164.45A165.64,165.64 0 0 1 18.99,164.54L15.75,136.48A137.38,137.38 0 0 0 16.43,136.40Z" fill="#037f03" fill-opacity="0.17"/>
<path d="M12.42,165.17A165.64,165.64 0 0 1 2.31,165.62L1.92,137.37A137.38,137.38 0 0 0 10.30,137.00Z" fill="#a8000f" fill-opacity="1"/>
<path d="M-3.47,165.60A165.64,165.64 0 0 1 -11.27,165.25L-9.34,137.07A137.38,137.38 0 0 0 -2.88,137.35Z" fill="#e6fb50" fill-opacity="1"/>
<path d="M-14.44,165.01A165.64,165.64 0 0 1 -18.18,164.64L-15.08,136.56A137.38,137.38 0 0 0 -11.97,136.86Z" fill="#e6fb50" fill-opacity="0.10"/>
<path d="M-15.83,164.88A165.64,165.64 0 0 1 -16.81,164.78L-13.94,136.68A137.38,137.38 0 0 0 -13.13,136.76Z" fill="#e6fb50" fill-opacity="0.38"/>
<path d="M-14.53,165.00A165.64,165.64 0 0 1 -15.28,164.93L-12.68,136.80A137.38,137.38 0 0 0 -12.05,136.86Z" fill="#e6fb50" fill-opacity="0.28"/>
<path d="M-32.17,162.48A165.64,165.64 0 0 1 -41.19,160.43L-34.17,133.07A137.38,137.38 0 0 0 -26.68,134.77Z" fill="#e6fb50" fill-opacity="0.50"/>
<path d="M-38.75,161.04A165.64,165.64 0 0 1 -39.27,160.91L-32.58,133.47A137.38,137.38 0 0 0 -32.14,133.57Z" fill="#e6fb50" fill-opacity="0.90"/>
<path d="M-38.20,161.17A165.64,165.64 0 0 1 -38.68,161.06L-32.08,133.59A137.38,137.38 0 0 0 -31.69,133.68Z" fill="#e6fb50" fill-opacity="0.90"/>
<path d="M-34.01,162.11A165.64,165.64 0 0 1 -34.60,161.98L-28.69,134.35A137.38,137.38 0 0 0 -28.21,134.46Z" fill="#e6fb50" fill-opacity="0.90"/>
<path d="M-32.93,162.33A165.64,165.64 0 0 1 -33.70,162.17L-27.95,134.51A137.38,137.38 0 0 0 -27.31,134.64Z" fill="#e6fb50" fill-opacity="0.90"/>
<path d="M-33.59,162.19A165.64,165.64 0 0 1 -34.34,162.04L-28.48,134.40A137.38,137.38 0 0 0 -27.86,134.53Z" fill="#e6fb50" fill-opacity="0.90"/>
<path d="M-33.95,162.12A165.64,165.64 0 0 1 -34.23,162.06L-28.39,134.42A137.38,137.38 0 0 0 -28.16,134.47Z" fill="#e6fb50" fill-opacity="0.90"/>
<path d="M-49.26,158.14A165.64,165.64 0 0 1 -57.47,155.35L-47.66,128.85A137.38,137.38 0 0 0 -40.85,131.17Z" fill="#e8e3b8" fill-opacity="0.9"/>
<path d="M-79.03,145.56A165.64,165.64 0 0 1 -82.07,143.88L-68.07,119.34A137.38,137.38 0 0 0 -65.55,120.74Z" fill="#e8e3b8" fill-opacity="0.14"/>
<path d="M-81.27,144.33A165.64,165.64 0 0 1 -82.02,143.91L-68.03,119.36A137.38,137.38 0 0 0 -67.41,119.71Z" fill="#e8e3b8" fill-opacity="0.24"/>
<path d="M-80.24,144.90A165.64,165.64 0 0 1 -80.83,144.58L-67.04,119.92A137.38,137.38 0 0 0 -66.55,120.19Z" fill="#e8e3b8" fill-opacity="0.49"/>
<path d="M-90.94,138.44A165.64,165.64 0 0 1 -98.29,133.32L-81.53,110.58A137.38,137.38 0 0 0 -75.43,114.83Z" fill="#30b3f5" fill-opacity="0.10"/>
<path d="M-94.42,136.09A165.64,165.64 0 0 1 -94.80,135.82L-78.63,112.66A137.38,137.38 0 0 0 -78.31,112.88Z" fill="#30b3f5" fill-opacity="0.26"/>
<path d="M-92.69,137.28A165.64,165.64 0 0 1 -93.43,136.77L-77.50,113.44A137.38,137.38 0 0 0 -76.88,113.86Z" fill="#30b3f5" fill-opacity="0.41"/>
<path d="M-92.44,137.44A165.64,165.64 0 0 1 -92.89,137.14L-77.05,113.75A137.38,137.38 0 0 0 -76.68,114.00Z" fill="#30b3f5" fill-opacity="0.35"/>
<path d="M-91.70,137.94A165.64,165.64 0 0 1 -92.26,137.56L-76.53,114.10A137.38,137.38 0 0 0 -76.06,114.41Z" fill="#30b3f5" fill-opacity="0.33"/>
<path d="M-96.50,134.62A165.64,165.64 0 0 1 -96.82,134.39L-80.31,111.47A137.38,137.38 0 0 0 -80.04,111.66Z" fill="#30b3f5" fill-opacity="0.35"/>
<path d="M-101.52,130.88A165.64,165.64 0 0 1 -113.39,120.74L-94.05,100.15A137.38,137.38 0 0 0 -84.20,108.56Z" fill="#30b3f5" fill-opacity="1"/>
<path d="M-117.73,116.51A165.64,165.64 0 0 1 -124.63,109.10L-103.37,90.49A137.38,137.38 0 0 0 -97.65,96.64Z" fill="#f99e2b" fill-opacity="1"/>
<path d="M-142.13,85.06A165.64,165.64 0 0 1 -145.01,80.05L-120.28,66.40A137.38,137.38 0 0 0 -117.89,70.55Z" fill="#f99e2b" fill-opacity="1"/>
<path d="M-147.84,74.68A165.64,165.64 0 0 1 -150.12,70.00L-124.51,58.06A137.38,137.38 0 0 0 -122.63,61.94Z" fill="#9ff81b" fill-opacity="1"/>
<path d="M-150.12,70.00A165.64,165.64 0 0 1 -154.94,58.55L-128.52,48.56A137.38,137.38 0 0 0 -124.51,58.06Z" fill="#5b3fab" fill-opacity="0.50"/>
<path d="M-153.07,63.28A165.64,165.64 0 0 1 -153.35,62.60L-127.20,51.92A137.38,137.38 0 0 0 -126.96,52.49Z" fill="#5b3fab" fill-opacity="0.90"/>
<path d="M-152.08,65.63A165.64,165.64 0 0 1 -152.27,65.18L-126.30,54.06A137.38,137.38 0 0 0 -126.14,54.44Z" fill="#5b3fab" fill-opacity="0.90"/>
<path d="M-154.29,60.25A165.64,165.64 0 0 1 -154.48,59.77L-128.13,49.57A137.38,137.38 0 0 0 -127.97,49.97Z" fill="#5b3fab" fill-opacity="0.90"/>
<path d="M-154.34,60.12A165.64,165.64 0 0 1 -154.46,59.81L-128.12,49.61A137.38,137.38 0 0 0 -128.01,49.87Z" fill="#5b3fab" fill-opacity="0.90"/>
<path d="M-151.16,67.73A165.64,165.64 0 0 1 -151.28,67.45L-125.48,55.95A137.38,137.38 0 0 0 -125.38,56.18Z" fill="#5b3fab" fill-opacity="0.90"/>
<path d="M-154.36,60.07A165.64,165.64 0 0 1 -154.52,59.65L-128.17,49.48A137.38,137.38 0 0 0 -128.03,49.82Z" fill="#5b3fab" fill-opacity="0.90"/>
<path d="M-151.96,65.90A165.64,165.64 0 0 1 -152.19,65.37L-126.23,54.22A137.38,137.38 0 0 0 -126.04,54.66Z" fill="#5b3fab" fill-opacity="0.90"/>
<path d="M-151.25,67.53A165.64,165.64 0 0 1 -151.57,66.80L-125.72,55.40A137.38,137.38 0 0 0 -125.45,56.01Z" fill="#5b3fab" fill-opacity="0.90"/>
<path d="M-160.92,39.23A165.64,165.64 0 0 1 -162.43,32.46L-134.72,26.92A137.38,137.38 0 0 0 -133.48,32.54Z" fill="#5b3fab" fill-opacity="1"/>
<path d="M-163.46,26.77A165.64,165.64 0 0 1 -164.14,22.19L-136.15,18.41A137.38,137.38 0 0 0 -135.58,22.20Z" fill="#05645f" fill-opacity="1"/>
<path d="M-165.52,6.07A165.64,165.64 0 0 1 -164.87,-15.88L-136.75,-13.17A137.38,137.38 0 0 0 -137.29,5.03Z" fill="#05645f" fill-opacity="0.28"/>
<path d="M-165.55,-5.31A165.64,165.64 0 0 1 -165.53,-5.87L-137.30,-4.87A137.38,137.38 0 0 0 -137.31,-4.41Z" fill="#05645f" fill-opacity="0.50"/>
<path d="M-165.34,-9.92A165.64,165.64 0 0 1 -165.29,-10.64L-137.10,-8.83A137.38,137.38 0 0 0 -137.14,-8.23Z" fill="#05645f" fill-opacity="0.50"/>
<path d="M-165.63,-1.35A165.64,165.64 0 0 1 -165.62,-2.02L-137.37,-1.67A137.38,137.38 0 0 0 -137.38,-1.12Z" fill="#05645f" fill-opacity="0.50"/>
<path d="M-165.61,2.73A165.64,165.64 0 0 1 -165.62,2.25L-137.37,1.87A137.38,137.38 0 0 0 -137.37,2.27Z" fill="#05645f" fill-opacity="0.50"/>
<path d="M-165.44,-7.96A165.64,165.64 0 0 1 -165.41,-8.73L-137.19,-7.24A137.38,137.38 0 0 0 -137.23,-6.60Z" fill="#05645f" fill-opacity="0.50"/>
<path d="M-165.62,2.47A165.64,165.64 0 0 1 -165.63,1.75L-137.38,1.45A137.38,137.38 0 0 0 -137.37,2.05Z" fill="#05645f" fill-opacity="0.50"/>
<path d="M-165.30,-10.50A165.64,165.64 0 0 1 -165.27,-11.04L-137.08,-9.15A137.38,137.38 0 0 0 -137.11,-8.71Z" fill="#05645f" fill-opacity="0.50"/>
<path d="M-165.60,3.38A165.64,165.64 0 0 1 -165.61,2.76L-137.37,2.29A137.38,137.38 0 0 0 -137.36,2.80Z" fill="#05645f" fill-opacity="0.50"/>
<path d="M-165.14,-12.87A165.64,165.64 0 0 1 -165.09,-13.43L-136.93,-11.14A137.38,137.38 0 0 0 -136.97,-10.68Z" fill="#05645f" fill-opacity="0.50"/>
<path d="M-165.62,1.94A165.64,165.64 0 0 1 -165.63,1.52L-137.38,1.26A137.38,137.38 0 0 0 -137.38,1.61Z" fill="#05645f" fill-opacity="0.50"/>
<path d="M-165.39,-9.05A165.64,165.64 0 0 1 -165.36,-9.51L-137.16,-7.89A137.38,137.38 0 0 0 -137.18,-7.50Z" fill="#05645f" fill-opacity="0.50"/>
<path d="M-165.61,2.79A165.64,165.64 0 0 1 -165.62,2.02L-137.37,1.67A137.38,137.38 0 0 0 -137.37,2.32Z" fill="#05645f" fill-opacity="0.50"/>
<path d="M-165.63,0.73A165.64,165.64 0 0 1 -165.64,0.35L-137.38,0.29A137.38,137.38 0 0 0 -137.38,0.60Z" fill="#05645f" fill-opacity="0.50"/>
<path d="M-165.56,-5.15A165.64,165.64 0 0 1 -165.54,-5.63L-137.31,-4.67A137.38,137.38 0 0 0 -137.32,-4.27Z" fill="#05645f" fill-opacity="0.50"/>
<path d="M-165.63,-1.01A165.64,165.64 0 0 1 -165.63,-1.39L-137.38,-1.16A137.38,137.38 0 0 0 -137.38,-0.84Z" fill="#05645f" fill-opacity="0.50"/>
<path d="M-164.87,-15.88A165.64,165.64 0 0 1 -163.60,-25.91L-135.69,-21.49A137.38,137.38 0 0 0 -136.75,-13.17Z" fill="#05645f" fill-opacity="1"/>
<path d="M-162.81,-30.47A165.64,165.64 0 0 1 -160.58,-40.63L-133.19,-33.70A137.38,137.38 0 0 0 -135.04,-25.27Z" fill="#722a31" fill-opacity="1"/>
<path d="M-159.22,-45.66A165.64,165.64 0 0 1 -157.97,-49.81L-131.03,-41.31A137.38,137.38 0 0 0 -132.06,-37.87Z" fill="#722a31" fill-opacity="0.10"/>
<path d="M-158.14,-49.26A165.64,165.64 0 0 1 -158.00,-49.72L-131.05,-41.24A137.38,137.38 0 0 0 -131.17,-40.86Z" fill="#722a31" fill-opacity="0.35"/>
<path d="M-158.14,-49.27A165.64,165.64 0 0 1 -158.01,-49.67L-131.06,-41.20A137.38,137.38 0 0 0 -131.17,-40.87Z" fill="#722a31" fill-opacity="0.20"/>
<path d="M-154.11,-60.71A165.64,165.64 0 0 1 -151.20,-67.63L-125.41,-56.10A137.38,137.38 0 0 0 -127.83,-50.35Z" fill="#722a31" fill-opacity="1"/>
<path d="M-147.84,-74.68A165.64,165.64 0 0 1 -146.97,-76.39L-121.90,-63.36A137.38,137.38 0 0 0 -122.63,-61.94Z" fill="#e070f0" fill-opacity="0.35"/>
<path d="M-147.04,-76.26A165.64,165.64 0 0 1 -146.15,-77.95L-121.22,-64.66A137.38,137.38 0 0 0 -121.96,-63.25Z" fill="#e070f0" fill-opacity="0.44"/>
<path d="M-146.21,-77.83A165.64,165.64 0 0 1 -145.30,-79.51L-120.52,-65.95A137.38,137.38 0 0 0 -121.28,-64.55Z" fill="#e070f0" fill-opacity="0.54"/>
<path d="M-145.37,-79.38A165.64,165.64 0 0 1 -144.45,-81.06L-119.81,-67.23A137.38,137.38 0 0 0 -120.58,-65.84Z" fill="#e070f0" fill-opacity="0.63"/>
<path d="M-144.52,-80.93A165.64,165.64 0 0 1 -143.57,-82.60L-119.08,-68.51A137.38,137.38 0 0 0 -119.87,-67.13Z" fill="#e070f0" fill-opacity="0.72"/>
<path d="M-143.64,-82.47A165.64,165.64 0 0 1 -142.68,-84.13L-118.34,-69.78A137.38,137.38 0 0 0 -119.14,-68.41Z" fill="#e070f0" fill-opacity="0.81"/>
<path d="M-142.75,-84.00A165.64,165.64 0 0 1 -141.77,-85.65L-117.59,-71.04A137.38,137.38 0 0 0 -118.41,-69.68Z" fill="#e070f0" fill-opacity="0.91"/>
<path d="M-141.85,-85.53A165.64,165.64 0 0 1 -140.85,-87.16L-116.83,-72.29A137.38,137.38 0 0 0 -117.65,-70.94Z" fill="#e070f0" fill-opacity="1.00"/>
<path d="M-135.35,-95.48A165.64,165.64 0 0 1 -133.15,-98.52L-110.44,-81.72A137.38,137.38 0 0 0 -112.26,-79.19Z" fill="#773290" fill-opacity="0.10"/>
<path d="M-133.54,-98.00A165.64,165.64 0 0 1 -133.18,-98.48L-110.46,-81.69A137.38,137.38 0 0 0 -110.76,-81.28Z" fill="#773290" fill-opacity="0.37"/>
<path d="M-134.61,-96.51A165.64,165.64 0 0 1 -134.12,-97.19L-111.25,-80.61A137.38,137.38 0 0 0 -111.65,-80.05Z" fill="#773290" fill-opacity="0.23"/>
<path d="M-125.20,-108.45A165.64,165.64 0 0 1 -117.12,-117.12L-97.15,-97.15A137.38,137.38 0 0 0 -103.84,-89.95Z" fill="#773290" fill-opacity="1"/>
<path d="M-112.54,-121.53A165.64,165.64 0 0 1 -105.58,-127.62L-87.57,-105.86A137.38,137.38 0 0 0 -93.35,-100.80Z" fill="#f5132b" fill-opacity="1"/>
<path d="M-100.14,-131.93A165.64,165.64 0 0 1 -95.00,-135.68L-78.80,-112.54A137.38,137.38 0 0 0 -83.06,-109.43Z" fill="#f3a0a8" fill-opacity="0.8"/>
<path d="M-86.54,-141.23A165.64,165.64 0 0 1 -76.48,-146.92L-63.44,-121.86A137.38,137.38 0 0 0 -71.78,-117.14Z" fill="#f8dca0" fill-opacity="0.9"/>
<path d="M-67.90,-151.08A165.64,165.64 0 0 1 -60.17,-154.32L-49.91,-128.00A137.38,137.38 0 0 0 -56.32,-125.31Z" fill="#d632e0" fill-opacity="0.50"/>
<path d="M-67.14,-151.42A165.64,165.64 0 0 1 -66.54,-151.68L-55.19,-125.81A137.38,137.38 0 0 0 -55.69,-125.59Z" fill="#d632e0" fill-opacity="0.90"/>
<path d="M-65.06,-152.32A165.64,165.64 0 0 1 -64.69,-152.48L-53.65,-126.48A137.38,137.38 0 0 0 -53.96,-126.34Z" fill="#d632e0" fill-opacity="0.90"/>
<path d="M-64.95,-152.37A165.64,165.64 0 0 1 -64.66,-152.49L-53.63,-126.48A137.38,137.38 0 0 0 -53.87,-126.38Z" fill="#d632e0" fill-opacity="0.90"/>
<path d="M-63.03,-153.17A165.64,165.64 0 0 1 -62.34,-153.46L-51.71,-127.28A137.38,137.38 0 0 0 -52.28,-127.05Z" fill="#d632e0" fill-opacity="0.90"/>
<path d="M-63.37,-153.04A165.64,165.64 0 0 1 -62.83,-153.26L-52.12,-127.12A137.38,137.38 0 0 0 -52.56,-126.93Z" fill="#d632e0" fill-opacity="0.90"/>
<path d="M-45.38,-159.30A165.64,165.64 0 0 1 -43.99,-159.69L-36.48,-132.45A137.38,137.38 0 0 0 -37.64,-132.13Z" fill="#8b84f8" fill-opacity="0.17"/>
<path d="M-45.27,-159.33A165.64,165.64 0 0 1 -44.64,-159.51L-37.03,-132.30A137.38,137.38 0 0 0 -37.55,-132.15Z" fill="#8b84f8" fill-opacity="0.54"/>
<path d="M-44.79,-159.47A165.64,165.64 0 0 1 -44.19,-159.63L-36.66,-132.40A137.38,137.38 0 0 0 -37.15,-132.27Z" fill="#8b84f8" fill-opacity="0.66"/>
<path d="M-38.67,-161.06A165.64,165.64 0 0 1 -27.34,-163.36L-22.68,-135.50A137.38,137.38 0 0 0 -32.07,-133.59Z" fill="#8b84f8" fill-opacity="0.50"/>
<path d="M-32.49,-162.42A165.64,165.64 0 0 1 -31.96,-162.52L-26.51,-134.80A137.38,137.38 0 0 0 -26.95,-134.72Z" fill="#8b84f8" fill-opacity="0.90"/>
<path d="M-34.21,-162.06A165.64,165.64 0 0 1 -33.51,-162.21L-27.79,-134.54A137.38,137.38 0 0 0 -28.38,-134.42Z" fill="#8b84f8" fill-opacity="0.90"/>
<path d="M-30.80,-162.75A165.64,165.64 0 0 1 -30.39,-162.83L-25.20,-135.05A137.38,137.38 0 0 0 -25.55,-134.99Z" fill="#8b84f8" fill-opacity="0.90"/>
<path d="M-30.52,-162.80A165.64,165.64 0 0 1 -29.73,-162.95L-24.66,-135.15A137.38,137.38 0 0 0 -25.31,-135.03Z" fill="#8b84f8" fill-opacity="0.90"/>
<path d="M-29.60,-162.97A165.64,165.64 0 0 1 -28.92,-163.09L-23.99,-135.27A137.38,137.38 0 0 0 -24.55,-135.17Z" fill="#8b84f8" fill-opacity="0.90"/>
<path d="M-31.85,-162.55A165.64,165.64 0 0 1 -31.18,-162.68L-25.86,-134.93A137.38,137.38 0 0 0 -26.41,-134.82Z" fill="#8b84f8" fill-opacity="0.90"/>
<path d="M-35.31,-161.83A165.64,165.64 0 0 1 -34.77,-161.95L-28.84,-134.32A137.38,137.38 0 0 0 -29.29,-134.23Z" fill="#8b84f8" fill-opacity="0.90"/>
<path d="M-37.63,-161.31A165.64,165.64 0 0 1 -36.99,-161.45L-30.68,-133.91A137.38,137.38 0 0 0 -31.21,-133.79Z" fill="#8b84f8" fill-opacity="0.90"/>
</g>
<text x="561" y="38" transform="rotate(20.6 561 38)" text-anchor="middle" dominant-baseline="central" font-size="26">chr01</text>
<text x="648" y="86" transform="rotate(34.6 648 86)" text-anchor="middle" dominant-baseline="central" font-size="26">chr02</text>
<text x="725.5" y="156" transform="rotate(49.4 725.5 156)" text-anchor="middle" dominant-baseline="central" font-size="26">chr03</text>
<text x="787" y="256" transform="rotate(66.1 787 256)" text-anchor="middle" dominant-baseline="central" font-size="26">chr04</text>
<text x="818.7" y="366" transform="rotate(82.5 818.7 366)" text-anchor="middle" dominant-baseline="central" font-size="26">chr05</text>
<text x="821" y="498" transform="rotate(-78.8 821 498)" text-anchor="middle" dominant-baseline="central" font-size="26">chr06</text>
<text x="774.5" y="624" transform="rotate(-59.9 774.5 624)" text-anchor="middle" dominant-baseline="central" font-size="26">chr07</text>
<text x="688.7" y="728.5" transform="rotate(-41.0 688.7 728.5)" text-anchor="middle" dominant-baseline="central" font-size="26">chr08</text>
<text x="586" y="795" transform="rotate(-24.1 586 795)" text-anchor="middle" dominant-baseline="central" font-size="26">chr09</text>
<text x="481" y="826" transform="rotate(-9.0 481 826)" text-anchor="middle" dominant-baseline="central" font-size="26">chr10</text>
<text x="366" y="830" transform="rotate(6.9 366 830)" text-anchor="middle" dominant-baseline="central" font-size="26">chr11</text>
<text x="246" y="795.5" transform="rotate(24.1 246 795.5)" text-anchor="middle" dominant-baseline="central" font-size="26">chr12</text>
<text x="160" y="745" transform="rotate(37.8 160 745)" text-anchor="middle" dominant-baseline="central" font-size="26">chr13</text>
<text x="87" y="668" transform="rotate(52.6 87 668)" text-anchor="middle" dominant-baseline="central" font-size="26">chr14</text>
<text x="30" y="558" transform="rotate(70.0 30 558)" text-anchor="middle" dominant-baseline="central" font-size="26">chr15</text>
<text x="9.8" y="411.4" transform="rotate(271.0 9.8 411.4)" text-anchor="middle" dominant-baseline="central" font-size="26">chr16</text>
<text x="32.5" y="288" transform="rotate(289.0 32.5 288)" text-anchor="middle" dominant-baseline="central" font-size="26">chr17</text>
<text x="80" y="190" transform="rotate(304.5 80 190)" text-anchor="middle" dominant-baseline="central" font-size="26">chr18</text>
<text x="180" y="86" transform="rotate(324.9 180 86)" text-anchor="middle" dominant-baseline="central" font-size="26">chr19</text>
<text x="283.6" y="33" transform="rotate(341.2 283.6 33)" text-anchor="middle" dominant-baseline="central" font-size="26">chr20</text>
<text x="422.5" y="66.7" text-anchor="middle" font-size="26">F</text>
<text x="422.5" y="125" text-anchor="middle" font-size="26">B</text>
<text x="422.5" y="173" text-anchor="middle" font-size="26">C</text>
<text x="422.5" y="227" text-anchor="middle" font-size="26">A</text>
<text x="422.5" y="279" text-anchor="middle" font-size="26">D</text>
<text x="332" y="416.7" font-size="26"><tspan font-style="italic">G. falcata</tspan><tspan dx="15">as</tspan></text>
<text x="412.6" y="448.6" text-anchor="middle" font-size="26">reference</text>
<rect x="969.65" y="23.25" width="158.39999999999998" height="87.7" fill="none" stroke="#1a1a1a" stroke-width="1.6"/>
<rect x="969.65" y="120.32" width="158.39999999999998" height="87.7" fill="none" stroke="#1a1a1a" stroke-width="1.6"/>
<rect x="969.65" y="217.39" width="158.39999999999998" height="87.7" fill="none" stroke="#1a1a1a" stroke-width="1.6"/>
<rect x="969.65" y="314.46" width="158.39999999999998" height="87.7" fill="none" stroke="#1a1a1a" stroke-width="1.6"/>
<rect x="969.65" y="411.53" width="158.39999999999998" height="87.7" fill="none" stroke="#1a1a1a" stroke-width="1.6"/>
<rect x="969.65" y="508.59999999999997" width="158.39999999999998" height="87.7" fill="none" stroke="#1a1a1a" stroke-width="1.6"/>
<rect x="969.65" y="605.67" width="158.39999999999998" height="87.7" fill="none" stroke="#1a1a1a" stroke-width="1.6"/>
<rect x="969.65" y="702.74" width="158.39999999999998" height="87.7" fill="none" stroke="#1a1a1a" stroke-width="1.6"/>
<line x1="1008.4" y1="22.5" x2="1008.4" y2="791.2" stroke="#444" stroke-width="1" stroke-dasharray="4 3"/>
<line x1="1078.4" y1="22.5" x2="1078.4" y2="791.2" stroke="#444" stroke-width="1" stroke-dasharray="4 3"/>
<line x1="976.4" y1="51" x2="996" y2="48.2" stroke="#1010b4" stroke-width="3.2"/>
<line x1="996.5" y1="42.8" x2="1008" y2="44.8" stroke="#1010b4" stroke-width="3.2"/>
<line x1="1008.5" y1="39" x2="1040" y2="42.2" stroke="#d42424" stroke-width="3.2"/>
<line x1="1041.5" y1="44" x2="1069.7" y2="48.7" stroke="#d42424" stroke-width="3.2"/>
<line x1="1071" y1="44" x2="1078.5" y2="43" stroke="#d42424" stroke-width="3.2"/>
<line x1="1078.5" y1="39" x2="1120.7" y2="35.8" stroke="#1010b4" stroke-width="3.2"/>
<line x1="976.4" y1="197" x2="1008.5" y2="194.6" stroke="#1010b4" stroke-width="3.2"/>
<line x1="1008.5" y1="194.6" x2="1078.5" y2="189.2" stroke="#d42424" stroke-width="3.2"/>
<line x1="1078.5" y1="189.2" x2="1120.7" y2="185.9" stroke="#1010b4" stroke-width="3.2"/>
<line x1="976.4" y1="294.3" x2="1008.5" y2="291.5" stroke="#1010b4" stroke-width="3.2"/>
<line x1="1008.5" y1="291.5" x2="1078.5" y2="286" stroke="#d42424" stroke-width="3.2"/>
<line x1="1078.5" y1="286" x2="1120.7" y2="282.5" stroke="#1010b4" stroke-width="3.2"/>
<line x1="976.7" y1="390.8" x2="997.2" y2="387.9" stroke="#1010b4" stroke-width="3.2"/>
<line x1="997.5" y1="382.5" x2="1008.3" y2="383.4" stroke="#1010b4" stroke-width="3.2"/>
<line x1="1009" y1="377.4" x2="1052.8" y2="381.9" stroke="#d42424" stroke-width="3.2"/>
<line x1="1056.1" y1="389.4" x2="1077.5" y2="392.3" stroke="#d42424" stroke-width="3.2"/>
<line x1="1079" y1="377.9" x2="1122" y2="374.1" stroke="#1010b4" stroke-width="3.2"/>
<line x1="976.7" y1="486.9" x2="1008.3" y2="484.2" stroke="#1010b4" stroke-width="2.6" stroke-dasharray="5 1.2 2 1"/>
<line x1="1009" y1="477.5" x2="1078" y2="484.2" stroke="#d42424" stroke-width="2.6" stroke-dasharray="5 1.2 2 1"/>
<line x1="1079" y1="477.5" x2="1119.5" y2="474.2" stroke="#1010b4" stroke-width="2.6" stroke-dasharray="5 1.2 2 1"/>
<line x1="976.7" y1="584.3" x2="1008.3" y2="581.4" stroke="#1010b4" stroke-width="2.6" stroke-dasharray="5 1.2 2 1"/>
<line x1="1009" y1="575.4" x2="1078" y2="581.4" stroke="#d42424" stroke-width="2.6" stroke-dasharray="5 1.2 2 1"/>
<line x1="1079" y1="575.4" x2="1120.9" y2="571.4" stroke="#1010b4" stroke-width="2.6" stroke-dasharray="5 1.2 2 1"/>
<line x1="976.6" y1="680.8" x2="1008.3" y2="677.4" stroke="#1010b4" stroke-width="2.6" stroke-dasharray="5 1.2 2 1"/>
<line x1="1009" y1="671.6" x2="1078" y2="678.1" stroke="#d42424" stroke-width="2.6" stroke-dasharray="5 1.2 2 1"/>
<line x1="1079" y1="671.6" x2="1119.6" y2="668.4" stroke="#1010b4" stroke-width="2.6" stroke-dasharray="5 1.2 2 1"/>
<line x1="976.6" y1="778.6" x2="1008.3" y2="775.1" stroke="#1010b4" stroke-width="2.6" stroke-dasharray="5 1.2 2 1"/>
<line x1="1009" y1="769.4" x2="1078" y2="775.8" stroke="#d42424" stroke-width="2.6" stroke-dasharray="5 1.2 2 1"/>
<line x1="1079" y1="769.4" x2="1120.8" y2="766" stroke="#1010b4" stroke-width="2.6" stroke-dasharray="5 1.2 2 1"/>
<line x1="1046" y1="861" x2="1018.3" y2="808.3" stroke="#000" stroke-width="3"/><path d="M1009.9,792.4L1026.7,806.1L1011.7,814.1Z" fill="#000"/>
<line x1="1081.7" y1="861" x2="1079.7" y2="810.9" stroke="#000" stroke-width="3"/><path d="M1079,792.9L1088.3,812.5L1071.3,813.2Z" fill="#000"/>
<rect x="1007" y="861.3" width="486" height="10.7" rx="2" fill="#70ad47"/>
<rect x="1046" y="861.3" width="35.7" height="10.7" fill="#ed7d31"/>
<text x="912.3" y="853.3" font-size="26" text-anchor="start" >6,523,562</text>
<text x="1085.3" y="854.8" font-size="26" text-anchor="start" >9,910,953 bp</text>
<text x="1122.5" y="904.8" font-size="26"><tspan font-style="italic">Glycine max</tspan> Chr17</text>
<text x="1166.5" y="58.2" font-size="26.4" font-style="italic">Phaseolus vulgaris</text>
<text x="1435" y="58.2" font-size="26.4">(Pv)</text>
<text x="1166.5" y="161.5" font-size="26.4" font-style="italic">Glycine max</text>
<text x="1435" y="161.5" font-size="26.4">(G<tspan font-size="16" dy="-10">m</tspan><tspan dy="10">)</tspan></text>
<text x="1166.5" y="266.3" font-size="26.4" font-style="italic">Glycine soja</text>
<text x="1435" y="266.3" font-size="26.4">(G<tspan font-size="16" dy="-10">s</tspan><tspan dy="10">)</tspan></text>
<text x="1166.5" y="364" font-size="26.4" font-style="italic">Glycine falcate</text>
<text x="1435" y="364" font-size="26.4">(F)</text>
<text x="1166.5" y="463.8" font-size="26.4" font-style="italic">Glycine stenophita</text>
<text x="1435" y="463.8" font-size="26.4">(B)</text>
<text x="1166.5" y="560.5" font-size="26.4" font-style="italic">Glycine cyrtoloba</text>
<text x="1435" y="560.5" font-size="26.4">(C)</text>
<text x="1166.5" y="650.9" font-size="26.4" font-style="italic">Glycine syndetika</text>
<text x="1435" y="650.9" font-size="26.4">(A)</text>
<text x="1166.5" y="752.6" font-size="26.4"><tspan font-style="italic">Glycine tomentella</tspan> D3</text>
<text x="1435" y="752.6" font-size="26.4">(D)</text>
<path d="M33.7,994.0C33.7,1061.25 192.3,1061.25 192.3,1128.5L502,1128.5C502,1061.25 444.5,1061.25 444.5,994.0Z" fill="#dcdcdc" />
<path d="M450,994.0C450,1061.25 509.4,1061.25 509.4,1128.5L808,1128.5C808,1061.25 808.5,1061.25 808.5,994.0Z" fill="#dcdcdc" />
<path d="M63,994.0C63,1061.25 236,1061.25 236,1128.5L239,1128.5C239,1061.25 65.5,1061.25 65.5,994.0Z" fill="#ffffff" />
<path d="M145,994.0C145,1061.25 268,1061.25 268,1128.5L271,1128.5C271,1061.25 148.5,1061.25 148.5,994.0Z" fill="#ffffff" />
<path d="M158.6,994.0C158.6,1061.25 283.5,1061.25 283.5,1128.5L289,1128.5C289,1061.25 164,1061.25 164,994.0Z" fill="#ffffff" />
<path d="M167,994.0C167,1061.25 292,1061.25 292,1128.5L295,1128.5C295,1061.25 170,1061.25 170,994.0Z" fill="#ffffff" />
<path d="M173,994.0C173,1061.25 298,1061.25 298,1128.5L301,1128.5C301,1061.25 176,1061.25 176,994.0Z" fill="#ffffff" />
<path d="M195,994.0C195,1061.25 306,1061.25 306,1128.5L318.6,1128.5C318.6,1061.25 213.4,1061.25 213.4,994.0Z" fill="#ffffff" />
<path d="M351,994.0C351,1061.25 440,1061.25 440,1128.5L442,1128.5C442,1061.25 353,1061.25 353,994.0Z" fill="#ffffff" />
<path d="M370,994.0C370,1061.25 455,1061.25 455,1128.5L457,1128.5C457,1061.25 372,1061.25 372,994.0Z" fill="#ffffff" />
<path d="M386,994.0C386,1061.25 466,1061.25 466,1128.5L468,1128.5C468,1061.25 388,1061.25 388,994.0Z" fill="#ffffff" />
<path d="M400,994.0C400,1061.25 476,1061.25 476,1128.5L478,1128.5C478,1061.25 402,1061.25 402,994.0Z" fill="#ffffff" />
<path d="M415,994.0C415,1061.25 486,1061.25 486,1128.5L488,1128.5C488,1061.25 417,1061.25 417,994.0Z" fill="#ffffff" />
<path d="M443.4,994.0C443.4,1061.25 501.9,1061.25 501.9,1128.5L509.4,1128.5C509.4,1061.25 450,1061.25 450,994.0Z" fill="#ffffff" />
<path d="M510,994.0C510,1061.25 547,1061.25 547,1128.5L551,1128.5C551,1061.25 513.5,1061.25 513.5,994.0Z" fill="#ffffff" />
<path d="M528.6,994.0C528.6,1061.25 558,1061.25 558,1128.5L563,1128.5C563,1061.25 536,1061.25 536,994.0Z" fill="#ffffff" />
<path d="M548,994.0C548,1061.25 568,1061.25 568,1128.5L576,1128.5C576,1061.25 558,1061.25 558,994.0Z" fill="#ffffff" />
<path d="M568.7,994.0C568.7,1061.25 585.4,1061.25 585.4,1128.5L628.9,1128.5C628.9,1061.25 604.6,1061.25 604.6,994.0Z" fill="#ffffff" />
<path d="M676.5,994.0C676.5,1061.25 686,1061.25 686,1128.5L687.5,1128.5C687.5,1061.25 678,1061.25 678,994.0Z" fill="#ffffff" />
<path d="M798.6,994.0C798.6,1061.25 800,1061.25 800,1128.5L804,1128.5C804,1061.25 804,1061.25 804,994.0Z" fill="#ffffff" />
<path d="M528,1009 C560,1022 590,1036 613,1046" stroke="#dcdcdc" stroke-width="2" fill="none"/>
<path d="M30.3,1145.0C30.3,1217.5 30.3,1217.5 30.3,1290.0L251.2,1290.0C251.2,1217.5 209,1217.5 209,1145.0Z" fill="#dcdcdc" />
<path d="M211,1145.0C225,1175 262,1200 288,1214C291,1190 293,1165 294,1145.0Z" fill="#dcdcdc"/>
<path d="M288,1212C268,1240 258,1265 254,1290.0L402,1290.0C390,1262 370,1242 340,1226C320,1218 300,1214 288,1212Z" fill="#dcdcdc"/>
<path d="M305,1222C325,1240 340,1262 346,1290.0L342,1290.0C336,1264 322,1244 303,1226Z" fill="#fff"/>
<path d="M266,1240C262,1255 260,1272 259,1290.0L263,1290.0C264,1272 266,1256 270,1242Z" fill="#fff"/>
<path d="M300,1145.0C312,1165 330,1178 380,1196C405,1204 425,1208 437,1211L457,1145.0Z" fill="#dcdcdc"/>
<path d="M398,1145.0L404,1145.0C420,1170 428,1190 434,1206L431,1206C424,1190 416,1170 398,1145.0Z" fill="#fff"/>
<path d="M437,1208C445,1214 480,1222 510,1231C560,1248 595,1268 604,1290.0L411,1290.0C414,1260 428,1230 437,1208Z" fill="#dcdcdc"/>
<path d="M492,1145.0C488,1175 470,1195 440,1210L446,1212C476,1196 494,1178 502,1145.0Z" fill="#dcdcdc"/>
<path d="M336,1231 C360,1222 390,1212 418,1205" stroke="#dcdcdc" stroke-width="2" fill="none"/>
<path d="M410,1203L607,1231L700,1250L700,1252L607,1234L410,1206Z" fill="#dcdcdc"/>
<path d="M517,1145.0C517,1217.5 596,1217.5 596,1290.0L628,1290.0C628,1217.5 547,1217.5 547,1145.0Z" fill="#dcdcdc" />
<path d="M568,1145.0C568,1217.5 633,1217.5 633,1290.0L667,1290.0C667,1217.5 597,1217.5 597,1145.0Z" fill="#dcdcdc" />
<path d="M601,1145.0C601,1217.5 723,1217.5 723,1290.0L782,1290.0C782,1217.5 647,1217.5 647,1145.0Z" fill="#dcdcdc" />
<path d="M548,1145.0C548,1217.5 690,1217.5 690,1290.0L705,1290.0C705,1217.5 560,1217.5 560,1145.0Z" fill="#dcdcdc" />
<path d="M527,1145.0C527,1217.5 668,1217.5 668,1290.0L671,1290.0C671,1217.5 530,1217.5 530,1145.0Z" fill="#fff" />
<rect x="32" y="977.8" width="413.5" height="16.800000000000068" rx="3" fill="#7b4a06"/>
<rect x="34.0" y="977.8" width="2.2" height="16.800000000000068" fill="#d0280a"/>
<rect x="36.8" y="977.8" width="2.2" height="16.800000000000068" fill="#d0280a"/>
<rect x="39.6" y="977.8" width="2.2" height="16.800000000000068" fill="#d0280a"/>
<rect x="53.6" y="977.8" width="2.2" height="16.800000000000068" fill="#d0280a"/>
<rect x="57.9" y="977.8" width="2.2" height="16.800000000000068" fill="#d0280a"/>
<rect x="84.5" y="977.8" width="2.2" height="16.800000000000068" fill="#d0280a"/>
<rect x="88.7" y="977.8" width="2.2" height="16.800000000000068" fill="#d0280a"/>
<rect x="92.9" y="977.8" width="2.2" height="16.800000000000068" fill="#d0280a"/>
<rect x="95.8" y="977.8" width="2.2" height="16.800000000000068" fill="#d0280a"/>
<rect x="114.0" y="977.8" width="2.2" height="16.800000000000068" fill="#d0280a"/>
<rect x="125.2" y="977.8" width="2.2" height="16.800000000000068" fill="#d0280a"/>
<rect x="137.9" y="977.8" width="2.2" height="16.800000000000068" fill="#d0280a"/>
<rect x="142.1" y="977.8" width="2.2" height="16.800000000000068" fill="#d0280a"/>
<rect x="154.7" y="977.8" width="2.2" height="16.800000000000068" fill="#d0280a"/>
<rect x="158.9" y="977.8" width="2.2" height="16.800000000000068" fill="#d0280a"/>
<rect x="165.9" y="977.8" width="2.2" height="16.800000000000068" fill="#d0280a"/>
<rect x="195.4" y="977.8" width="2.2" height="16.800000000000068" fill="#d0280a"/>
<rect x="208.1" y="977.8" width="2.2" height="16.800000000000068" fill="#d0280a"/>
<rect x="212.3" y="977.8" width="2.2" height="16.800000000000068" fill="#d0280a"/>
<rect x="217.9" y="977.8" width="2.2" height="16.800000000000068" fill="#d0280a"/>
<rect x="238.9" y="977.8" width="2.2" height="16.800000000000068" fill="#d0280a"/>
<rect x="255.8" y="977.8" width="2.2" height="16.800000000000068" fill="#d0280a"/>
<rect x="269.8" y="977.8" width="2.2" height="16.800000000000068" fill="#d0280a"/>
<rect x="279.6" y="977.8" width="2.2" height="16.800000000000068" fill="#d0280a"/>
<rect x="299.3" y="977.8" width="2.2" height="16.800000000000068" fill="#d0280a"/>
<rect x="303.5" y="977.8" width="2.2" height="16.800000000000068" fill="#d0280a"/>
<rect x="309.1" y="977.8" width="2.2" height="16.800000000000068" fill="#d0280a"/>
<rect x="321.8" y="977.8" width="2.2" height="16.800000000000068" fill="#d0280a"/>
<rect x="326.0" y="977.8" width="2.2" height="16.800000000000068" fill="#d0280a"/>
<rect x="330.2" y="977.8" width="2.2" height="16.800000000000068" fill="#d0280a"/>
<rect x="334.4" y="977.8" width="2.2" height="16.800000000000068" fill="#d0280a"/>
<rect x="338.6" y="977.8" width="2.2" height="16.800000000000068" fill="#d0280a"/>
<rect x="362.5" y="977.8" width="2.2" height="16.800000000000068" fill="#d0280a"/>
<rect x="375.1" y="977.8" width="2.2" height="16.800000000000068" fill="#d0280a"/>
<rect x="379.3" y="977.8" width="2.2" height="16.800000000000068" fill="#d0280a"/>
<rect x="394.7" y="977.8" width="2.2" height="16.800000000000068" fill="#d0280a"/>
<rect x="410.2" y="977.8" width="2.2" height="16.800000000000068" fill="#d0280a"/>
<rect x="410.1" y="977.8" width="2.2" height="16.800000000000068" fill="#d0280a"/>
<rect x="435.4" y="977.8" width="2.2" height="16.800000000000068" fill="#d0280a"/>
<rect x="449.3" y="977.8" width="359.2" height="16.800000000000068" rx="3" fill="#7b4a06"/>
<rect x="456.5" y="977.8" width="2.2" height="16.800000000000068" fill="#d0280a"/>
<rect x="463.5" y="977.8" width="2.2" height="16.800000000000068" fill="#d0280a"/>
<rect x="471.9" y="977.8" width="2.2" height="16.800000000000068" fill="#d0280a"/>
<rect x="480.3" y="977.8" width="2.2" height="16.800000000000068" fill="#d0280a"/>
<rect x="488.7" y="977.8" width="2.2" height="16.800000000000068" fill="#d0280a"/>
<rect x="502.8" y="977.8" width="2.2" height="16.800000000000068" fill="#d0280a"/>
<rect x="507.0" y="977.8" width="2.2" height="16.800000000000068" fill="#d0280a"/>
<rect x="511.2" y="977.8" width="2.2" height="16.800000000000068" fill="#d0280a"/>
<rect x="522.4" y="977.8" width="2.2" height="16.800000000000068" fill="#d0280a"/>
<rect x="530.8" y="977.8" width="2.2" height="16.800000000000068" fill="#d0280a"/>
<rect x="539.3" y="977.8" width="2.2" height="16.800000000000068" fill="#d0280a"/>
<rect x="551.9" y="977.8" width="2.2" height="16.800000000000068" fill="#d0280a"/>
<rect x="558.9" y="977.8" width="2.2" height="16.800000000000068" fill="#d0280a"/>
<rect x="567.3" y="977.8" width="2.2" height="16.800000000000068" fill="#d0280a"/>
<rect x="575.8" y="977.8" width="2.2" height="16.800000000000068" fill="#d0280a"/>
<rect x="584.2" y="977.8" width="2.2" height="16.800000000000068" fill="#d0280a"/>
<rect x="592.6" y="977.8" width="2.2" height="16.800000000000068" fill="#d0280a"/>
<rect x="601.0" y="977.8" width="2.2" height="16.800000000000068" fill="#d0280a"/>
<rect x="609.5" y="977.8" width="2.2" height="16.800000000000068" fill="#d0280a"/>
<rect x="623.5" y="977.8" width="2.2" height="16.800000000000068" fill="#d0280a"/>
<rect x="638.9" y="977.8" width="2.2" height="16.800000000000068" fill="#d0280a"/>
<rect x="643.1" y="977.8" width="2.2" height="16.800000000000068" fill="#d0280a"/>
<rect x="653.0" y="977.8" width="2.2" height="16.800000000000068" fill="#d0280a"/>
<rect x="660.0" y="977.8" width="2.2" height="16.800000000000068" fill="#d0280a"/>
<rect x="665.6" y="977.8" width="2.2" height="16.800000000000068" fill="#d0280a"/>
<rect x="685.3" y="977.8" width="2.2" height="16.800000000000068" fill="#d0280a"/>
<rect x="702.1" y="977.8" width="2.2" height="16.800000000000068" fill="#d0280a"/>
<rect x="724.6" y="977.8" width="2.2" height="16.800000000000068" fill="#d0280a"/>
<rect x="738.6" y="977.8" width="2.2" height="16.800000000000068" fill="#d0280a"/>
<rect x="775.1" y="977.8" width="2.2" height="16.800000000000068" fill="#d0280a"/>
<rect x="780.7" y="977.8" width="2.2" height="16.800000000000068" fill="#d0280a"/>
<rect x="30.2" y="1127.9" width="471.8" height="17.699999999999818" rx="3" fill="#e87b2b"/>
<rect x="84.6" y="1127.9" width="2.0" height="17.699999999999818" fill="#f01414"/>
<rect x="87.4" y="1127.9" width="2.0" height="17.699999999999818" fill="#f01414"/>
<rect x="170.3" y="1127.9" width="2.0" height="17.699999999999818" fill="#f01414"/>
<rect x="191.3" y="1127.9" width="2.0" height="17.699999999999818" fill="#f01414"/>
<rect x="227.8" y="1127.9" width="2.0" height="17.699999999999818" fill="#f01414"/>
<rect x="232.0" y="1127.9" width="2.0" height="17.699999999999818" fill="#f01414"/>
<rect x="246.1" y="1127.9" width="2.0" height="17.699999999999818" fill="#f01414"/>
<rect x="250.3" y="1127.9" width="2.0" height="17.699999999999818" fill="#f01414"/>
<rect x="254.5" y="1127.9" width="2.0" height="17.699999999999818" fill="#f01414"/>
<rect x="261.5" y="1127.9" width="2.0" height="17.699999999999818" fill="#f01414"/>
<rect x="265.7" y="1127.9" width="2.0" height="17.699999999999818" fill="#f01414"/>
<rect x="268.5" y="1127.9" width="2.0" height="17.699999999999818" fill="#f01414"/>
<rect x="271.3" y="1127.9" width="2.0" height="17.699999999999818" fill="#f01414"/>
<rect x="289.6" y="1127.9" width="2.0" height="17.699999999999818" fill="#f01414"/>
<rect x="313.4" y="1127.9" width="2.0" height="17.699999999999818" fill="#f01414"/>
<rect x="340.1" y="1127.9" width="2.0" height="17.699999999999818" fill="#f01414"/>
<rect x="390.6" y="1127.9" width="2.0" height="17.699999999999818" fill="#f01414"/>
<rect x="424.3" y="1127.9" width="2.0" height="17.699999999999818" fill="#f01414"/>
<rect x="432.7" y="1127.9" width="2.0" height="17.699999999999818" fill="#f01414"/>
<rect x="436.9" y="1127.9" width="2.0" height="17.699999999999818" fill="#f01414"/>
<rect x="448.1" y="1127.9" width="2.0" height="17.699999999999818" fill="#f01414"/>
<rect x="484.6" y="1127.9" width="2.0" height="17.699999999999818" fill="#f01414"/>
<rect x="486.6" y="1127.9" width="2.0" height="17.699999999999818" fill="#f01414"/>
<rect x="488.6" y="1127.9" width="2.0" height="17.699999999999818" fill="#f01414"/>
<rect x="509.5" y="1127.9" width="298.79999999999995" height="17.699999999999818" rx="3" fill="#e87b2b"/>
<rect x="519.7" y="1127.9" width="2.0" height="17.699999999999818" fill="#f01414"/>
<rect x="547.8" y="1127.9" width="2.0" height="17.699999999999818" fill="#f01414"/>
<rect x="575.9" y="1127.9" width="2.0" height="17.699999999999818" fill="#f01414"/>
<rect x="637.6" y="1127.9" width="2.0" height="17.699999999999818" fill="#f01414"/>
<rect x="648.9" y="1127.9" width="2.0" height="17.699999999999818" fill="#f01414"/>
<rect x="660.1" y="1127.9" width="2.0" height="17.699999999999818" fill="#f01414"/>
<rect x="703.6" y="1127.9" width="2.0" height="17.699999999999818" fill="#f01414"/>
<rect x="724.7" y="1127.9" width="2.0" height="17.699999999999818" fill="#f01414"/>
<rect x="728.9" y="1127.9" width="2.0" height="17.699999999999818" fill="#f01414"/>
<rect x="738.7" y="1127.9" width="2.0" height="17.699999999999818" fill="#f01414"/>
<rect x="30.3" y="1289.6" width="371.3" height="17.600000000000136" rx="3" fill="#3c4fa3"/>
<rect x="50.9" y="1289.6" width="2.0" height="17.600000000000136" fill="#b0204c"/>
<rect x="69.7" y="1289.6" width="2.0" height="17.600000000000136" fill="#b0204c"/>
<rect x="81.8" y="1289.6" width="2.0" height="17.600000000000136" fill="#b0204c"/>
<rect x="104.3" y="1289.6" width="2.0" height="17.600000000000136" fill="#b0204c"/>
<rect x="118.3" y="1289.6" width="2.0" height="17.600000000000136" fill="#b0204c"/>
<rect x="130.9" y="1289.6" width="2.0" height="17.600000000000136" fill="#b0204c"/>
<rect x="171.7" y="1289.6" width="2.0" height="17.600000000000136" fill="#b0204c"/>
<rect x="186.5" y="1289.6" width="2.0" height="17.600000000000136" fill="#b0204c"/>
<rect x="203.4" y="1289.6" width="2.0" height="17.600000000000136" fill="#b0204c"/>
<rect x="225.8" y="1289.6" width="2.0" height="17.600000000000136" fill="#b0204c"/>
<rect x="229.8" y="1289.6" width="2.0" height="17.600000000000136" fill="#b0204c"/>
<rect x="260.1" y="1289.6" width="2.0" height="17.600000000000136" fill="#b0204c"/>
<rect x="273.6" y="1289.6" width="2.0" height="17.600000000000136" fill="#b0204c"/>
<rect x="326.1" y="1289.6" width="2.0" height="17.600000000000136" fill="#b0204c"/>
<rect x="410.6" y="1289.6" width="397.9" height="17.600000000000136" rx="3" fill="#3c4fa3"/>
<rect x="442.5" y="1289.6" width="2.0" height="17.600000000000136" fill="#b0204c"/>
<rect x="532.4" y="1289.6" width="2.0" height="17.600000000000136" fill="#b0204c"/>
<rect x="558.5" y="1289.6" width="2.0" height="17.600000000000136" fill="#b0204c"/>
<rect x="600.6" y="1289.6" width="2.0" height="17.600000000000136" fill="#b0204c"/>
<rect x="616.6" y="1289.6" width="2.0" height="17.600000000000136" fill="#b0204c"/>
<rect x="630.6" y="1289.6" width="2.0" height="17.600000000000136" fill="#b0204c"/>
<rect x="639.0" y="1289.6" width="2.0" height="17.600000000000136" fill="#b0204c"/>
<rect x="647.5" y="1289.6" width="2.0" height="17.600000000000136" fill="#b0204c"/>
<rect x="675.5" y="1289.6" width="2.0" height="17.600000000000136" fill="#b0204c"/>
<rect x="696.6" y="1289.6" width="2.0" height="17.600000000000136" fill="#b0204c"/>
<rect x="717.6" y="1289.6" width="2.0" height="17.600000000000136" fill="#b0204c"/>
<rect x="721.3" y="1289.6" width="2.0" height="17.600000000000136" fill="#b0204c"/>
<rect x="803.3" y="1289.6" width="2.0" height="17.600000000000136" fill="#b0204c"/>
<text x="6.3" y="999.3" font-size="27" text-anchor="start" >F</text>
<text x="7.6" y="1143.5" font-size="27" text-anchor="start" >A</text>
<text x="5.3" y="1306.9" font-size="26.5" text-anchor="start" >D</text>
<text x="210" y="1342.8" font-size="26" text-anchor="middle" >Chr08</text>
<text x="586" y="1342.8" font-size="26" text-anchor="middle" >Chr10</text>
<line x1="952.3" y1="978.1" x2="952.3" y2="1298.8" stroke="#000" stroke-width="2"/>
<line x1="945.3" y1="1298.8" x2="1144" y2="1298.8" stroke="#000" stroke-width="2"/>
<line x1="945.3" y1="1298.8" x2="952.3" y2="1298.8" stroke="#000" stroke-width="2"/>
<text x="928.5" y="1307.6" font-size="25" text-anchor="end">0</text>
<line x1="945.3" y1="1234.7" x2="952.3" y2="1234.7" stroke="#000" stroke-width="2"/>
<text x="928.5" y="1243.5" font-size="25" text-anchor="end">20</text>
<line x1="945.3" y1="1170.5" x2="952.3" y2="1170.5" stroke="#000" stroke-width="2"/>
<text x="928.5" y="1179.3" font-size="25" text-anchor="end">40</text>
<line x1="945.3" y1="1106.4" x2="952.3" y2="1106.4" stroke="#000" stroke-width="2"/>
<text x="928.5" y="1115.2" font-size="25" text-anchor="end">60</text>
<line x1="945.3" y1="1042.2" x2="952.3" y2="1042.2" stroke="#000" stroke-width="2"/>
<text x="928.5" y="1051.0" font-size="25" text-anchor="end">80</text>
<line x1="945.3" y1="978.1" x2="952.3" y2="978.1" stroke="#000" stroke-width="2"/>
<text x="928.5" y="986.9" font-size="25" text-anchor="end">100</text>
<rect x="961.8000000000001" y="980.3" width="21.200000000000024" height="318.5" fill="#808080" stroke="#000" stroke-width="4.4"/>
<rect x="1000.0" y="980.3" width="20.500000000000092" height="318.5" fill="#808080" stroke="#000" stroke-width="4.4"/>
<rect x="1038.2" y="1044.4" width="21.19999999999991" height="254.4" fill="#808080" stroke="#000" stroke-width="4.4"/>
<rect x="1077.4" y="980.3" width="19.6" height="318.5" fill="#808080" stroke="#000" stroke-width="4.4"/>
<rect x="1115.3" y="980.3" width="20.500000000000092" height="318.5" fill="#808080" stroke="#000" stroke-width="4.4"/>
<text x="971.2" y="1342.8" font-size="25" text-anchor="middle">F</text>
<text x="1010" y="1342.8" font-size="25" text-anchor="middle">B</text>
<text x="1048.6" y="1342.8" font-size="25" text-anchor="middle">C</text>
<text x="1087" y="1342.8" font-size="25" text-anchor="middle">A</text>
<text x="1125.6" y="1342.8" font-size="25" text-anchor="middle">D</text>
<text transform="translate(845.6,1132.5) rotate(-90)" x="0" y="0" font-size="26.4" text-anchor="middle">Proportion of chromosomes</text>
<text transform="translate(877.3,1134.6) rotate(-90)" x="0" y="0" font-size="26.4" text-anchor="middle">with good synteny (%)</text>
<line x1="1286.3" y1="971.5" x2="1286.3" y2="1300.5" stroke="#000" stroke-width="2"/>
<line x1="1279.3" y1="1300.5" x2="1492.3" y2="1300.5" stroke="#000" stroke-width="2"/>
<line x1="1279.3" y1="1300.5" x2="1286.3" y2="1300.5" stroke="#000" stroke-width="2"/>
<text x="1262" y="1309.3" font-size="25" text-anchor="end">0</text>
<line x1="1279.3" y1="1234.7" x2="1286.3" y2="1234.7" stroke="#000" stroke-width="2"/>
<text x="1262" y="1243.5" font-size="25" text-anchor="end">20</text>
<line x1="1279.3" y1="1168.9" x2="1286.3" y2="1168.9" stroke="#000" stroke-width="2"/>
<text x="1262" y="1177.7" font-size="25" text-anchor="end">40</text>
<line x1="1279.3" y1="1103.1" x2="1286.3" y2="1103.1" stroke="#000" stroke-width="2"/>
<text x="1262" y="1111.9" font-size="25" text-anchor="end">60</text>
<line x1="1279.3" y1="1037.3" x2="1286.3" y2="1037.3" stroke="#000" stroke-width="2"/>
<text x="1262" y="1046.1" font-size="25" text-anchor="end">80</text>
<line x1="1279.3" y1="971.5" x2="1286.3" y2="971.5" stroke="#000" stroke-width="2"/>
<text x="1262" y="980.3" font-size="25" text-anchor="end">100</text>
<rect x="1294.5" y="1005.3" width="22.800000000000047" height="295.2" fill="#808080" stroke="#000" stroke-width="4.4"/>
<rect x="1336.7" y="1007.3" width="22.1" height="293.2" fill="#808080" stroke="#000" stroke-width="4.4"/>
<rect x="1378.2" y="987.8" width="22.19999999999991" height="312.7" fill="#808080" stroke="#000" stroke-width="4.4"/>
<rect x="1419.8" y="987.8" width="21.200000000000138" height="312.7" fill="#808080" stroke="#000" stroke-width="4.4"/>
<rect x="1460.6000000000001" y="1005.3" width="21.899999999999956" height="295.2" fill="#808080" stroke="#000" stroke-width="4.4"/>
<text x="1306.2" y="1344.5" font-size="25" text-anchor="middle">F</text>
<text x="1347.8" y="1344.5" font-size="25" text-anchor="middle">B</text>
<text x="1389.3" y="1344.5" font-size="25" text-anchor="middle">C</text>
<text x="1429.2" y="1344.5" font-size="25" text-anchor="middle">A</text>
<text x="1470.7" y="1344.5" font-size="25" text-anchor="middle">D</text>
<text transform="translate(1191.1,1127.7) rotate(-90)" x="0" y="0" font-size="26.4" text-anchor="middle">Proportion of BES supported</text>
<text transform="translate(1222.8,1127.8) rotate(-90)" x="0" y="0" font-size="26.4" text-anchor="middle">genome variations(%)</text>
</svg></body></html>
